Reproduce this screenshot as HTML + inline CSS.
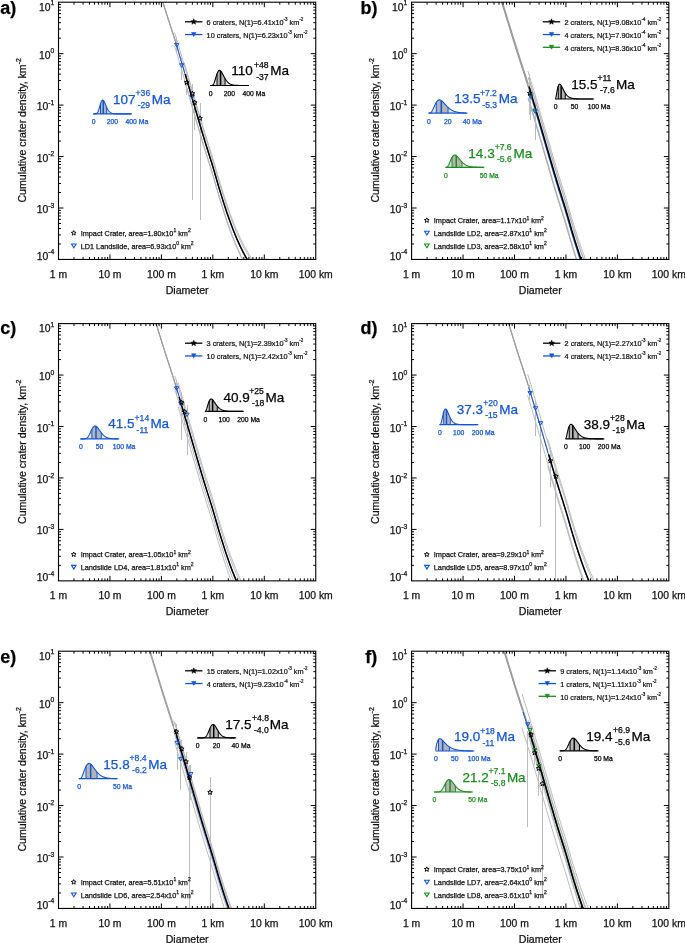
<!DOCTYPE html>
<html><head><meta charset="utf-8"><style>
html,body{margin:0;padding:0;background:#fff;overflow:hidden}
svg{display:block;will-change:transform}
text{font-family:"Liberation Sans", sans-serif;stroke-width:0.25px}
</style></head><body>
<svg width="685" height="943" viewBox="0 0 685 943">
<clipPath id="cpa"><rect x="58.50" y="2.20" width="257.25" height="257.25"/></clipPath>
<g clip-path="url(#cpa)">
<path d="M162.73 2.20 L163.76 5.47 L164.79 8.70 L165.82 11.91 L166.85 15.09 L167.87 18.27 L168.90 21.43 L169.93 24.60 L170.96 27.78 L171.99 30.97 L173.02 34.19 L174.05 37.45 L175.08 40.74" fill="none" stroke="#9c9c9c" stroke-width="1.1"/>
<path d="M174.57 32.63 L175.60 35.95 L176.63 39.32 L177.66 42.72 L178.69 46.16 L179.72 49.63 L180.75 53.12 L181.77 56.62 L182.80 60.13 L183.83 63.63 L184.86 67.13 L185.89 70.62 L186.92 74.12 L187.95 77.63 L188.98 81.16 L190.01 84.70 L191.03 88.24 L192.06 91.79 L193.09 95.34 L194.12 98.89 L195.15 102.43 L196.18 105.97 L197.21 109.49 L198.24 113.01 L199.27 116.51 L200.30 119.99 L201.33 123.45 L202.35 126.89 L203.38 130.30 L204.41 133.68 L205.44 137.00 L206.47 140.28 L207.50 143.54 L208.53 146.78 L209.56 150.03 L210.59 153.29 L211.61 156.60 L212.64 159.96 L213.67 163.40 L214.70 166.93 L215.73 170.51 L216.76 174.11 L217.79 177.67 L218.82 181.18 L219.85 184.58 L220.88 187.92 L221.91 191.23 L222.93 194.50 L223.96 197.73 L224.99 200.91 L226.02 204.03 L227.05 207.08 L228.08 210.05 L229.11 212.95 L230.14 215.80 L231.17 218.59 L232.20 221.32 L233.22 223.98 L234.25 226.58 L235.28 229.09 L236.31 231.53 L237.34 233.92 L238.37 236.25 L239.40 238.52 L240.43 240.73 L241.46 242.87 L242.49 244.93 L243.51 246.91 L244.54 248.82 L245.57 250.67 L246.60 252.47 L247.63 254.23 L248.66 255.94 L249.69 257.61 L250.72 259.23 L250.86 259.45" fill="none" stroke="#aaaaaa" stroke-width="0.8"/>
<path d="M174.57 46.18 L175.60 49.50 L176.63 52.86 L177.66 56.27 L178.69 59.71 L179.72 63.17 L180.75 66.66 L181.77 70.16 L182.80 73.67 L183.83 77.18 L184.86 80.68 L185.89 84.17 L186.92 87.66 L187.95 91.18 L188.98 94.70 L190.01 98.24 L191.03 101.78 L192.06 105.33 L193.09 108.88 L194.12 112.43 L195.15 115.97 L196.18 119.51 L197.21 123.04 L198.24 126.55 L199.27 130.05 L200.30 133.54 L201.33 137.00 L202.35 140.44 L203.38 143.85 L204.41 147.23 L205.44 150.55 L206.47 153.83 L207.50 157.08 L208.53 160.32 L209.56 163.57 L210.59 166.84 L211.61 170.15 L212.64 173.51 L213.67 176.95 L214.70 180.48 L215.73 184.06 L216.76 187.65 L217.79 191.22 L218.82 194.72 L219.85 198.12 L220.88 201.46 L221.91 204.77 L222.93 208.05 L223.96 211.28 L224.99 214.46 L226.02 217.58 L227.05 220.63 L228.08 223.60 L229.11 226.49 L230.14 229.34 L231.17 232.13 L232.20 234.86 L233.22 237.53 L234.25 240.12 L235.28 242.64 L236.31 245.08 L237.34 247.46 L238.37 249.79 L239.40 252.06 L240.43 254.27 L241.46 256.41 L242.49 258.48 L242.99 259.45" fill="none" stroke="#aaaaaa" stroke-width="0.8"/>
<path d="M162.93 2.20 L163.96 5.46 L164.99 8.69 L166.02 11.89 L167.05 15.07 L168.07 18.24 L169.10 21.41 L170.13 24.58 L171.16 27.76 L172.19 30.96 L173.22 34.19 L174.25 37.45 L175.28 40.75 L176.31 44.10 L177.34 47.50 L178.36 50.93 L179.39 54.38 L180.42 57.87 L181.45 61.36 L182.48 64.87 L183.51 68.38 L184.54 71.88" fill="none" stroke="#9c9c9c" stroke-width="1.1"/>
<path d="M184.17 62.54 L185.20 66.04 L186.23 69.53 L187.26 73.03 L188.29 76.55 L189.32 80.08 L190.34 83.62 L191.37 87.16 L192.40 90.71 L193.43 94.26 L194.46 97.81 L195.49 101.35 L196.52 104.88 L197.55 108.41 L198.58 111.92 L199.61 115.41 L200.63 118.89 L201.66 122.34 L202.69 125.77 L203.72 129.17 L204.75 132.54 L205.78 135.84 L206.81 139.11 L207.84 142.36 L208.87 145.60 L209.90 148.85 L210.92 152.13 L211.95 155.45 L212.98 158.84 L214.01 162.31 L215.04 165.86 L216.07 169.45 L217.10 173.04 L218.13 176.59 L219.16 180.06 L220.19 183.43 L221.22 186.76 L222.24 190.06 L223.27 193.33 L224.30 196.54 L225.33 199.70 L226.36 202.80 L227.39 205.82 L228.42 208.77 L229.45 211.65 L230.48 214.47 L231.50 217.25 L232.53 219.96 L233.56 222.60 L234.59 225.17 L235.62 227.66 L236.65 230.07 L237.68 232.44 L238.71 234.76 L239.74 237.01 L240.77 239.20 L241.80 241.31 L242.82 243.35 L243.85 245.30 L244.88 247.18 L245.91 249.02 L246.94 250.81 L247.97 252.55 L249.00 254.25 L250.03 255.90 L251.06 257.50 L252.09 259.06 L252.35 259.45" fill="none" stroke="#aaaaaa" stroke-width="0.8"/>
<path d="M184.17 79.79 L185.20 83.29 L186.23 86.78 L187.26 90.28 L188.29 93.80 L189.32 97.33 L190.34 100.87 L191.37 104.41 L192.40 107.96 L193.43 111.51 L194.46 115.06 L195.49 118.60 L196.52 122.14 L197.55 125.66 L198.58 129.17 L199.61 132.67 L200.63 136.14 L201.66 139.60 L202.69 143.03 L203.72 146.43 L204.75 149.79 L205.78 153.09 L206.81 156.36 L207.84 159.61 L208.87 162.85 L209.90 166.10 L210.92 169.38 L211.95 172.71 L212.98 176.09 L214.01 179.56 L215.04 183.11 L216.07 186.70 L217.10 190.29 L218.13 193.84 L219.16 197.32 L220.19 200.69 L221.22 204.02 L222.24 207.32 L223.27 210.58 L224.30 213.79 L225.33 216.96 L226.36 220.05 L227.39 223.08 L228.42 226.02 L229.45 228.90 L230.48 231.73 L231.50 234.50 L232.53 237.21 L233.56 239.85 L234.59 242.42 L235.62 244.91 L236.65 247.33 L237.68 249.69 L238.71 252.01 L239.74 254.26 L240.77 256.45 L241.80 258.56 L242.24 259.45" fill="none" stroke="#aaaaaa" stroke-width="0.8"/>
<path d="M176.50 37.00V52.00" stroke="#bcbcbc" stroke-width="1"/>
<path d="M181.50 58.00V80.00" stroke="#bcbcbc" stroke-width="1"/>
<path d="M186.50 74.00V95.00" stroke="#bcbcbc" stroke-width="1"/>
<path d="M192.50 85.00V200.00" stroke="#bcbcbc" stroke-width="1"/>
<path d="M192.50 84.00V130.00" stroke="#bcbcbc" stroke-width="1"/>
<path d="M194.50 92.00V130.00" stroke="#bcbcbc" stroke-width="1"/>
<path d="M200.50 103.00V220.00" stroke="#bcbcbc" stroke-width="1"/>
<path d="M175.60 42.43 L176.63 45.80 L177.66 49.20 L178.69 52.64 L179.72 56.11 L180.75 59.60 L181.77 63.10 L182.80 66.61 L183.83 70.11 L184.86 73.61 L185.89 77.10 L186.92 80.60 L187.95 84.11 L188.98 87.64 L190.01 91.18 L191.03 94.72 L192.06 98.27 L193.09 101.82 L194.12 105.37 L195.15 108.91 L196.18 112.45 L197.21 115.97 L198.24 119.49 L199.27 122.99 L200.30 126.47 L201.33 129.93 L202.35 133.37 L203.38 136.78 L204.41 140.16 L205.44 143.49 L206.47 146.76 L207.50 150.02 L208.53 153.26 L209.56 156.51 L210.59 159.77 L211.61 163.08 L212.64 166.44 L213.67 169.88 L214.70 173.41 L215.73 176.99 L216.76 180.59 L217.79 184.15 L218.82 187.66 L219.85 191.06 L220.88 194.40 L221.91 197.71 L222.93 200.98 L223.96 204.22 L224.99 207.40 L226.02 210.51 L227.05 213.56 L228.08 216.53 L229.11 219.43 L230.14 222.28 L231.17 225.07 L232.20 227.80 L233.22 230.46 L234.25 233.06 L235.28 235.57 L236.31 238.01 L237.34 240.40 L238.37 242.73 L239.40 245.00 L240.43 247.21 L241.46 249.35 L242.49 251.41 L243.51 253.39 L244.54 255.30 L245.57 257.15 L246.60 258.95 L246.89 259.45" fill="none" stroke="#1155d4" stroke-width="1.0"/>
<path d="M185.20 74.13 L186.23 77.62 L187.26 81.12 L188.29 84.64 L189.32 88.17 L190.34 91.71 L191.37 95.25 L192.40 98.80 L193.43 102.35 L194.46 105.90 L195.49 109.44 L196.52 112.97 L197.55 116.50 L198.58 120.01 L199.61 123.50 L200.63 126.98 L201.66 130.43 L202.69 133.86 L203.72 137.27 L204.75 140.63 L205.78 143.93 L206.81 147.20 L207.84 150.45 L208.87 153.69 L209.90 156.94 L210.92 160.22 L211.95 163.55 L212.98 166.93 L214.01 170.40 L215.04 173.95 L216.07 177.54 L217.10 181.13 L218.13 184.68 L219.16 188.15 L220.19 191.53 L221.22 194.85 L222.24 198.15 L223.27 201.42 L224.30 204.63 L225.33 207.79 L226.36 210.89 L227.39 213.91 L228.42 216.86 L229.45 219.74 L230.48 222.57 L231.50 225.34 L232.53 228.05 L233.56 230.69 L234.59 233.26 L235.62 235.75 L236.65 238.17 L237.68 240.53 L238.71 242.85 L239.74 245.10 L240.77 247.29 L241.80 249.40 L242.82 251.44 L243.85 253.39 L244.88 255.28 L245.91 257.11 L246.94 258.90 L247.26 259.45" fill="none" stroke="#000" stroke-width="1.5"/>
<path d="M174.55 43.55 L178.85 43.55 L176.70 47.05Z" fill="none" stroke="#1155d4" stroke-width="1.0" stroke-linejoin="miter"/>
<path d="M179.55 63.75 L183.85 63.75 L181.70 67.25Z" fill="none" stroke="#1155d4" stroke-width="1.0" stroke-linejoin="miter"/>
<path d="M189.85 95.45 L194.15 95.45 L192.00 98.95Z" fill="none" stroke="#1155d4" stroke-width="1.0" stroke-linejoin="miter"/>
<path d="M186.70 80.00 L187.36 81.59 L189.08 81.73 L187.77 82.85 L188.17 84.52 L186.70 83.62 L185.23 84.52 L185.63 82.85 L184.32 81.73 L186.04 81.59Z" fill="none" stroke="#000" stroke-width="0.95" stroke-linejoin="miter"/>
<path d="M192.30 91.10 L192.96 92.69 L194.68 92.83 L193.37 93.95 L193.77 95.62 L192.30 94.72 L190.83 95.62 L191.23 93.95 L189.92 92.83 L191.64 92.69Z" fill="none" stroke="#000" stroke-width="0.95" stroke-linejoin="miter"/>
<path d="M194.70 100.10 L195.36 101.69 L197.08 101.83 L195.77 102.95 L196.17 104.62 L194.70 103.72 L193.23 104.62 L193.63 102.95 L192.32 101.83 L194.04 101.69Z" fill="none" stroke="#000" stroke-width="0.95" stroke-linejoin="miter"/>
<path d="M200.00 115.80 L200.66 117.39 L202.38 117.53 L201.07 118.65 L201.47 120.32 L200.00 119.42 L198.53 120.32 L198.93 118.65 L197.62 117.53 L199.34 117.39Z" fill="none" stroke="#000" stroke-width="0.95" stroke-linejoin="miter"/>
</g>
<path d="M185.00 21.80h17.4" stroke="#000" stroke-width="1.3"/>
<path d="M193.70 18.80 L194.44 20.78 L196.55 20.87 L194.90 22.19 L195.46 24.23 L193.70 23.06 L191.94 24.23 L192.50 22.19 L190.85 20.87 L192.96 20.78Z" fill="#000" stroke="#000" stroke-width="0.6" stroke-linejoin="miter"/>
<text transform="scale(0.915 1)" x="225.79" y="25.10" font-size="8" fill="#111" stroke="#111">6 craters, N(1)=6.41x10<tspan font-size="4.9" dy="-4.0">-3</tspan><tspan dy="4.0"> km</tspan><tspan font-size="4.9" dy="-4.0">-2</tspan></text>
<path d="M185.00 34.55h17.4" stroke="#1155d4" stroke-width="1.3"/>
<path d="M191.50 32.45 L195.90 32.45 L193.70 36.45Z" fill="#1155d4" stroke="#1155d4" stroke-width="0.6" stroke-linejoin="miter"/>
<text transform="scale(0.915 1)" x="225.79" y="37.85" font-size="8" fill="#111" stroke="#111">10 craters, N(1)=6.23x10<tspan font-size="4.9" dy="-4.0">-3</tspan><tspan dy="4.0"> km</tspan><tspan font-size="4.9" dy="-4.0">-2</tspan></text>
<path d="M73.70 230.60 L74.36 232.19 L76.08 232.33 L74.77 233.45 L75.17 235.12 L73.70 234.22 L72.23 235.12 L72.63 233.45 L71.32 232.33 L73.04 232.19Z" fill="none" stroke="#000" stroke-width="0.95" stroke-linejoin="miter"/>
<text x="80.70" y="235.90" font-size="7.3" fill="#111" stroke="#111">Impact Crater, area=1.80x10<tspan font-size="5" dy="-3.6">1</tspan><tspan dy="3.6"> km</tspan><tspan font-size="5" dy="-3.6">2</tspan></text>
<path d="M71.50 244.00 L76.10 244.00 L73.80 247.70Z" fill="none" stroke="#1155d4" stroke-width="1.1" stroke-linejoin="miter"/>
<text x="80.70" y="248.65" font-size="7.3" fill="#111" stroke="#111">LD1 Landslide, area=6.93x10<tspan font-size="5" dy="-3.6">0</tspan><tspan dy="3.6"> km</tspan><tspan font-size="5" dy="-3.6">2</tspan></text>
<path d="M93.28 113.90 L93.55 113.90 L93.82 113.90 L94.09 113.90 L94.36 113.90 L94.63 113.90 L94.89 113.90 L95.16 113.90 L95.43 113.89 L95.70 113.87 L95.97 113.83 L96.24 113.77 L96.51 113.66 L96.78 113.51 L97.05 113.28 L97.32 112.98 L97.59 112.58 L97.86 112.09 L98.13 111.50 L98.40 110.82 L98.67 110.04 L98.94 109.19 L99.21 108.28 L99.48 107.33 L99.75 106.36 L100.02 105.39 L100.29 104.46 L100.56 103.58 L100.83 102.77 L101.10 102.04 L101.37 101.43 L101.64 100.92 L101.91 100.53 L102.18 100.27 L102.45 100.13 L102.72 100.11 L102.99 100.20 L103.26 100.39 L103.53 100.68 L103.80 101.06 L104.07 101.50 L104.34 102.01 L104.61 102.56 L104.88 103.15 L105.15 103.76 L105.42 104.39 L105.69 105.02 L105.96 105.65 L106.23 106.28 L106.50 106.88 L106.77 107.46 L107.04 108.02 L107.31 108.56 L107.58 109.06 L107.85 109.53 L108.12 109.97 L108.39 110.37 L108.66 110.75 L108.93 111.09 L109.20 111.40 L109.47 111.69 L109.74 111.95 L110.01 112.18 L110.28 112.39 L110.55 112.57 L110.82 112.74 L111.09 112.89 L111.36 113.02 L111.63 113.14 L111.90 113.24 L112.17 113.33 L112.44 113.41 L112.71 113.48 L112.98 113.54 L113.25 113.59 L113.52 113.63 L113.79 113.67 L114.06 113.70 L114.33 113.73 L114.60 113.76 L114.87 113.78 L115.14 113.80 L115.41 113.81 L115.68 113.83 L115.95 113.84 L116.22 113.85 L116.49 113.86 L116.76 113.86 L117.03 113.87 L117.30 113.87 L117.57 113.88 L117.84 113.88 L118.11 113.89 L118.38 113.89 L118.65 113.89 L118.92 113.89 L119.19 113.89 L119.46 113.89 L119.73 113.90 L120.00 113.90 L120.27 113.90 L120.54 113.90 L120.81 113.90 L121.08 113.90 L121.35 113.90 L121.62 113.90 L121.89 113.90 L122.16 113.90 L122.43 113.90 L122.70 113.90 L122.97 113.90 L123.24 113.90 L123.51 113.90 L123.78 113.90 L124.05 113.90 L124.32 113.90 L124.59 113.90 L124.86 113.90 L125.13 113.90 L125.40 113.90 L125.67 113.90 L125.94 113.90 L126.21 113.90 L126.48 113.90 L126.75 113.90 L127.02 113.90 L127.29 113.90 L127.56 113.90 L127.83 113.90 L128.10 113.90 L128.37 113.90 L128.64 113.90 L128.91 113.90 L129.18 113.90 L129.45 113.90 L129.72 113.90 L129.99 113.90 L130.26 113.90 L130.53 113.90 L130.80 113.90 L130.80 113.90 L93.28 113.90Z" fill="#e4e4e4" stroke="none"/>
<path d="M100.56 113.90 L100.56 103.58 L100.83 102.77 L101.10 102.04 L101.37 101.43 L101.64 100.92 L101.91 100.53 L102.18 100.27 L102.45 100.13 L102.72 100.11 L102.99 100.20 L103.26 100.39 L103.53 100.68 L103.80 101.06 L104.07 101.50 L104.34 102.01 L104.61 102.56 L104.88 103.15 L105.15 103.76 L105.42 104.39 L105.69 105.02 L105.96 105.65 L106.23 106.28 L106.50 106.88 L106.50 113.90Z" fill="#b4b4b4" stroke="none"/>
<path d="M100.53 113.90V103.68" stroke="#1155d4" stroke-width="1.0"/>
<path d="M106.64 113.90V107.18" stroke="#1155d4" stroke-width="1.0"/>
<path d="M103.26 113.90V100.39" stroke="#1155d4" stroke-width="1.5"/>
<path d="M93.28 113.90 L93.55 113.90 L93.82 113.90 L94.09 113.90 L94.36 113.90 L94.63 113.90 L94.89 113.90 L95.16 113.90 L95.43 113.89 L95.70 113.87 L95.97 113.83 L96.24 113.77 L96.51 113.66 L96.78 113.51 L97.05 113.28 L97.32 112.98 L97.59 112.58 L97.86 112.09 L98.13 111.50 L98.40 110.82 L98.67 110.04 L98.94 109.19 L99.21 108.28 L99.48 107.33 L99.75 106.36 L100.02 105.39 L100.29 104.46 L100.56 103.58 L100.83 102.77 L101.10 102.04 L101.37 101.43 L101.64 100.92 L101.91 100.53 L102.18 100.27 L102.45 100.13 L102.72 100.11 L102.99 100.20 L103.26 100.39 L103.53 100.68 L103.80 101.06 L104.07 101.50 L104.34 102.01 L104.61 102.56 L104.88 103.15 L105.15 103.76 L105.42 104.39 L105.69 105.02 L105.96 105.65 L106.23 106.28 L106.50 106.88 L106.77 107.46 L107.04 108.02 L107.31 108.56 L107.58 109.06 L107.85 109.53 L108.12 109.97 L108.39 110.37 L108.66 110.75 L108.93 111.09 L109.20 111.40 L109.47 111.69 L109.74 111.95 L110.01 112.18 L110.28 112.39 L110.55 112.57 L110.82 112.74 L111.09 112.89 L111.36 113.02 L111.63 113.14 L111.90 113.24 L112.17 113.33 L112.44 113.41 L112.71 113.48 L112.98 113.54 L113.25 113.59 L113.52 113.63 L113.79 113.67 L114.06 113.70 L114.33 113.73 L114.60 113.76 L114.87 113.78 L115.14 113.80 L115.41 113.81 L115.68 113.83 L115.95 113.84 L116.22 113.85 L116.49 113.86 L116.76 113.86 L117.03 113.87 L117.30 113.87 L117.57 113.88 L117.84 113.88 L118.11 113.89 L118.38 113.89 L118.65 113.89 L118.92 113.89 L119.19 113.89 L119.46 113.89 L119.73 113.90 L120.00 113.90 L120.27 113.90 L120.54 113.90 L120.81 113.90 L121.08 113.90 L121.35 113.90 L121.62 113.90 L121.89 113.90 L122.16 113.90 L122.43 113.90 L122.70 113.90 L122.97 113.90 L123.24 113.90 L123.51 113.90 L123.78 113.90 L124.05 113.90 L124.32 113.90 L124.59 113.90 L124.86 113.90 L125.13 113.90 L125.40 113.90 L125.67 113.90 L125.94 113.90 L126.21 113.90 L126.48 113.90 L126.75 113.90 L127.02 113.90 L127.29 113.90 L127.56 113.90 L127.83 113.90 L128.10 113.90 L128.37 113.90 L128.64 113.90 L128.91 113.90 L129.18 113.90 L129.45 113.90 L129.72 113.90 L129.99 113.90 L130.26 113.90 L130.53 113.90 L130.80 113.90" fill="none" stroke="#1155d4" stroke-width="1.1"/>
<path d="M93.20 113.90H132.00" stroke="#1155d4" stroke-width="1.2"/>
<text x="93.60" y="124.30" font-size="6.8" text-anchor="middle" fill="#1155d4" stroke="#1155d4">0</text>
<text x="112.40" y="124.30" font-size="6.8" text-anchor="middle" fill="#1155d4" stroke="#1155d4">200</text>
<text x="125.53" y="124.30" font-size="6.8" fill="#1155d4" stroke="#1155d4">400 Ma</text>
<text x="112.97" y="104.00" font-size="13.5" fill="#1155d4" stroke="#1155d4">107</text>
<text x="135.58" y="96.25" font-size="8.6" fill="#1155d4" stroke="#1155d4">+36</text>
<text x="137.72" y="108.20" font-size="8.6" fill="#1155d4" stroke="#1155d4">-29</text>
<text x="151.79" y="104.00" font-size="13.5" fill="#1155d4" stroke="#1155d4">Ma</text>
<path d="M210.28 85.50 L210.55 85.50 L210.82 85.50 L211.09 85.50 L211.36 85.49 L211.63 85.47 L211.89 85.43 L212.16 85.35 L212.43 85.23 L212.70 85.05 L212.97 84.79 L213.24 84.46 L213.51 84.04 L213.78 83.54 L214.05 82.95 L214.32 82.28 L214.59 81.53 L214.86 80.73 L215.13 79.87 L215.40 78.99 L215.67 78.08 L215.94 77.17 L216.21 76.28 L216.48 75.41 L216.75 74.59 L217.02 73.81 L217.29 73.10 L217.56 72.46 L217.83 71.90 L218.10 71.42 L218.37 71.02 L218.64 70.71 L218.91 70.49 L219.18 70.36 L219.45 70.30 L219.72 70.32 L219.99 70.42 L220.26 70.58 L220.53 70.81 L220.80 71.09 L221.07 71.43 L221.34 71.80 L221.61 72.21 L221.88 72.66 L222.15 73.13 L222.42 73.61 L222.69 74.12 L222.96 74.63 L223.23 75.15 L223.50 75.66 L223.77 76.18 L224.04 76.69 L224.31 77.19 L224.58 77.68 L224.85 78.15 L225.12 78.62 L225.39 79.06 L225.66 79.49 L225.93 79.90 L226.20 80.29 L226.47 80.66 L226.74 81.01 L227.01 81.35 L227.28 81.66 L227.55 81.96 L227.82 82.24 L228.09 82.50 L228.36 82.74 L228.63 82.97 L228.90 83.18 L229.17 83.38 L229.44 83.56 L229.71 83.73 L229.98 83.88 L230.25 84.03 L230.52 84.16 L230.79 84.28 L231.06 84.39 L231.33 84.50 L231.60 84.59 L231.87 84.68 L232.14 84.76 L232.41 84.83 L232.68 84.89 L232.95 84.95 L233.22 85.01 L233.49 85.06 L233.76 85.10 L234.03 85.14 L234.30 85.18 L234.57 85.21 L234.84 85.24 L235.11 85.27 L235.38 85.29 L235.65 85.31 L235.92 85.33 L236.19 85.35 L236.46 85.37 L236.73 85.38 L237.00 85.39 L237.27 85.40 L237.54 85.42 L237.81 85.42 L238.08 85.43 L238.35 85.44 L238.62 85.45 L238.89 85.45 L239.16 85.46 L239.43 85.46 L239.70 85.47 L239.97 85.47 L240.24 85.47 L240.51 85.48 L240.78 85.48 L241.05 85.48 L241.32 85.48 L241.59 85.49 L241.86 85.49 L242.13 85.49 L242.40 85.49 L242.67 85.49 L242.94 85.49 L243.21 85.49 L243.48 85.49 L243.75 85.49 L244.02 85.50 L244.29 85.50 L244.56 85.50 L244.83 85.50 L245.10 85.50 L245.37 85.50 L245.64 85.50 L245.91 85.50 L246.18 85.50 L246.45 85.50 L246.72 85.50 L246.99 85.50 L247.26 85.50 L247.53 85.50 L247.80 85.50 L247.80 85.50 L210.28 85.50Z" fill="#e4e4e4" stroke="none"/>
<path d="M217.29 85.50 L217.29 73.10 L217.56 72.46 L217.83 71.90 L218.10 71.42 L218.37 71.02 L218.64 70.71 L218.91 70.49 L219.18 70.36 L219.45 70.30 L219.72 70.32 L219.99 70.42 L220.26 70.58 L220.53 70.81 L220.80 71.09 L221.07 71.43 L221.34 71.80 L221.61 72.21 L221.88 72.66 L222.15 73.13 L222.42 73.61 L222.69 74.12 L222.96 74.63 L223.23 75.15 L223.50 75.66 L223.77 76.18 L224.04 76.69 L224.31 77.19 L224.58 77.68 L224.85 78.15 L224.85 85.50Z" fill="#b4b4b4" stroke="none"/>
<path d="M217.06 85.50V73.71" stroke="#000" stroke-width="1.0"/>
<path d="M225.05 85.50V78.50" stroke="#000" stroke-width="1.0"/>
<path d="M220.54 85.50V70.82" stroke="#000" stroke-width="1.5"/>
<path d="M210.28 85.50 L210.55 85.50 L210.82 85.50 L211.09 85.50 L211.36 85.49 L211.63 85.47 L211.89 85.43 L212.16 85.35 L212.43 85.23 L212.70 85.05 L212.97 84.79 L213.24 84.46 L213.51 84.04 L213.78 83.54 L214.05 82.95 L214.32 82.28 L214.59 81.53 L214.86 80.73 L215.13 79.87 L215.40 78.99 L215.67 78.08 L215.94 77.17 L216.21 76.28 L216.48 75.41 L216.75 74.59 L217.02 73.81 L217.29 73.10 L217.56 72.46 L217.83 71.90 L218.10 71.42 L218.37 71.02 L218.64 70.71 L218.91 70.49 L219.18 70.36 L219.45 70.30 L219.72 70.32 L219.99 70.42 L220.26 70.58 L220.53 70.81 L220.80 71.09 L221.07 71.43 L221.34 71.80 L221.61 72.21 L221.88 72.66 L222.15 73.13 L222.42 73.61 L222.69 74.12 L222.96 74.63 L223.23 75.15 L223.50 75.66 L223.77 76.18 L224.04 76.69 L224.31 77.19 L224.58 77.68 L224.85 78.15 L225.12 78.62 L225.39 79.06 L225.66 79.49 L225.93 79.90 L226.20 80.29 L226.47 80.66 L226.74 81.01 L227.01 81.35 L227.28 81.66 L227.55 81.96 L227.82 82.24 L228.09 82.50 L228.36 82.74 L228.63 82.97 L228.90 83.18 L229.17 83.38 L229.44 83.56 L229.71 83.73 L229.98 83.88 L230.25 84.03 L230.52 84.16 L230.79 84.28 L231.06 84.39 L231.33 84.50 L231.60 84.59 L231.87 84.68 L232.14 84.76 L232.41 84.83 L232.68 84.89 L232.95 84.95 L233.22 85.01 L233.49 85.06 L233.76 85.10 L234.03 85.14 L234.30 85.18 L234.57 85.21 L234.84 85.24 L235.11 85.27 L235.38 85.29 L235.65 85.31 L235.92 85.33 L236.19 85.35 L236.46 85.37 L236.73 85.38 L237.00 85.39 L237.27 85.40 L237.54 85.42 L237.81 85.42 L238.08 85.43 L238.35 85.44 L238.62 85.45 L238.89 85.45 L239.16 85.46 L239.43 85.46 L239.70 85.47 L239.97 85.47 L240.24 85.47 L240.51 85.48 L240.78 85.48 L241.05 85.48 L241.32 85.48 L241.59 85.49 L241.86 85.49 L242.13 85.49 L242.40 85.49 L242.67 85.49 L242.94 85.49 L243.21 85.49 L243.48 85.49 L243.75 85.49 L244.02 85.50 L244.29 85.50 L244.56 85.50 L244.83 85.50 L245.10 85.50 L245.37 85.50 L245.64 85.50 L245.91 85.50 L246.18 85.50 L246.45 85.50 L246.72 85.50 L246.99 85.50 L247.26 85.50 L247.53 85.50 L247.80 85.50" fill="none" stroke="#000" stroke-width="1.1"/>
<path d="M210.20 85.50H249.00" stroke="#000" stroke-width="1.2"/>
<text x="210.60" y="95.90" font-size="6.8" text-anchor="middle" fill="#000" stroke="#000">0</text>
<text x="229.40" y="95.90" font-size="6.8" text-anchor="middle" fill="#000" stroke="#000">200</text>
<text x="242.53" y="95.90" font-size="6.8" fill="#000" stroke="#000">400 Ma</text>
<text x="231.27" y="75.30" font-size="13.5" fill="#000" stroke="#000">110</text>
<text x="253.98" y="67.55" font-size="8.6" fill="#000" stroke="#000">+48</text>
<text x="256.22" y="79.50" font-size="8.6" fill="#000" stroke="#000">-37</text>
<text x="270.19" y="75.30" font-size="13.5" fill="#000" stroke="#000">Ma</text>
<rect x="58.50" y="2.20" width="257.25" height="257.25" fill="none" stroke="#000" stroke-width="1.1"/>
<path d="M73.99 259.45v-2.5M73.99 2.20v2.5M58.50 243.96h2.5M315.75 243.96h-2.5M83.05 259.45v-2.5M83.05 2.20v2.5M58.50 234.90h2.5M315.75 234.90h-2.5M89.48 259.45v-2.5M89.48 2.20v2.5M58.50 228.47h2.5M315.75 228.47h-2.5M94.46 259.45v-2.5M94.46 2.20v2.5M58.50 223.49h2.5M315.75 223.49h-2.5M98.54 259.45v-2.5M98.54 2.20v2.5M58.50 219.41h2.5M315.75 219.41h-2.5M101.98 259.45v-2.5M101.98 2.20v2.5M58.50 215.97h2.5M315.75 215.97h-2.5M104.96 259.45v-2.5M104.96 2.20v2.5M58.50 212.99h2.5M315.75 212.99h-2.5M107.60 259.45v-2.5M107.60 2.20v2.5M58.50 210.35h2.5M315.75 210.35h-2.5M109.95 259.45v-5M109.95 2.20v5M58.50 208.00h5M315.75 208.00h-5M125.44 259.45v-2.5M125.44 2.20v2.5M58.50 192.51h2.5M315.75 192.51h-2.5M134.50 259.45v-2.5M134.50 2.20v2.5M58.50 183.45h2.5M315.75 183.45h-2.5M140.93 259.45v-2.5M140.93 2.20v2.5M58.50 177.02h2.5M315.75 177.02h-2.5M145.91 259.45v-2.5M145.91 2.20v2.5M58.50 172.04h2.5M315.75 172.04h-2.5M149.99 259.45v-2.5M149.99 2.20v2.5M58.50 167.96h2.5M315.75 167.96h-2.5M153.43 259.45v-2.5M153.43 2.20v2.5M58.50 164.52h2.5M315.75 164.52h-2.5M156.41 259.45v-2.5M156.41 2.20v2.5M58.50 161.54h2.5M315.75 161.54h-2.5M159.05 259.45v-2.5M159.05 2.20v2.5M58.50 158.90h2.5M315.75 158.90h-2.5M161.40 259.45v-5M161.40 2.20v5M58.50 156.55h5M315.75 156.55h-5M176.89 259.45v-2.5M176.89 2.20v2.5M58.50 141.06h2.5M315.75 141.06h-2.5M185.95 259.45v-2.5M185.95 2.20v2.5M58.50 132.00h2.5M315.75 132.00h-2.5M192.38 259.45v-2.5M192.38 2.20v2.5M58.50 125.57h2.5M315.75 125.57h-2.5M197.36 259.45v-2.5M197.36 2.20v2.5M58.50 120.59h2.5M315.75 120.59h-2.5M201.44 259.45v-2.5M201.44 2.20v2.5M58.50 116.51h2.5M315.75 116.51h-2.5M204.88 259.45v-2.5M204.88 2.20v2.5M58.50 113.07h2.5M315.75 113.07h-2.5M207.86 259.45v-2.5M207.86 2.20v2.5M58.50 110.09h2.5M315.75 110.09h-2.5M210.50 259.45v-2.5M210.50 2.20v2.5M58.50 107.45h2.5M315.75 107.45h-2.5M212.85 259.45v-5M212.85 2.20v5M58.50 105.10h5M315.75 105.10h-5M228.34 259.45v-2.5M228.34 2.20v2.5M58.50 89.61h2.5M315.75 89.61h-2.5M237.40 259.45v-2.5M237.40 2.20v2.5M58.50 80.55h2.5M315.75 80.55h-2.5M243.83 259.45v-2.5M243.83 2.20v2.5M58.50 74.12h2.5M315.75 74.12h-2.5M248.81 259.45v-2.5M248.81 2.20v2.5M58.50 69.14h2.5M315.75 69.14h-2.5M252.89 259.45v-2.5M252.89 2.20v2.5M58.50 65.06h2.5M315.75 65.06h-2.5M256.33 259.45v-2.5M256.33 2.20v2.5M58.50 61.62h2.5M315.75 61.62h-2.5M259.31 259.45v-2.5M259.31 2.20v2.5M58.50 58.64h2.5M315.75 58.64h-2.5M261.95 259.45v-2.5M261.95 2.20v2.5M58.50 56.00h2.5M315.75 56.00h-2.5M264.30 259.45v-5M264.30 2.20v5M58.50 53.65h5M315.75 53.65h-5M279.79 259.45v-2.5M279.79 2.20v2.5M58.50 38.16h2.5M315.75 38.16h-2.5M288.85 259.45v-2.5M288.85 2.20v2.5M58.50 29.10h2.5M315.75 29.10h-2.5M295.28 259.45v-2.5M295.28 2.20v2.5M58.50 22.67h2.5M315.75 22.67h-2.5M300.26 259.45v-2.5M300.26 2.20v2.5M58.50 17.69h2.5M315.75 17.69h-2.5M304.34 259.45v-2.5M304.34 2.20v2.5M58.50 13.61h2.5M315.75 13.61h-2.5M307.78 259.45v-2.5M307.78 2.20v2.5M58.50 10.17h2.5M315.75 10.17h-2.5M310.76 259.45v-2.5M310.76 2.20v2.5M58.50 7.19h2.5M315.75 7.19h-2.5M313.40 259.45v-2.5M313.40 2.20v2.5M58.50 4.55h2.5M315.75 4.55h-2.5" stroke="#000" stroke-width="1" fill="none"/>
<text x="54.30" y="10.80" font-size="10.4" text-anchor="end" fill="#111" stroke="#111">10<tspan font-size="6.8" dy="-5.4">1</tspan></text>
<text x="54.30" y="58.65" font-size="10.4" text-anchor="end" fill="#111" stroke="#111">10<tspan font-size="6.8" dy="-5.4">0</tspan></text>
<text x="54.30" y="110.10" font-size="10.4" text-anchor="end" fill="#111" stroke="#111">10<tspan font-size="6.8" dy="-5.4">-1</tspan></text>
<text x="54.30" y="161.55" font-size="10.4" text-anchor="end" fill="#111" stroke="#111">10<tspan font-size="6.8" dy="-5.4">-2</tspan></text>
<text x="54.30" y="213.00" font-size="10.4" text-anchor="end" fill="#111" stroke="#111">10<tspan font-size="6.8" dy="-5.4">-3</tspan></text>
<text x="54.30" y="259.55" font-size="10.4" text-anchor="end" fill="#111" stroke="#111">10<tspan font-size="6.8" dy="-5.4">-4</tspan></text>
<text x="58.50" y="278.05" font-size="10.4" text-anchor="middle" fill="#111" stroke="#111">1 m</text>
<text x="109.95" y="278.05" font-size="10.4" text-anchor="middle" fill="#111" stroke="#111">10 m</text>
<text x="161.40" y="278.05" font-size="10.4" text-anchor="middle" fill="#111" stroke="#111">100 m</text>
<text x="212.85" y="278.05" font-size="10.4" text-anchor="middle" fill="#111" stroke="#111">1 km</text>
<text x="264.30" y="278.05" font-size="10.4" text-anchor="middle" fill="#111" stroke="#111">10 km</text>
<text x="315.75" y="278.05" font-size="10.4" text-anchor="middle" fill="#111" stroke="#111">100 km</text>
<text x="187.12" y="293.95" font-size="10.6" text-anchor="middle" fill="#111" stroke="#111">Diameter</text>
<text transform="translate(25.60,130.32) rotate(-90)" font-size="10.55" text-anchor="middle" fill="#111" stroke="#111">Cumulative crater density, km<tspan font-size="7" dy="-4.5">-2</tspan></text>
<text x="16.2" y="13.8" font-size="18" font-weight="bold" text-anchor="end" fill="#000" stroke="#000">a)</text>
<clipPath id="cpb"><rect x="411.60" y="2.20" width="257.25" height="257.25"/></clipPath>
<g clip-path="url(#cpb)">
<path d="M501.97 2.20 L502.99 5.52 L504.02 8.84 L505.05 12.18 L506.08 15.52 L507.11 18.87 L508.14 22.22 L509.17 25.57 L510.20 28.92 L511.23 32.26 L512.26 35.59 L513.28 38.92 L514.31 42.23 L515.34 45.52 L516.37 48.80 L517.40 52.05 L518.43 55.27 L519.46 58.47 L520.49 61.64 L521.52 64.81 L522.55 67.98 L523.57 71.15 L524.60 74.34 L525.63 77.54 L526.66 80.78 L527.69 84.06 L528.72 87.37" fill="none" stroke="#9c9c9c" stroke-width="1.1"/>
<path d="M528.47 77.05 L529.50 80.40 L530.53 83.80 L531.56 87.23 L532.59 90.69 L533.62 94.18 L534.64 97.67 L535.67 101.18 L536.70 104.69 L537.73 108.19 L538.76 111.68 L539.79 115.18 L540.82 118.69 L541.85 122.21 L542.88 125.74 L543.91 129.29 L544.94 132.83 L545.96 136.38 L546.99 139.93 L548.02 143.48 L549.05 147.02 L550.08 150.55 L551.11 154.06 L552.14 157.57 L553.17 161.05 L554.20 164.52 L555.23 167.96 L556.25 171.38 L557.28 174.77 L558.31 178.11 L559.34 181.39 L560.37 184.65 L561.40 187.89 L562.43 191.14 L563.46 194.40 L564.49 197.70 L565.51 201.04 L566.54 204.46 L567.57 207.98 L568.60 211.55 L569.63 215.14 L570.66 218.72 L571.69 222.24 L572.72 225.67 L573.75 229.01 L574.78 232.33 L575.81 235.61 L576.83 238.86 L577.86 242.05 L578.89 245.18 L579.92 248.25 L580.95 251.23 L581.98 254.14 L583.01 257.00 L583.91 259.45" fill="none" stroke="#aaaaaa" stroke-width="0.8"/>
<path d="M528.47 97.67 L529.50 101.03 L530.53 104.43 L531.56 107.86 L532.59 111.32 L533.62 114.80 L534.64 118.30 L535.67 121.81 L536.70 125.32 L537.73 128.82 L538.76 132.31 L539.79 135.80 L540.82 139.31 L541.85 142.84 L542.88 146.37 L543.91 149.91 L544.94 153.46 L545.96 157.01 L546.99 160.56 L548.02 164.10 L549.05 167.64 L550.08 171.17 L551.11 174.69 L552.14 178.20 L553.17 181.68 L554.20 185.15 L555.23 188.59 L556.25 192.01 L557.28 195.40 L558.31 198.73 L559.34 202.02 L560.37 205.28 L561.40 208.52 L562.43 211.76 L563.46 215.03 L564.49 218.32 L565.51 221.67 L566.54 225.09 L567.57 228.60 L568.60 232.18 L569.63 235.77 L570.66 239.35 L571.69 242.87 L572.72 246.30 L573.75 249.64 L574.78 252.96 L575.81 256.24 L576.82 259.45" fill="none" stroke="#aaaaaa" stroke-width="0.8"/>
<path d="M501.57 2.20 L502.60 5.51 L503.63 8.84 L504.66 12.17 L505.69 15.51 L506.72 18.86 L507.75 22.21 L508.78 25.56 L509.80 28.90 L510.83 32.25 L511.86 35.59 L512.89 38.91 L513.92 42.23 L514.95 45.53 L515.98 48.82 L517.01 52.08 L518.04 55.31 L519.07 58.51 L520.09 61.70 L521.12 64.87 L522.15 68.03 L523.18 71.20 L524.21 74.38 L525.24 77.58 L526.27 80.81 L527.30 84.07 L528.33 87.37 L529.36 90.72" fill="none" stroke="#9c9c9c" stroke-width="1.1"/>
<path d="M528.47 78.28 L529.50 81.64 L530.53 85.04 L531.56 88.47 L532.59 91.93 L533.62 95.41 L534.64 98.91 L535.67 102.42 L536.70 105.93 L537.73 109.43 L538.76 112.92 L539.79 116.41 L540.82 119.92 L541.85 123.45 L542.88 126.98 L543.91 130.52 L544.94 134.07 L545.96 137.62 L546.99 141.17 L548.02 144.71 L549.05 148.25 L550.08 151.78 L551.11 155.30 L552.14 158.81 L553.17 162.29 L554.20 165.76 L555.23 169.20 L556.25 172.62 L557.28 176.01 L558.31 179.34 L559.34 182.63 L560.37 185.89 L561.40 189.13 L562.43 192.37 L563.46 195.64 L564.49 198.93 L565.51 202.28 L566.54 205.70 L567.57 209.21 L568.60 212.79 L569.63 216.38 L570.66 219.96 L571.69 223.48 L572.72 226.91 L573.75 230.25 L574.78 233.57 L575.81 236.85 L576.83 240.09 L577.86 243.28 L578.89 246.42 L579.92 249.48 L580.95 252.47 L581.98 255.38 L583.01 258.24 L583.45 259.45" fill="none" stroke="#aaaaaa" stroke-width="0.8"/>
<path d="M528.47 98.97 L529.50 102.33 L530.53 105.73 L531.56 109.16 L532.59 112.62 L533.62 116.10 L534.64 119.60 L535.67 123.11 L536.70 126.62 L537.73 130.12 L538.76 133.61 L539.79 137.10 L540.82 140.61 L541.85 144.14 L542.88 147.67 L543.91 151.21 L544.94 154.76 L545.96 158.31 L546.99 161.86 L548.02 165.40 L549.05 168.94 L550.08 172.47 L551.11 175.99 L552.14 179.50 L553.17 182.98 L554.20 186.45 L555.23 189.89 L556.25 193.31 L557.28 196.70 L558.31 200.03 L559.34 203.32 L560.37 206.58 L561.40 209.82 L562.43 213.07 L563.46 216.33 L564.49 219.62 L565.51 222.97 L566.54 226.39 L567.57 229.91 L568.60 233.48 L569.63 237.07 L570.66 240.65 L571.69 244.17 L572.72 247.60 L573.75 250.94 L574.78 254.26 L575.81 257.54 L576.41 259.45" fill="none" stroke="#aaaaaa" stroke-width="0.8"/>
<path d="M502.54 2.20 L503.57 5.52 L504.60 8.85 L505.63 12.20 L506.65 15.54 L507.68 18.89 L508.71 22.24 L509.74 25.59 L510.77 28.93 L511.80 32.27 L512.83 35.60 L513.86 38.92 L514.89 42.22 L515.92 45.51 L516.94 48.77 L517.97 52.00 L519.00 55.21 L520.03 58.39 L521.06 61.56 L522.09 64.73 L523.12 67.90 L524.15 71.08 L525.18 74.27 L526.21 77.50 L527.23 80.75 L528.26 84.05" fill="none" stroke="#9c9c9c" stroke-width="1.1"/>
<path d="M527.97 71.13 L529.00 74.46 L530.03 77.84 L531.06 81.25 L532.09 84.70 L533.12 88.18 L534.14 91.67 L535.17 95.17 L536.20 98.68 L537.23 102.18 L538.26 105.68 L539.29 109.17 L540.32 112.67 L541.35 116.19 L542.38 119.72 L543.41 123.26 L544.43 126.80 L545.46 130.35 L546.49 133.90 L547.52 137.45 L548.55 140.99 L549.58 144.53 L550.61 148.05 L551.64 151.56 L552.67 155.06 L553.70 158.53 L554.73 161.99 L555.75 165.42 L556.78 168.82 L557.81 172.19 L558.84 175.49 L559.87 178.76 L560.90 182.01 L561.93 185.25 L562.96 188.51 L563.99 191.78 L565.01 195.10 L566.04 198.48 L567.07 201.96 L568.10 205.50 L569.13 209.09 L570.16 212.68 L571.19 216.23 L572.22 219.71 L573.25 223.08 L574.28 226.41 L575.31 229.72 L576.33 232.98 L577.36 236.20 L578.39 239.36 L579.42 242.46 L580.45 245.49 L581.48 248.43 L582.51 251.31 L583.54 254.14 L584.57 256.92 L585.53 259.45" fill="none" stroke="#aaaaaa" stroke-width="0.8"/>
<path d="M527.97 98.17 L529.00 101.50 L530.03 104.88 L531.06 108.30 L532.09 111.75 L533.12 115.22 L534.14 118.71 L535.17 122.21 L536.20 125.72 L537.23 129.23 L538.26 132.72 L539.29 136.21 L540.32 139.72 L541.35 143.23 L542.38 146.76 L543.41 150.30 L544.43 153.85 L545.46 157.40 L546.49 160.94 L547.52 164.49 L548.55 168.03 L549.58 171.57 L550.61 175.09 L551.64 178.60 L552.67 182.10 L553.70 185.58 L554.73 189.03 L555.75 192.46 L556.78 195.87 L557.81 199.23 L558.84 202.54 L559.87 205.81 L560.90 209.05 L561.93 212.30 L562.96 215.55 L563.99 218.83 L565.01 222.15 L566.04 225.53 L567.07 229.00 L568.10 232.55 L569.13 236.13 L570.16 239.72 L571.19 243.27 L572.22 246.75 L573.25 250.13 L574.28 253.46 L575.31 256.76 L576.15 259.45" fill="none" stroke="#aaaaaa" stroke-width="0.8"/>
<path d="M529.50 74.00V115.00" stroke="#bcbcbc" stroke-width="1"/>
<path d="M530.50 88.00V120.00" stroke="#bcbcbc" stroke-width="1"/>
<path d="M535.50 100.00V140.00" stroke="#bcbcbc" stroke-width="1"/>
<path d="M529.50 89.93 L530.53 93.32 L531.56 96.76 L532.59 100.22 L533.62 103.70 L534.64 107.20 L535.67 110.70 L536.70 114.21 L537.73 117.71 L538.76 121.21 L539.79 124.70 L540.82 128.21 L541.85 131.73 L542.88 135.27 L543.91 138.81 L544.94 142.36 L545.96 145.91 L546.99 149.46 L548.02 153.00 L549.05 156.54 L550.08 160.07 L551.11 163.59 L552.14 167.09 L553.17 170.58 L554.20 174.05 L555.23 177.49 L556.25 180.91 L557.28 184.29 L558.31 187.63 L559.34 190.92 L560.37 194.17 L561.40 197.42 L562.43 200.66 L563.46 203.92 L564.49 207.22 L565.51 210.57 L566.54 213.99 L567.57 217.50 L568.60 221.07 L569.63 224.67 L570.66 228.24 L571.69 231.76 L572.72 235.19 L573.75 238.53 L574.78 241.85 L575.81 245.14 L576.83 248.38 L577.86 251.57 L578.89 254.70 L579.92 257.77 L580.50 259.45" fill="none" stroke="#1c8c1c" stroke-width="1.0"/>
<path d="M529.50 91.19 L530.53 94.59 L531.56 98.02 L532.59 101.48 L533.62 104.96 L534.64 108.46 L535.67 111.97 L536.70 115.48 L537.73 118.98 L538.76 122.47 L539.79 125.96 L540.82 129.47 L541.85 133.00 L542.88 136.53 L543.91 140.07 L544.94 143.62 L545.96 147.17 L546.99 150.72 L548.02 154.27 L549.05 157.80 L550.08 161.33 L551.11 164.85 L552.14 168.36 L553.17 171.84 L554.20 175.31 L555.23 178.75 L556.25 182.17 L557.28 185.56 L558.31 188.89 L559.34 192.18 L560.37 195.44 L561.40 198.68 L562.43 201.93 L563.46 205.19 L564.49 208.48 L565.51 211.83 L566.54 215.25 L567.57 218.77 L568.60 222.34 L569.63 225.93 L570.66 229.51 L571.69 233.03 L572.72 236.46 L573.75 239.80 L574.78 243.12 L575.81 246.40 L576.83 249.64 L577.86 252.84 L578.89 255.97 L579.92 259.03 L580.06 259.45" fill="none" stroke="#1155d4" stroke-width="1.0"/>
<path d="M529.00 86.44 L530.03 89.82 L531.06 93.24 L532.09 96.69 L533.12 100.16 L534.14 103.65 L535.17 107.15 L536.20 110.66 L537.23 114.17 L538.26 117.66 L539.29 121.15 L540.32 124.66 L541.35 128.17 L542.38 131.70 L543.41 135.24 L544.43 138.79 L545.46 142.34 L546.49 145.89 L547.52 149.43 L548.55 152.97 L549.58 156.51 L550.61 160.03 L551.64 163.55 L552.67 167.04 L553.70 170.52 L554.73 173.97 L555.75 177.40 L556.78 180.81 L557.81 184.17 L558.84 187.48 L559.87 190.75 L560.90 194.00 L561.93 197.24 L562.96 200.49 L563.99 203.77 L565.01 207.09 L566.04 210.47 L567.07 213.94 L568.10 217.49 L569.13 221.07 L570.16 224.66 L571.19 228.22 L572.22 231.69 L573.25 235.07 L574.28 238.40 L575.31 241.70 L576.33 244.96 L577.36 248.18 L578.39 251.34 L579.42 254.44 L580.45 257.47 L581.14 259.45" fill="none" stroke="#000" stroke-width="1.5"/>
<path d="M528.15 93.85 L532.45 93.85 L530.30 97.35Z" fill="none" stroke="#1c8c1c" stroke-width="1.0" stroke-linejoin="miter"/>
<path d="M528.45 94.95 L532.75 94.95 L530.60 98.45Z" fill="none" stroke="#1155d4" stroke-width="1.0" stroke-linejoin="miter"/>
<path d="M532.75 109.15 L537.05 109.15 L534.90 112.65Z" fill="none" stroke="#1c8c1c" stroke-width="1.0" stroke-linejoin="miter"/>
<path d="M533.05 109.95 L537.35 109.95 L535.20 113.45Z" fill="none" stroke="#1155d4" stroke-width="1.0" stroke-linejoin="miter"/>
<path d="M529.80 90.70 L530.46 92.29 L532.18 92.43 L530.87 93.55 L531.27 95.22 L529.80 94.33 L528.33 95.22 L528.73 93.55 L527.42 92.43 L529.14 92.29Z" fill="none" stroke="#000" stroke-width="0.95" stroke-linejoin="miter"/>
</g>
<path d="M542.80 21.80h17.4" stroke="#000" stroke-width="1.3"/>
<path d="M551.50 18.80 L552.24 20.78 L554.35 20.87 L552.70 22.19 L553.26 24.23 L551.50 23.06 L549.74 24.23 L550.30 22.19 L548.65 20.87 L550.76 20.78Z" fill="#000" stroke="#000" stroke-width="0.6" stroke-linejoin="miter"/>
<text transform="scale(0.915 1)" x="616.83" y="25.10" font-size="8" fill="#111" stroke="#111">2 craters, N(1)=9.08x10<tspan font-size="4.9" dy="-4.0">-4</tspan><tspan dy="4.0"> km</tspan><tspan font-size="4.9" dy="-4.0">-2</tspan></text>
<path d="M542.80 34.55h17.4" stroke="#1155d4" stroke-width="1.3"/>
<path d="M549.30 32.45 L553.70 32.45 L551.50 36.45Z" fill="#1155d4" stroke="#1155d4" stroke-width="0.6" stroke-linejoin="miter"/>
<text transform="scale(0.915 1)" x="616.83" y="37.85" font-size="8" fill="#111" stroke="#111">4 craters, N(1)=7.90x10<tspan font-size="4.9" dy="-4.0">-4</tspan><tspan dy="4.0"> km</tspan><tspan font-size="4.9" dy="-4.0">-2</tspan></text>
<path d="M542.80 47.30h17.4" stroke="#1c8c1c" stroke-width="1.3"/>
<path d="M549.30 45.20 L553.70 45.20 L551.50 49.20Z" fill="#1c8c1c" stroke="#1c8c1c" stroke-width="0.6" stroke-linejoin="miter"/>
<text transform="scale(0.915 1)" x="616.83" y="50.60" font-size="8" fill="#111" stroke="#111">4 craters, N(1)=8.36x10<tspan font-size="4.9" dy="-4.0">-4</tspan><tspan dy="4.0"> km</tspan><tspan font-size="4.9" dy="-4.0">-2</tspan></text>
<path d="M426.80 217.85 L427.46 219.44 L429.18 219.58 L427.87 220.70 L428.27 222.37 L426.80 221.47 L425.33 222.37 L425.73 220.70 L424.42 219.58 L426.14 219.44Z" fill="none" stroke="#000" stroke-width="0.95" stroke-linejoin="miter"/>
<text x="433.80" y="223.15" font-size="7.3" fill="#111" stroke="#111">Impact Crater, area=1.17x10<tspan font-size="5" dy="-3.6">1</tspan><tspan dy="3.6"> km</tspan><tspan font-size="5" dy="-3.6">2</tspan></text>
<path d="M424.60 231.25 L429.20 231.25 L426.90 234.95Z" fill="none" stroke="#1155d4" stroke-width="1.1" stroke-linejoin="miter"/>
<text x="433.80" y="235.90" font-size="7.3" fill="#111" stroke="#111">Landslide LD2, area=2.87x10<tspan font-size="5" dy="-3.6">1</tspan><tspan dy="3.6"> km</tspan><tspan font-size="5" dy="-3.6">2</tspan></text>
<path d="M424.60 244.00 L429.20 244.00 L426.90 247.70Z" fill="none" stroke="#1c8c1c" stroke-width="1.1" stroke-linejoin="miter"/>
<text x="433.80" y="248.65" font-size="7.3" fill="#111" stroke="#111">Landslide LD3, area=2.58x10<tspan font-size="5" dy="-3.6">1</tspan><tspan dy="3.6"> km</tspan><tspan font-size="5" dy="-3.6">2</tspan></text>
<path d="M428.68 113.10 L428.95 113.10 L429.22 113.09 L429.49 113.08 L429.76 113.04 L430.03 112.97 L430.29 112.87 L430.56 112.72 L430.83 112.53 L431.10 112.28 L431.37 111.99 L431.64 111.64 L431.91 111.25 L432.18 110.80 L432.45 110.32 L432.72 109.81 L432.99 109.26 L433.26 108.69 L433.53 108.10 L433.80 107.50 L434.07 106.89 L434.34 106.29 L434.61 105.69 L434.88 105.11 L435.15 104.54 L435.42 103.99 L435.69 103.47 L435.96 102.98 L436.23 102.52 L436.50 102.09 L436.77 101.70 L437.04 101.35 L437.31 101.04 L437.58 100.76 L437.85 100.53 L438.12 100.33 L438.39 100.17 L438.66 100.05 L438.93 99.96 L439.20 99.92 L439.47 99.90 L439.74 99.92 L440.01 99.97 L440.28 100.04 L440.55 100.15 L440.82 100.28 L441.09 100.43 L441.36 100.60 L441.63 100.80 L441.90 101.01 L442.17 101.24 L442.44 101.48 L442.71 101.73 L442.98 102.00 L443.25 102.27 L443.52 102.55 L443.79 102.84 L444.06 103.13 L444.33 103.43 L444.60 103.72 L444.87 104.02 L445.14 104.32 L445.41 104.62 L445.68 104.92 L445.95 105.21 L446.22 105.50 L446.49 105.79 L446.76 106.07 L447.03 106.35 L447.30 106.62 L447.57 106.89 L447.84 107.15 L448.11 107.40 L448.38 107.65 L448.65 107.89 L448.92 108.12 L449.19 108.35 L449.46 108.57 L449.73 108.78 L450.00 108.98 L450.27 109.18 L450.54 109.37 L450.81 109.55 L451.08 109.73 L451.35 109.90 L451.62 110.06 L451.89 110.22 L452.16 110.37 L452.43 110.51 L452.70 110.65 L452.97 110.78 L453.24 110.90 L453.51 111.02 L453.78 111.13 L454.05 111.24 L454.32 111.34 L454.59 111.44 L454.86 111.54 L455.13 111.62 L455.40 111.71 L455.67 111.79 L455.94 111.86 L456.21 111.94 L456.48 112.00 L456.75 112.07 L457.02 112.13 L457.29 112.19 L457.56 112.24 L457.83 112.29 L458.10 112.34 L458.37 112.39 L458.64 112.43 L458.91 112.47 L459.18 112.51 L459.45 112.55 L459.72 112.58 L459.99 112.62 L460.26 112.65 L460.53 112.67 L460.80 112.70 L461.07 112.73 L461.34 112.75 L461.61 112.77 L461.88 112.79 L462.15 112.81 L462.42 112.83 L462.69 112.85 L462.96 112.87 L463.23 112.88 L463.50 112.90 L463.77 112.91 L464.04 112.92 L464.31 112.93 L464.58 112.95 L464.85 112.96 L465.12 112.97 L465.39 112.97 L465.66 112.98 L465.93 112.99 L466.20 113.00 L466.20 113.10 L428.68 113.10Z" fill="#e4e4e4" stroke="none"/>
<path d="M436.50 113.10 L436.50 102.09 L436.77 101.70 L437.04 101.35 L437.31 101.04 L437.58 100.76 L437.85 100.53 L438.12 100.33 L438.39 100.17 L438.66 100.05 L438.93 99.96 L439.20 99.92 L439.47 99.90 L439.74 99.92 L440.01 99.97 L440.28 100.04 L440.55 100.15 L440.82 100.28 L441.09 100.43 L441.36 100.60 L441.63 100.80 L441.90 101.01 L442.17 101.24 L442.44 101.48 L442.71 101.73 L442.98 102.00 L443.25 102.27 L443.52 102.55 L443.79 102.84 L444.06 103.13 L444.33 103.43 L444.60 103.72 L444.87 104.02 L445.14 104.32 L445.41 104.62 L445.68 104.92 L445.95 105.21 L446.22 105.50 L446.49 105.79 L446.76 106.07 L447.03 106.35 L447.30 106.62 L447.57 106.89 L447.84 107.15 L447.84 113.10Z" fill="#b4b4b4" stroke="none"/>
<path d="M436.31 113.10V102.40" stroke="#1155d4" stroke-width="1.0"/>
<path d="M448.06 113.10V107.35" stroke="#1155d4" stroke-width="1.0"/>
<path d="M441.29 113.10V100.55" stroke="#1155d4" stroke-width="1.5"/>
<path d="M428.68 113.10 L428.95 113.10 L429.22 113.09 L429.49 113.08 L429.76 113.04 L430.03 112.97 L430.29 112.87 L430.56 112.72 L430.83 112.53 L431.10 112.28 L431.37 111.99 L431.64 111.64 L431.91 111.25 L432.18 110.80 L432.45 110.32 L432.72 109.81 L432.99 109.26 L433.26 108.69 L433.53 108.10 L433.80 107.50 L434.07 106.89 L434.34 106.29 L434.61 105.69 L434.88 105.11 L435.15 104.54 L435.42 103.99 L435.69 103.47 L435.96 102.98 L436.23 102.52 L436.50 102.09 L436.77 101.70 L437.04 101.35 L437.31 101.04 L437.58 100.76 L437.85 100.53 L438.12 100.33 L438.39 100.17 L438.66 100.05 L438.93 99.96 L439.20 99.92 L439.47 99.90 L439.74 99.92 L440.01 99.97 L440.28 100.04 L440.55 100.15 L440.82 100.28 L441.09 100.43 L441.36 100.60 L441.63 100.80 L441.90 101.01 L442.17 101.24 L442.44 101.48 L442.71 101.73 L442.98 102.00 L443.25 102.27 L443.52 102.55 L443.79 102.84 L444.06 103.13 L444.33 103.43 L444.60 103.72 L444.87 104.02 L445.14 104.32 L445.41 104.62 L445.68 104.92 L445.95 105.21 L446.22 105.50 L446.49 105.79 L446.76 106.07 L447.03 106.35 L447.30 106.62 L447.57 106.89 L447.84 107.15 L448.11 107.40 L448.38 107.65 L448.65 107.89 L448.92 108.12 L449.19 108.35 L449.46 108.57 L449.73 108.78 L450.00 108.98 L450.27 109.18 L450.54 109.37 L450.81 109.55 L451.08 109.73 L451.35 109.90 L451.62 110.06 L451.89 110.22 L452.16 110.37 L452.43 110.51 L452.70 110.65 L452.97 110.78 L453.24 110.90 L453.51 111.02 L453.78 111.13 L454.05 111.24 L454.32 111.34 L454.59 111.44 L454.86 111.54 L455.13 111.62 L455.40 111.71 L455.67 111.79 L455.94 111.86 L456.21 111.94 L456.48 112.00 L456.75 112.07 L457.02 112.13 L457.29 112.19 L457.56 112.24 L457.83 112.29 L458.10 112.34 L458.37 112.39 L458.64 112.43 L458.91 112.47 L459.18 112.51 L459.45 112.55 L459.72 112.58 L459.99 112.62 L460.26 112.65 L460.53 112.67 L460.80 112.70 L461.07 112.73 L461.34 112.75 L461.61 112.77 L461.88 112.79 L462.15 112.81 L462.42 112.83 L462.69 112.85 L462.96 112.87 L463.23 112.88 L463.50 112.90 L463.77 112.91 L464.04 112.92 L464.31 112.93 L464.58 112.95 L464.85 112.96 L465.12 112.97 L465.39 112.97 L465.66 112.98 L465.93 112.99 L466.20 113.00" fill="none" stroke="#1155d4" stroke-width="1.1"/>
<path d="M428.60 113.10H467.40" stroke="#1155d4" stroke-width="1.2"/>
<text x="429.00" y="123.50" font-size="6.8" text-anchor="middle" fill="#1155d4" stroke="#1155d4">0</text>
<text x="447.80" y="123.50" font-size="6.8" text-anchor="middle" fill="#1155d4" stroke="#1155d4">20</text>
<text x="462.82" y="123.50" font-size="6.8" fill="#1155d4" stroke="#1155d4">40 Ma</text>
<text x="454.17" y="103.30" font-size="13.5" fill="#1155d4" stroke="#1155d4">13.5</text>
<text x="479.88" y="95.55" font-size="8.6" fill="#1155d4" stroke="#1155d4">+7.2</text>
<text x="482.32" y="107.50" font-size="8.6" fill="#1155d4" stroke="#1155d4">-5.3</text>
<text x="498.69" y="103.30" font-size="13.5" fill="#1155d4" stroke="#1155d4">Ma</text>
<path d="M445.58 167.30 L445.85 167.30 L446.12 167.29 L446.39 167.26 L446.66 167.20 L446.93 167.10 L447.19 166.94 L447.46 166.72 L447.73 166.43 L448.00 166.08 L448.27 165.66 L448.54 165.18 L448.81 164.65 L449.08 164.07 L449.35 163.46 L449.62 162.82 L449.89 162.16 L450.16 161.50 L450.43 160.83 L450.70 160.18 L450.97 159.54 L451.24 158.93 L451.51 158.36 L451.78 157.82 L452.05 157.32 L452.32 156.86 L452.59 156.46 L452.86 156.10 L453.13 155.80 L453.40 155.54 L453.67 155.34 L453.94 155.18 L454.21 155.08 L454.48 155.02 L454.75 155.00 L455.02 155.03 L455.29 155.09 L455.56 155.20 L455.83 155.33 L456.10 155.50 L456.37 155.70 L456.64 155.92 L456.91 156.16 L457.18 156.42 L457.45 156.70 L457.72 156.99 L457.99 157.30 L458.26 157.61 L458.53 157.93 L458.80 158.25 L459.07 158.58 L459.34 158.91 L459.61 159.24 L459.88 159.57 L460.15 159.90 L460.42 160.22 L460.69 160.53 L460.96 160.84 L461.23 161.15 L461.50 161.44 L461.77 161.73 L462.04 162.01 L462.31 162.28 L462.58 162.54 L462.85 162.80 L463.12 163.04 L463.39 163.28 L463.66 163.50 L463.93 163.72 L464.20 163.92 L464.47 164.12 L464.74 164.31 L465.01 164.49 L465.28 164.66 L465.55 164.82 L465.82 164.97 L466.09 165.12 L466.36 165.26 L466.63 165.39 L466.90 165.51 L467.17 165.63 L467.44 165.74 L467.71 165.84 L467.98 165.94 L468.25 166.03 L468.52 166.12 L468.79 166.20 L469.06 166.27 L469.33 166.34 L469.60 166.41 L469.87 166.47 L470.14 166.53 L470.41 166.59 L470.68 166.64 L470.95 166.69 L471.22 166.73 L471.49 166.77 L471.76 166.81 L472.03 166.85 L472.30 166.88 L472.57 166.91 L472.84 166.94 L473.11 166.97 L473.38 166.99 L473.65 167.02 L473.92 167.04 L474.19 167.06 L474.46 167.08 L474.73 167.09 L475.00 167.11 L475.27 167.12 L475.54 167.14 L475.81 167.15 L476.08 167.16 L476.35 167.17 L476.62 167.18 L476.89 167.19 L477.16 167.20 L477.43 167.21 L477.70 167.22 L477.97 167.22 L478.24 167.23 L478.51 167.24 L478.78 167.24 L479.05 167.25 L479.32 167.25 L479.59 167.25 L479.86 167.26 L480.13 167.26 L480.40 167.26 L480.67 167.27 L480.94 167.27 L481.21 167.27 L481.48 167.27 L481.75 167.28 L482.02 167.28 L482.29 167.28 L482.56 167.28 L482.83 167.28 L483.10 167.29 L483.10 167.30 L445.58 167.30Z" fill="#e4e4e4" stroke="none"/>
<path d="M452.05 167.30 L452.05 157.32 L452.32 156.86 L452.59 156.46 L452.86 156.10 L453.13 155.80 L453.40 155.54 L453.67 155.34 L453.94 155.18 L454.21 155.08 L454.48 155.02 L454.75 155.00 L455.02 155.03 L455.29 155.09 L455.56 155.20 L455.83 155.33 L456.10 155.50 L456.37 155.70 L456.64 155.92 L456.91 156.16 L457.18 156.42 L457.45 156.70 L457.72 156.99 L457.99 157.30 L458.26 157.61 L458.53 157.93 L458.80 158.25 L459.07 158.58 L459.34 158.91 L459.61 159.24 L459.88 159.57 L460.15 159.90 L460.42 160.22 L460.69 160.53 L460.96 160.84 L461.23 161.15 L461.50 161.44 L461.77 161.73 L461.77 167.30Z" fill="#b4b4b4" stroke="none"/>
<path d="M452.04 167.30V157.34" stroke="#1c8c1c" stroke-width="1.0"/>
<path d="M461.97 167.30V161.94" stroke="#1c8c1c" stroke-width="1.0"/>
<path d="M456.25 167.30V155.61" stroke="#1c8c1c" stroke-width="1.5"/>
<path d="M445.58 167.30 L445.85 167.30 L446.12 167.29 L446.39 167.26 L446.66 167.20 L446.93 167.10 L447.19 166.94 L447.46 166.72 L447.73 166.43 L448.00 166.08 L448.27 165.66 L448.54 165.18 L448.81 164.65 L449.08 164.07 L449.35 163.46 L449.62 162.82 L449.89 162.16 L450.16 161.50 L450.43 160.83 L450.70 160.18 L450.97 159.54 L451.24 158.93 L451.51 158.36 L451.78 157.82 L452.05 157.32 L452.32 156.86 L452.59 156.46 L452.86 156.10 L453.13 155.80 L453.40 155.54 L453.67 155.34 L453.94 155.18 L454.21 155.08 L454.48 155.02 L454.75 155.00 L455.02 155.03 L455.29 155.09 L455.56 155.20 L455.83 155.33 L456.10 155.50 L456.37 155.70 L456.64 155.92 L456.91 156.16 L457.18 156.42 L457.45 156.70 L457.72 156.99 L457.99 157.30 L458.26 157.61 L458.53 157.93 L458.80 158.25 L459.07 158.58 L459.34 158.91 L459.61 159.24 L459.88 159.57 L460.15 159.90 L460.42 160.22 L460.69 160.53 L460.96 160.84 L461.23 161.15 L461.50 161.44 L461.77 161.73 L462.04 162.01 L462.31 162.28 L462.58 162.54 L462.85 162.80 L463.12 163.04 L463.39 163.28 L463.66 163.50 L463.93 163.72 L464.20 163.92 L464.47 164.12 L464.74 164.31 L465.01 164.49 L465.28 164.66 L465.55 164.82 L465.82 164.97 L466.09 165.12 L466.36 165.26 L466.63 165.39 L466.90 165.51 L467.17 165.63 L467.44 165.74 L467.71 165.84 L467.98 165.94 L468.25 166.03 L468.52 166.12 L468.79 166.20 L469.06 166.27 L469.33 166.34 L469.60 166.41 L469.87 166.47 L470.14 166.53 L470.41 166.59 L470.68 166.64 L470.95 166.69 L471.22 166.73 L471.49 166.77 L471.76 166.81 L472.03 166.85 L472.30 166.88 L472.57 166.91 L472.84 166.94 L473.11 166.97 L473.38 166.99 L473.65 167.02 L473.92 167.04 L474.19 167.06 L474.46 167.08 L474.73 167.09 L475.00 167.11 L475.27 167.12 L475.54 167.14 L475.81 167.15 L476.08 167.16 L476.35 167.17 L476.62 167.18 L476.89 167.19 L477.16 167.20 L477.43 167.21 L477.70 167.22 L477.97 167.22 L478.24 167.23 L478.51 167.24 L478.78 167.24 L479.05 167.25 L479.32 167.25 L479.59 167.25 L479.86 167.26 L480.13 167.26 L480.40 167.26 L480.67 167.27 L480.94 167.27 L481.21 167.27 L481.48 167.27 L481.75 167.28 L482.02 167.28 L482.29 167.28 L482.56 167.28 L482.83 167.28 L483.10 167.29" fill="none" stroke="#1c8c1c" stroke-width="1.1"/>
<path d="M445.50 167.30H484.30" stroke="#1c8c1c" stroke-width="1.2"/>
<text x="445.90" y="177.70" font-size="6.8" text-anchor="middle" fill="#1c8c1c" stroke="#1c8c1c">0</text>
<text x="479.72" y="177.70" font-size="6.8" fill="#1c8c1c" stroke="#1c8c1c">50 Ma</text>
<text x="468.37" y="157.60" font-size="13.5" fill="#1c8c1c" stroke="#1c8c1c">14.3</text>
<text x="494.68" y="149.85" font-size="8.6" fill="#1c8c1c" stroke="#1c8c1c">+7.6</text>
<text x="496.92" y="161.80" font-size="8.6" fill="#1c8c1c" stroke="#1c8c1c">-5.6</text>
<text x="513.59" y="157.60" font-size="13.5" fill="#1c8c1c" stroke="#1c8c1c">Ma</text>
<path d="M555.38 98.97 L555.65 98.46 L555.92 97.45 L556.19 96.12 L556.46 94.62 L556.73 93.06 L556.99 91.53 L557.26 90.09 L557.53 88.77 L557.80 87.61 L558.07 86.62 L558.34 85.80 L558.61 85.15 L558.88 84.67 L559.15 84.34 L559.42 84.16 L559.69 84.10 L559.96 84.16 L560.23 84.32 L560.50 84.57 L560.77 84.89 L561.04 85.27 L561.31 85.70 L561.58 86.18 L561.85 86.68 L562.12 87.20 L562.39 87.74 L562.66 88.28 L562.93 88.83 L563.20 89.37 L563.47 89.91 L563.74 90.44 L564.01 90.95 L564.28 91.44 L564.55 91.92 L564.82 92.38 L565.09 92.82 L565.36 93.24 L565.63 93.64 L565.90 94.02 L566.17 94.38 L566.44 94.72 L566.71 95.03 L566.98 95.33 L567.25 95.61 L567.52 95.87 L567.79 96.12 L568.06 96.35 L568.33 96.56 L568.60 96.76 L568.87 96.94 L569.14 97.11 L569.41 97.26 L569.68 97.41 L569.95 97.54 L570.22 97.67 L570.49 97.78 L570.76 97.89 L571.03 97.98 L571.30 98.07 L571.57 98.15 L571.84 98.23 L572.11 98.30 L572.38 98.36 L572.65 98.42 L572.92 98.47 L573.19 98.52 L573.46 98.56 L573.73 98.60 L574.00 98.64 L574.27 98.67 L574.54 98.70 L574.81 98.73 L575.08 98.75 L575.35 98.78 L575.62 98.80 L575.89 98.82 L576.16 98.83 L576.43 98.85 L576.70 98.86 L576.97 98.88 L577.24 98.89 L577.51 98.90 L577.78 98.91 L578.05 98.92 L578.32 98.93 L578.59 98.93 L578.86 98.94 L579.13 98.95 L579.40 98.95 L579.67 98.96 L579.94 98.96 L580.21 98.96 L580.48 98.97 L580.75 98.97 L581.02 98.97 L581.29 98.98 L581.56 98.98 L581.83 98.98 L582.10 98.98 L582.37 98.98 L582.64 98.99 L582.91 98.99 L583.18 98.99 L583.45 98.99 L583.72 98.99 L583.99 98.99 L584.26 98.99 L584.53 98.99 L584.80 98.99 L585.07 98.99 L585.34 99.00 L585.61 99.00 L585.88 99.00 L586.15 99.00 L586.42 99.00 L586.69 99.00 L586.96 99.00 L587.23 99.00 L587.50 99.00 L587.77 99.00 L588.04 99.00 L588.31 99.00 L588.58 99.00 L588.85 99.00 L589.12 99.00 L589.39 99.00 L589.66 99.00 L589.93 99.00 L590.20 99.00 L590.47 99.00 L590.74 99.00 L591.01 99.00 L591.28 99.00 L591.55 99.00 L591.82 99.00 L592.09 99.00 L592.36 99.00 L592.63 99.00 L592.90 99.00 L592.90 99.00 L555.38 99.00Z" fill="#e4e4e4" stroke="none"/>
<path d="M558.34 99.00 L558.34 85.80 L558.61 85.15 L558.88 84.67 L559.15 84.34 L559.42 84.16 L559.69 84.10 L559.96 84.16 L560.23 84.32 L560.50 84.57 L560.77 84.89 L561.04 85.27 L561.31 85.70 L561.58 86.18 L561.85 86.68 L562.12 87.20 L562.39 87.74 L562.66 88.28 L562.93 88.83 L563.20 89.37 L563.47 89.91 L563.74 90.44 L564.01 90.95 L564.28 91.44 L564.55 91.92 L564.82 92.38 L565.09 92.82 L565.09 99.00Z" fill="#b4b4b4" stroke="none"/>
<path d="M558.27 99.00V86.01" stroke="#000" stroke-width="1.0"/>
<path d="M565.26 99.00V93.09" stroke="#000" stroke-width="1.0"/>
<path d="M561.13 99.00V85.40" stroke="#000" stroke-width="1.5"/>
<path d="M555.38 98.97 L555.65 98.46 L555.92 97.45 L556.19 96.12 L556.46 94.62 L556.73 93.06 L556.99 91.53 L557.26 90.09 L557.53 88.77 L557.80 87.61 L558.07 86.62 L558.34 85.80 L558.61 85.15 L558.88 84.67 L559.15 84.34 L559.42 84.16 L559.69 84.10 L559.96 84.16 L560.23 84.32 L560.50 84.57 L560.77 84.89 L561.04 85.27 L561.31 85.70 L561.58 86.18 L561.85 86.68 L562.12 87.20 L562.39 87.74 L562.66 88.28 L562.93 88.83 L563.20 89.37 L563.47 89.91 L563.74 90.44 L564.01 90.95 L564.28 91.44 L564.55 91.92 L564.82 92.38 L565.09 92.82 L565.36 93.24 L565.63 93.64 L565.90 94.02 L566.17 94.38 L566.44 94.72 L566.71 95.03 L566.98 95.33 L567.25 95.61 L567.52 95.87 L567.79 96.12 L568.06 96.35 L568.33 96.56 L568.60 96.76 L568.87 96.94 L569.14 97.11 L569.41 97.26 L569.68 97.41 L569.95 97.54 L570.22 97.67 L570.49 97.78 L570.76 97.89 L571.03 97.98 L571.30 98.07 L571.57 98.15 L571.84 98.23 L572.11 98.30 L572.38 98.36 L572.65 98.42 L572.92 98.47 L573.19 98.52 L573.46 98.56 L573.73 98.60 L574.00 98.64 L574.27 98.67 L574.54 98.70 L574.81 98.73 L575.08 98.75 L575.35 98.78 L575.62 98.80 L575.89 98.82 L576.16 98.83 L576.43 98.85 L576.70 98.86 L576.97 98.88 L577.24 98.89 L577.51 98.90 L577.78 98.91 L578.05 98.92 L578.32 98.93 L578.59 98.93 L578.86 98.94 L579.13 98.95 L579.40 98.95 L579.67 98.96 L579.94 98.96 L580.21 98.96 L580.48 98.97 L580.75 98.97 L581.02 98.97 L581.29 98.98 L581.56 98.98 L581.83 98.98 L582.10 98.98 L582.37 98.98 L582.64 98.99 L582.91 98.99 L583.18 98.99 L583.45 98.99 L583.72 98.99 L583.99 98.99 L584.26 98.99 L584.53 98.99 L584.80 98.99 L585.07 98.99 L585.34 99.00 L585.61 99.00 L585.88 99.00 L586.15 99.00 L586.42 99.00 L586.69 99.00 L586.96 99.00 L587.23 99.00 L587.50 99.00 L587.77 99.00 L588.04 99.00 L588.31 99.00 L588.58 99.00 L588.85 99.00 L589.12 99.00 L589.39 99.00 L589.66 99.00 L589.93 99.00 L590.20 99.00 L590.47 99.00 L590.74 99.00 L591.01 99.00 L591.28 99.00 L591.55 99.00 L591.82 99.00 L592.09 99.00 L592.36 99.00 L592.63 99.00 L592.90 99.00" fill="none" stroke="#000" stroke-width="1.1"/>
<path d="M555.30 99.00H594.10" stroke="#000" stroke-width="1.2"/>
<text x="555.70" y="109.40" font-size="6.8" text-anchor="middle" fill="#000" stroke="#000">0</text>
<text x="574.50" y="109.40" font-size="6.8" text-anchor="middle" fill="#000" stroke="#000">50</text>
<text x="587.63" y="109.40" font-size="6.8" fill="#000" stroke="#000">100 Ma</text>
<text x="571.27" y="88.90" font-size="13.5" fill="#000" stroke="#000">15.5</text>
<text x="597.38" y="81.15" font-size="8.6" fill="#000" stroke="#000">+11</text>
<text x="599.92" y="93.10" font-size="8.6" fill="#000" stroke="#000">-7.6</text>
<text x="615.99" y="88.90" font-size="13.5" fill="#000" stroke="#000">Ma</text>
<rect x="411.60" y="2.20" width="257.25" height="257.25" fill="none" stroke="#000" stroke-width="1.1"/>
<path d="M427.09 259.45v-2.5M427.09 2.20v2.5M411.60 243.96h2.5M668.85 243.96h-2.5M436.15 259.45v-2.5M436.15 2.20v2.5M411.60 234.90h2.5M668.85 234.90h-2.5M442.58 259.45v-2.5M442.58 2.20v2.5M411.60 228.47h2.5M668.85 228.47h-2.5M447.56 259.45v-2.5M447.56 2.20v2.5M411.60 223.49h2.5M668.85 223.49h-2.5M451.64 259.45v-2.5M451.64 2.20v2.5M411.60 219.41h2.5M668.85 219.41h-2.5M455.08 259.45v-2.5M455.08 2.20v2.5M411.60 215.97h2.5M668.85 215.97h-2.5M458.06 259.45v-2.5M458.06 2.20v2.5M411.60 212.99h2.5M668.85 212.99h-2.5M460.70 259.45v-2.5M460.70 2.20v2.5M411.60 210.35h2.5M668.85 210.35h-2.5M463.05 259.45v-5M463.05 2.20v5M411.60 208.00h5M668.85 208.00h-5M478.54 259.45v-2.5M478.54 2.20v2.5M411.60 192.51h2.5M668.85 192.51h-2.5M487.60 259.45v-2.5M487.60 2.20v2.5M411.60 183.45h2.5M668.85 183.45h-2.5M494.03 259.45v-2.5M494.03 2.20v2.5M411.60 177.02h2.5M668.85 177.02h-2.5M499.01 259.45v-2.5M499.01 2.20v2.5M411.60 172.04h2.5M668.85 172.04h-2.5M503.09 259.45v-2.5M503.09 2.20v2.5M411.60 167.96h2.5M668.85 167.96h-2.5M506.53 259.45v-2.5M506.53 2.20v2.5M411.60 164.52h2.5M668.85 164.52h-2.5M509.51 259.45v-2.5M509.51 2.20v2.5M411.60 161.54h2.5M668.85 161.54h-2.5M512.15 259.45v-2.5M512.15 2.20v2.5M411.60 158.90h2.5M668.85 158.90h-2.5M514.50 259.45v-5M514.50 2.20v5M411.60 156.55h5M668.85 156.55h-5M529.99 259.45v-2.5M529.99 2.20v2.5M411.60 141.06h2.5M668.85 141.06h-2.5M539.05 259.45v-2.5M539.05 2.20v2.5M411.60 132.00h2.5M668.85 132.00h-2.5M545.48 259.45v-2.5M545.48 2.20v2.5M411.60 125.57h2.5M668.85 125.57h-2.5M550.46 259.45v-2.5M550.46 2.20v2.5M411.60 120.59h2.5M668.85 120.59h-2.5M554.54 259.45v-2.5M554.54 2.20v2.5M411.60 116.51h2.5M668.85 116.51h-2.5M557.98 259.45v-2.5M557.98 2.20v2.5M411.60 113.07h2.5M668.85 113.07h-2.5M560.96 259.45v-2.5M560.96 2.20v2.5M411.60 110.09h2.5M668.85 110.09h-2.5M563.60 259.45v-2.5M563.60 2.20v2.5M411.60 107.45h2.5M668.85 107.45h-2.5M565.95 259.45v-5M565.95 2.20v5M411.60 105.10h5M668.85 105.10h-5M581.44 259.45v-2.5M581.44 2.20v2.5M411.60 89.61h2.5M668.85 89.61h-2.5M590.50 259.45v-2.5M590.50 2.20v2.5M411.60 80.55h2.5M668.85 80.55h-2.5M596.93 259.45v-2.5M596.93 2.20v2.5M411.60 74.12h2.5M668.85 74.12h-2.5M601.91 259.45v-2.5M601.91 2.20v2.5M411.60 69.14h2.5M668.85 69.14h-2.5M605.99 259.45v-2.5M605.99 2.20v2.5M411.60 65.06h2.5M668.85 65.06h-2.5M609.43 259.45v-2.5M609.43 2.20v2.5M411.60 61.62h2.5M668.85 61.62h-2.5M612.41 259.45v-2.5M612.41 2.20v2.5M411.60 58.64h2.5M668.85 58.64h-2.5M615.05 259.45v-2.5M615.05 2.20v2.5M411.60 56.00h2.5M668.85 56.00h-2.5M617.40 259.45v-5M617.40 2.20v5M411.60 53.65h5M668.85 53.65h-5M632.89 259.45v-2.5M632.89 2.20v2.5M411.60 38.16h2.5M668.85 38.16h-2.5M641.95 259.45v-2.5M641.95 2.20v2.5M411.60 29.10h2.5M668.85 29.10h-2.5M648.38 259.45v-2.5M648.38 2.20v2.5M411.60 22.67h2.5M668.85 22.67h-2.5M653.36 259.45v-2.5M653.36 2.20v2.5M411.60 17.69h2.5M668.85 17.69h-2.5M657.44 259.45v-2.5M657.44 2.20v2.5M411.60 13.61h2.5M668.85 13.61h-2.5M660.88 259.45v-2.5M660.88 2.20v2.5M411.60 10.17h2.5M668.85 10.17h-2.5M663.86 259.45v-2.5M663.86 2.20v2.5M411.60 7.19h2.5M668.85 7.19h-2.5M666.50 259.45v-2.5M666.50 2.20v2.5M411.60 4.55h2.5M668.85 4.55h-2.5" stroke="#000" stroke-width="1" fill="none"/>
<text x="407.40" y="10.80" font-size="10.4" text-anchor="end" fill="#111" stroke="#111">10<tspan font-size="6.8" dy="-5.4">1</tspan></text>
<text x="407.40" y="58.65" font-size="10.4" text-anchor="end" fill="#111" stroke="#111">10<tspan font-size="6.8" dy="-5.4">0</tspan></text>
<text x="407.40" y="110.10" font-size="10.4" text-anchor="end" fill="#111" stroke="#111">10<tspan font-size="6.8" dy="-5.4">-1</tspan></text>
<text x="407.40" y="161.55" font-size="10.4" text-anchor="end" fill="#111" stroke="#111">10<tspan font-size="6.8" dy="-5.4">-2</tspan></text>
<text x="407.40" y="213.00" font-size="10.4" text-anchor="end" fill="#111" stroke="#111">10<tspan font-size="6.8" dy="-5.4">-3</tspan></text>
<text x="407.40" y="259.55" font-size="10.4" text-anchor="end" fill="#111" stroke="#111">10<tspan font-size="6.8" dy="-5.4">-4</tspan></text>
<text x="411.60" y="278.05" font-size="10.4" text-anchor="middle" fill="#111" stroke="#111">1 m</text>
<text x="463.05" y="278.05" font-size="10.4" text-anchor="middle" fill="#111" stroke="#111">10 m</text>
<text x="514.50" y="278.05" font-size="10.4" text-anchor="middle" fill="#111" stroke="#111">100 m</text>
<text x="565.95" y="278.05" font-size="10.4" text-anchor="middle" fill="#111" stroke="#111">1 km</text>
<text x="617.40" y="278.05" font-size="10.4" text-anchor="middle" fill="#111" stroke="#111">10 km</text>
<text x="668.85" y="278.05" font-size="10.4" text-anchor="middle" fill="#111" stroke="#111">100 km</text>
<text x="540.23" y="293.95" font-size="10.6" text-anchor="middle" fill="#111" stroke="#111">Diameter</text>
<text transform="translate(378.70,130.32) rotate(-90)" font-size="10.55" text-anchor="middle" fill="#111" stroke="#111">Cumulative crater density, km<tspan font-size="7" dy="-4.5">-2</tspan></text>
<text x="377.6" y="13.8" font-size="18" font-weight="bold" text-anchor="end" fill="#000" stroke="#000">b)</text>
<clipPath id="cpc"><rect x="58.50" y="323.60" width="257.25" height="257.25"/></clipPath>
<g clip-path="url(#cpc)">
<path d="M156.18 323.60 L157.21 326.95 L158.24 330.29 L159.27 333.62 L160.30 336.94 L161.33 340.25 L162.36 343.55 L163.39 346.82 L164.42 350.07 L165.45 353.29 L166.47 356.48 L167.50 359.65 L168.53 362.82 L169.56 365.99 L170.59 369.16 L171.62 372.35 L172.65 375.56 L173.68 378.80 L174.71 382.08 L175.74 385.40" fill="none" stroke="#9c9c9c" stroke-width="1.1"/>
<path d="M174.77 375.79 L175.80 379.12 L176.83 382.49 L177.86 385.90 L178.89 389.35 L179.92 392.82 L180.95 396.31 L181.97 399.81 L183.00 403.32 L184.03 406.83 L185.06 410.33 L186.09 413.81 L187.12 417.32 L188.15 420.83 L189.18 424.36 L190.21 427.90 L191.24 431.44 L192.26 434.99 L193.29 438.54 L194.32 442.09 L195.35 445.63 L196.38 449.17 L197.41 452.69 L198.44 456.21 L199.47 459.70 L200.50 463.18 L201.53 466.64 L202.55 470.07 L203.58 473.48 L204.61 476.85 L205.64 480.16 L206.67 483.43 L207.70 486.68 L208.73 489.92 L209.76 493.17 L210.79 496.45 L211.82 499.76 L212.84 503.14 L213.87 506.60 L214.90 510.14 L215.93 513.73 L216.96 517.32 L217.99 520.87 L219.02 524.36 L220.05 527.74 L221.08 531.08 L222.11 534.38 L223.13 537.65 L224.16 540.87 L225.19 544.04 L226.22 547.15 L227.25 550.18 L228.28 553.13 L229.31 556.02 L230.34 558.86 L231.37 561.64 L232.40 564.35 L233.42 567.01 L234.45 569.59 L235.48 572.09 L236.51 574.51 L237.54 576.89 L238.57 579.21 L239.32 580.85" fill="none" stroke="#aaaaaa" stroke-width="0.8"/>
<path d="M174.77 389.17 L175.80 392.49 L176.83 395.87 L177.86 399.28 L178.89 402.73 L179.92 406.20 L180.95 409.69 L181.97 413.19 L183.00 416.70 L184.03 420.20 L185.06 423.70 L186.09 427.19 L187.12 430.69 L188.15 434.21 L189.18 437.74 L190.21 441.28 L191.24 444.82 L192.26 448.37 L193.29 451.92 L194.32 455.47 L195.35 459.01 L196.38 462.54 L197.41 466.07 L198.44 469.58 L199.47 473.08 L200.50 476.56 L201.53 480.02 L202.55 483.45 L203.58 486.86 L204.61 490.22 L205.64 493.54 L206.67 496.81 L207.70 500.06 L208.73 503.30 L209.76 506.55 L210.79 509.82 L211.82 513.14 L212.84 516.51 L213.87 519.97 L214.90 523.52 L215.93 527.10 L216.96 530.69 L217.99 534.25 L219.02 537.74 L220.05 541.12 L221.08 544.45 L222.11 547.76 L223.13 551.03 L224.16 554.25 L225.19 557.42 L226.22 560.52 L227.25 563.56 L228.28 566.51 L229.31 569.40 L230.34 572.23 L231.37 575.01 L232.40 577.73 L233.42 580.38 L233.61 580.85" fill="none" stroke="#aaaaaa" stroke-width="0.8"/>
<path d="M156.10 323.60 L157.13 326.95 L158.16 330.29 L159.19 333.62 L160.22 336.95 L161.24 340.26 L162.27 343.55 L163.30 346.83 L164.33 350.08 L165.36 353.30 L166.39 356.49 L167.42 359.67 L168.45 362.83 L169.48 366.00 L170.51 369.17 L171.53 372.36 L172.56 375.57 L173.59 378.81 L174.62 382.08 L175.65 385.40 L176.68 388.77 L177.71 392.18 L178.74 395.62" fill="none" stroke="#9c9c9c" stroke-width="1.1"/>
<path d="M178.07 382.73 L179.10 386.18 L180.13 389.66 L181.16 393.15 L182.19 396.65 L183.22 400.16 L184.25 403.67 L185.27 407.16 L186.30 410.65 L187.33 414.16 L188.36 417.68 L189.39 421.21 L190.42 424.75 L191.45 428.29 L192.48 431.84 L193.51 435.39 L194.53 438.94 L195.56 442.48 L196.59 446.01 L197.62 449.54 L198.65 453.05 L199.68 456.54 L200.71 460.01 L201.74 463.47 L202.77 466.89 L203.80 470.30 L204.83 473.65 L205.85 476.95 L206.88 480.22 L207.91 483.47 L208.94 486.71 L209.97 489.96 L211.00 493.25 L212.03 496.57 L213.06 499.96 L214.09 503.44 L215.12 507.00 L216.14 510.58 L217.17 514.17 L218.20 517.72 L219.23 521.19 L220.26 524.55 L221.29 527.88 L222.32 531.18 L223.35 534.44 L224.38 537.65 L225.41 540.80 L226.43 543.90 L227.46 546.91 L228.49 549.85 L229.52 552.73 L230.55 555.55 L231.58 558.32 L232.61 561.02 L233.64 563.66 L234.67 566.23 L235.70 568.71 L236.72 571.12 L237.75 573.49 L238.78 575.80 L239.81 578.05 L240.84 580.23 L241.14 580.85" fill="none" stroke="#aaaaaa" stroke-width="0.8"/>
<path d="M178.07 406.35 L179.10 409.80 L180.13 413.28 L181.16 416.77 L182.19 420.27 L183.22 423.78 L184.25 427.29 L185.27 430.78 L186.30 434.27 L187.33 437.78 L188.36 441.30 L189.39 444.83 L190.42 448.37 L191.45 451.91 L192.48 455.46 L193.51 459.01 L194.53 462.56 L195.56 466.10 L196.59 469.63 L197.62 473.15 L198.65 476.66 L199.68 480.16 L200.71 483.63 L201.74 487.09 L202.77 490.51 L203.80 493.91 L204.83 497.27 L205.85 500.57 L206.88 503.84 L207.91 507.09 L208.94 510.33 L209.97 513.58 L211.00 516.86 L212.03 520.19 L213.06 523.58 L214.09 527.06 L215.12 530.61 L216.14 534.20 L217.17 537.79 L218.20 541.34 L219.23 544.80 L220.26 548.17 L221.29 551.50 L222.32 554.79 L223.35 558.05 L224.38 561.27 L225.41 564.42 L226.43 567.51 L227.46 570.53 L228.49 573.47 L229.52 576.35 L230.55 579.17 L231.17 580.85" fill="none" stroke="#aaaaaa" stroke-width="0.8"/>
<path d="M176.50 380.00V396.00" stroke="#bcbcbc" stroke-width="1"/>
<path d="M181.50 392.00V440.00" stroke="#bcbcbc" stroke-width="1"/>
<path d="M181.50 395.00V412.00" stroke="#bcbcbc" stroke-width="1"/>
<path d="M184.50 402.00V425.00" stroke="#bcbcbc" stroke-width="1"/>
<path d="M187.50 405.00V455.00" stroke="#bcbcbc" stroke-width="1"/>
<path d="M175.80 385.61 L176.83 388.99 L177.86 392.40 L178.89 395.85 L179.92 399.32 L180.95 402.81 L181.97 406.31 L183.00 409.82 L184.03 413.32 L185.06 416.82 L186.09 420.31 L187.12 423.81 L188.15 427.33 L189.18 430.86 L190.21 434.39 L191.24 437.94 L192.26 441.49 L193.29 445.04 L194.32 448.58 L195.35 452.13 L196.38 455.66 L197.41 459.19 L198.44 462.70 L199.47 466.20 L200.50 469.68 L201.53 473.13 L202.55 476.57 L203.58 479.97 L204.61 483.34 L205.64 486.65 L206.67 489.93 L207.70 493.18 L208.73 496.42 L209.76 499.67 L210.79 502.94 L211.82 506.26 L212.84 509.63 L213.87 513.09 L214.90 516.64 L215.93 520.22 L216.96 523.81 L217.99 527.37 L219.02 530.86 L220.05 534.24 L221.08 537.57 L222.11 540.88 L223.13 544.14 L224.16 547.37 L225.19 550.54 L226.22 553.64 L227.25 556.68 L228.28 559.63 L229.31 562.52 L230.34 565.35 L231.37 568.13 L232.40 570.85 L233.42 573.50 L234.45 576.08 L235.48 578.58 L236.44 580.85" fill="none" stroke="#1155d4" stroke-width="1.0"/>
<path d="M179.10 396.84 L180.13 400.32 L181.16 403.81 L182.19 407.31 L183.22 410.82 L184.25 414.33 L185.27 417.82 L186.30 421.31 L187.33 424.82 L188.36 428.34 L189.39 431.87 L190.42 435.41 L191.45 438.95 L192.48 442.50 L193.51 446.05 L194.53 449.60 L195.56 453.14 L196.59 456.67 L197.62 460.20 L198.65 463.70 L199.68 467.20 L200.71 470.67 L201.74 474.13 L202.77 477.55 L203.80 480.95 L204.83 484.31 L205.85 487.61 L206.88 490.88 L207.91 494.13 L208.94 497.37 L209.97 500.62 L211.00 503.90 L212.03 507.23 L213.06 510.62 L214.09 514.10 L215.12 517.65 L216.14 521.24 L217.17 524.83 L218.20 528.38 L219.23 531.84 L220.26 535.21 L221.29 538.54 L222.32 541.83 L223.35 545.09 L224.38 548.31 L225.41 551.46 L226.43 554.55 L227.46 557.57 L228.49 560.51 L229.52 563.39 L230.55 566.21 L231.58 568.98 L232.61 571.68 L233.64 574.32 L234.67 576.88 L235.70 579.37 L236.33 580.85" fill="none" stroke="#000" stroke-width="1.5"/>
<path d="M174.45 386.75 L178.75 386.75 L176.60 390.25Z" fill="none" stroke="#1155d4" stroke-width="1.0" stroke-linejoin="miter"/>
<path d="M178.85 402.25 L183.15 402.25 L181.00 405.75Z" fill="none" stroke="#1155d4" stroke-width="1.0" stroke-linejoin="miter"/>
<path d="M184.85 413.05 L189.15 413.05 L187.00 416.55Z" fill="none" stroke="#1155d4" stroke-width="1.0" stroke-linejoin="miter"/>
<path d="M181.60 400.10 L182.26 401.69 L183.98 401.83 L182.67 402.95 L183.07 404.62 L181.60 403.73 L180.13 404.62 L180.53 402.95 L179.22 401.83 L180.94 401.69Z" fill="none" stroke="#000" stroke-width="0.95" stroke-linejoin="miter"/>
<path d="M184.60 409.40 L185.26 410.99 L186.98 411.13 L185.67 412.25 L186.07 413.92 L184.60 413.03 L183.13 413.92 L183.53 412.25 L182.22 411.13 L183.94 410.99Z" fill="none" stroke="#000" stroke-width="0.95" stroke-linejoin="miter"/>
</g>
<path d="M185.00 343.20h17.4" stroke="#000" stroke-width="1.3"/>
<path d="M193.70 340.20 L194.44 342.18 L196.55 342.27 L194.90 343.59 L195.46 345.63 L193.70 344.46 L191.94 345.63 L192.50 343.59 L190.85 342.27 L192.96 342.18Z" fill="#000" stroke="#000" stroke-width="0.6" stroke-linejoin="miter"/>
<text transform="scale(0.915 1)" x="225.79" y="346.50" font-size="8" fill="#111" stroke="#111">3 craters, N(1)=2.39x10<tspan font-size="4.9" dy="-4.0">-3</tspan><tspan dy="4.0"> km</tspan><tspan font-size="4.9" dy="-4.0">-2</tspan></text>
<path d="M185.00 355.95h17.4" stroke="#1155d4" stroke-width="1.3"/>
<path d="M191.50 353.85 L195.90 353.85 L193.70 357.85Z" fill="#1155d4" stroke="#1155d4" stroke-width="0.6" stroke-linejoin="miter"/>
<text transform="scale(0.915 1)" x="225.79" y="359.25" font-size="8" fill="#111" stroke="#111">10 craters, N(1)=2.42x10<tspan font-size="4.9" dy="-4.0">-3</tspan><tspan dy="4.0"> km</tspan><tspan font-size="4.9" dy="-4.0">-2</tspan></text>
<path d="M73.70 552.00 L74.36 553.59 L76.08 553.73 L74.77 554.85 L75.17 556.52 L73.70 555.63 L72.23 556.52 L72.63 554.85 L71.32 553.73 L73.04 553.59Z" fill="none" stroke="#000" stroke-width="0.95" stroke-linejoin="miter"/>
<text x="80.70" y="557.30" font-size="7.3" fill="#111" stroke="#111">Impact Crater, area=1.05x10<tspan font-size="5" dy="-3.6">1</tspan><tspan dy="3.6"> km</tspan><tspan font-size="5" dy="-3.6">2</tspan></text>
<path d="M71.50 565.40 L76.10 565.40 L73.80 569.10Z" fill="none" stroke="#1155d4" stroke-width="1.1" stroke-linejoin="miter"/>
<text x="80.70" y="570.05" font-size="7.3" fill="#111" stroke="#111">Landslide LD4, area=1.81x10<tspan font-size="5" dy="-3.6">1</tspan><tspan dy="3.6"> km</tspan><tspan font-size="5" dy="-3.6">2</tspan></text>
<path d="M80.48 438.90 L80.75 438.90 L81.02 438.90 L81.29 438.90 L81.56 438.90 L81.83 438.90 L82.09 438.90 L82.36 438.90 L82.63 438.90 L82.90 438.90 L83.17 438.90 L83.44 438.90 L83.71 438.89 L83.98 438.89 L84.25 438.88 L84.52 438.86 L84.79 438.84 L85.06 438.80 L85.33 438.75 L85.60 438.69 L85.87 438.60 L86.14 438.49 L86.41 438.35 L86.68 438.19 L86.95 437.99 L87.22 437.75 L87.49 437.47 L87.76 437.16 L88.03 436.81 L88.30 436.42 L88.57 435.99 L88.84 435.53 L89.11 435.03 L89.38 434.51 L89.65 433.96 L89.92 433.39 L90.19 432.81 L90.46 432.23 L90.73 431.64 L91.00 431.05 L91.27 430.48 L91.54 429.92 L91.81 429.38 L92.08 428.87 L92.35 428.40 L92.62 427.95 L92.89 427.55 L93.16 427.19 L93.43 426.88 L93.70 426.61 L93.97 426.39 L94.24 426.22 L94.51 426.10 L94.78 426.03 L95.05 426.00 L95.32 426.02 L95.59 426.08 L95.86 426.19 L96.13 426.34 L96.40 426.52 L96.67 426.73 L96.94 426.98 L97.21 427.25 L97.48 427.55 L97.75 427.87 L98.02 428.21 L98.29 428.56 L98.56 428.93 L98.83 429.30 L99.10 429.68 L99.37 430.07 L99.64 430.45 L99.91 430.84 L100.18 431.23 L100.45 431.61 L100.72 431.98 L100.99 432.35 L101.26 432.71 L101.53 433.06 L101.80 433.40 L102.07 433.73 L102.34 434.04 L102.61 434.35 L102.88 434.64 L103.15 434.92 L103.42 435.19 L103.69 435.44 L103.96 435.68 L104.23 435.91 L104.50 436.12 L104.77 436.33 L105.04 436.52 L105.31 436.70 L105.58 436.87 L105.85 437.03 L106.12 437.18 L106.39 437.31 L106.66 437.44 L106.93 437.56 L107.20 437.67 L107.47 437.78 L107.74 437.87 L108.01 437.96 L108.28 438.04 L108.55 438.12 L108.82 438.19 L109.09 438.25 L109.36 438.31 L109.63 438.36 L109.90 438.41 L110.17 438.46 L110.44 438.50 L110.71 438.54 L110.98 438.57 L111.25 438.60 L111.52 438.63 L111.79 438.66 L112.06 438.68 L112.33 438.70 L112.60 438.72 L112.87 438.74 L113.14 438.76 L113.41 438.77 L113.68 438.78 L113.95 438.80 L114.22 438.81 L114.49 438.82 L114.76 438.83 L115.03 438.83 L115.30 438.84 L115.57 438.85 L115.84 438.85 L116.11 438.86 L116.38 438.86 L116.65 438.87 L116.92 438.87 L117.19 438.87 L117.46 438.88 L117.73 438.88 L118.00 438.88 L118.00 438.90 L80.48 438.90Z" fill="#e4e4e4" stroke="none"/>
<path d="M92.08 438.90 L92.08 428.87 L92.35 428.40 L92.62 427.95 L92.89 427.55 L93.16 427.19 L93.43 426.88 L93.70 426.61 L93.97 426.39 L94.24 426.22 L94.51 426.10 L94.78 426.03 L95.05 426.00 L95.32 426.02 L95.59 426.08 L95.86 426.19 L96.13 426.34 L96.40 426.52 L96.67 426.73 L96.94 426.98 L97.21 427.25 L97.48 427.55 L97.75 427.87 L98.02 428.21 L98.29 428.56 L98.56 428.93 L98.83 429.30 L99.10 429.68 L99.37 430.07 L99.64 430.45 L99.91 430.84 L100.18 431.23 L100.45 431.61 L100.72 431.98 L100.99 432.35 L101.26 432.71 L101.26 438.90Z" fill="#b4b4b4" stroke="none"/>
<path d="M91.87 438.90V429.28" stroke="#1155d4" stroke-width="1.0"/>
<path d="M101.27 438.90V432.72" stroke="#1155d4" stroke-width="1.0"/>
<path d="M96.00 438.90V426.26" stroke="#1155d4" stroke-width="1.5"/>
<path d="M80.48 438.90 L80.75 438.90 L81.02 438.90 L81.29 438.90 L81.56 438.90 L81.83 438.90 L82.09 438.90 L82.36 438.90 L82.63 438.90 L82.90 438.90 L83.17 438.90 L83.44 438.90 L83.71 438.89 L83.98 438.89 L84.25 438.88 L84.52 438.86 L84.79 438.84 L85.06 438.80 L85.33 438.75 L85.60 438.69 L85.87 438.60 L86.14 438.49 L86.41 438.35 L86.68 438.19 L86.95 437.99 L87.22 437.75 L87.49 437.47 L87.76 437.16 L88.03 436.81 L88.30 436.42 L88.57 435.99 L88.84 435.53 L89.11 435.03 L89.38 434.51 L89.65 433.96 L89.92 433.39 L90.19 432.81 L90.46 432.23 L90.73 431.64 L91.00 431.05 L91.27 430.48 L91.54 429.92 L91.81 429.38 L92.08 428.87 L92.35 428.40 L92.62 427.95 L92.89 427.55 L93.16 427.19 L93.43 426.88 L93.70 426.61 L93.97 426.39 L94.24 426.22 L94.51 426.10 L94.78 426.03 L95.05 426.00 L95.32 426.02 L95.59 426.08 L95.86 426.19 L96.13 426.34 L96.40 426.52 L96.67 426.73 L96.94 426.98 L97.21 427.25 L97.48 427.55 L97.75 427.87 L98.02 428.21 L98.29 428.56 L98.56 428.93 L98.83 429.30 L99.10 429.68 L99.37 430.07 L99.64 430.45 L99.91 430.84 L100.18 431.23 L100.45 431.61 L100.72 431.98 L100.99 432.35 L101.26 432.71 L101.53 433.06 L101.80 433.40 L102.07 433.73 L102.34 434.04 L102.61 434.35 L102.88 434.64 L103.15 434.92 L103.42 435.19 L103.69 435.44 L103.96 435.68 L104.23 435.91 L104.50 436.12 L104.77 436.33 L105.04 436.52 L105.31 436.70 L105.58 436.87 L105.85 437.03 L106.12 437.18 L106.39 437.31 L106.66 437.44 L106.93 437.56 L107.20 437.67 L107.47 437.78 L107.74 437.87 L108.01 437.96 L108.28 438.04 L108.55 438.12 L108.82 438.19 L109.09 438.25 L109.36 438.31 L109.63 438.36 L109.90 438.41 L110.17 438.46 L110.44 438.50 L110.71 438.54 L110.98 438.57 L111.25 438.60 L111.52 438.63 L111.79 438.66 L112.06 438.68 L112.33 438.70 L112.60 438.72 L112.87 438.74 L113.14 438.76 L113.41 438.77 L113.68 438.78 L113.95 438.80 L114.22 438.81 L114.49 438.82 L114.76 438.83 L115.03 438.83 L115.30 438.84 L115.57 438.85 L115.84 438.85 L116.11 438.86 L116.38 438.86 L116.65 438.87 L116.92 438.87 L117.19 438.87 L117.46 438.88 L117.73 438.88 L118.00 438.88" fill="none" stroke="#1155d4" stroke-width="1.1"/>
<path d="M80.40 438.90H119.20" stroke="#1155d4" stroke-width="1.2"/>
<text x="80.80" y="449.30" font-size="6.8" text-anchor="middle" fill="#1155d4" stroke="#1155d4">0</text>
<text x="99.60" y="449.30" font-size="6.8" text-anchor="middle" fill="#1155d4" stroke="#1155d4">50</text>
<text x="112.73" y="449.30" font-size="6.8" fill="#1155d4" stroke="#1155d4">100 Ma</text>
<text x="108.19" y="428.40" font-size="13.5" fill="#1155d4" stroke="#1155d4">41.5</text>
<text x="134.58" y="420.65" font-size="8.6" fill="#1155d4" stroke="#1155d4">+14</text>
<text x="136.62" y="432.60" font-size="8.6" fill="#1155d4" stroke="#1155d4">-11</text>
<text x="150.39" y="428.40" font-size="13.5" fill="#1155d4" stroke="#1155d4">Ma</text>
<path d="M204.98 411.40 L205.25 411.36 L205.52 411.20 L205.79 410.88 L206.06 410.41 L206.33 409.80 L206.59 409.06 L206.86 408.24 L207.13 407.34 L207.40 406.42 L207.67 405.49 L207.94 404.57 L208.21 403.70 L208.48 402.87 L208.75 402.11 L209.02 401.43 L209.29 400.83 L209.56 400.31 L209.83 399.89 L210.10 399.55 L210.37 399.29 L210.64 399.12 L210.91 399.02 L211.18 399.00 L211.45 399.04 L211.72 399.15 L211.99 399.30 L212.26 399.51 L212.53 399.76 L212.80 400.04 L213.07 400.35 L213.34 400.69 L213.61 401.05 L213.88 401.43 L214.15 401.81 L214.42 402.21 L214.69 402.61 L214.96 403.01 L215.23 403.41 L215.50 403.80 L215.77 404.19 L216.04 404.57 L216.31 404.94 L216.58 405.30 L216.85 405.65 L217.12 405.99 L217.39 406.32 L217.66 406.63 L217.93 406.93 L218.20 407.22 L218.47 407.49 L218.74 407.75 L219.01 407.99 L219.28 408.22 L219.55 408.44 L219.82 408.65 L220.09 408.84 L220.36 409.03 L220.63 409.20 L220.90 409.36 L221.17 409.51 L221.44 409.65 L221.71 409.78 L221.98 409.91 L222.25 410.02 L222.52 410.13 L222.79 410.23 L223.06 410.32 L223.33 410.41 L223.60 410.49 L223.87 410.56 L224.14 410.63 L224.41 410.69 L224.68 410.75 L224.95 410.80 L225.22 410.85 L225.49 410.90 L225.76 410.94 L226.03 410.98 L226.30 411.01 L226.57 411.05 L226.84 411.08 L227.11 411.11 L227.38 411.13 L227.65 411.15 L227.92 411.18 L228.19 411.20 L228.46 411.21 L228.73 411.23 L229.00 411.24 L229.27 411.26 L229.54 411.27 L229.81 411.28 L230.08 411.29 L230.35 411.30 L230.62 411.31 L230.89 411.32 L231.16 411.33 L231.43 411.33 L231.70 411.34 L231.97 411.35 L232.24 411.35 L232.51 411.35 L232.78 411.36 L233.05 411.36 L233.32 411.37 L233.59 411.37 L233.86 411.37 L234.13 411.37 L234.40 411.38 L234.67 411.38 L234.94 411.38 L235.21 411.38 L235.48 411.38 L235.75 411.39 L236.02 411.39 L236.29 411.39 L236.56 411.39 L236.83 411.39 L237.10 411.39 L237.37 411.39 L237.64 411.39 L237.91 411.39 L238.18 411.39 L238.45 411.39 L238.72 411.40 L238.99 411.40 L239.26 411.40 L239.53 411.40 L239.80 411.40 L240.07 411.40 L240.34 411.40 L240.61 411.40 L240.88 411.40 L241.15 411.40 L241.42 411.40 L241.69 411.40 L241.96 411.40 L242.23 411.40 L242.50 411.40 L242.50 411.40 L204.98 411.40Z" fill="#e4e4e4" stroke="none"/>
<path d="M209.29 411.40 L209.29 400.83 L209.56 400.31 L209.83 399.89 L210.10 399.55 L210.37 399.29 L210.64 399.12 L210.91 399.02 L211.18 399.00 L211.45 399.04 L211.72 399.15 L211.99 399.30 L212.26 399.51 L212.53 399.76 L212.80 400.04 L213.07 400.35 L213.34 400.69 L213.61 401.05 L213.88 401.43 L214.15 401.81 L214.42 402.21 L214.69 402.61 L214.96 403.01 L215.23 403.41 L215.50 403.80 L215.77 404.19 L216.04 404.57 L216.31 404.94 L216.58 405.30 L216.85 405.65 L217.12 405.99 L217.12 411.40Z" fill="#b4b4b4" stroke="none"/>
<path d="M209.21 411.40V401.02" stroke="#000" stroke-width="1.0"/>
<path d="M217.29 411.40V406.19" stroke="#000" stroke-width="1.0"/>
<path d="M212.59 411.40V399.81" stroke="#000" stroke-width="1.5"/>
<path d="M204.98 411.40 L205.25 411.36 L205.52 411.20 L205.79 410.88 L206.06 410.41 L206.33 409.80 L206.59 409.06 L206.86 408.24 L207.13 407.34 L207.40 406.42 L207.67 405.49 L207.94 404.57 L208.21 403.70 L208.48 402.87 L208.75 402.11 L209.02 401.43 L209.29 400.83 L209.56 400.31 L209.83 399.89 L210.10 399.55 L210.37 399.29 L210.64 399.12 L210.91 399.02 L211.18 399.00 L211.45 399.04 L211.72 399.15 L211.99 399.30 L212.26 399.51 L212.53 399.76 L212.80 400.04 L213.07 400.35 L213.34 400.69 L213.61 401.05 L213.88 401.43 L214.15 401.81 L214.42 402.21 L214.69 402.61 L214.96 403.01 L215.23 403.41 L215.50 403.80 L215.77 404.19 L216.04 404.57 L216.31 404.94 L216.58 405.30 L216.85 405.65 L217.12 405.99 L217.39 406.32 L217.66 406.63 L217.93 406.93 L218.20 407.22 L218.47 407.49 L218.74 407.75 L219.01 407.99 L219.28 408.22 L219.55 408.44 L219.82 408.65 L220.09 408.84 L220.36 409.03 L220.63 409.20 L220.90 409.36 L221.17 409.51 L221.44 409.65 L221.71 409.78 L221.98 409.91 L222.25 410.02 L222.52 410.13 L222.79 410.23 L223.06 410.32 L223.33 410.41 L223.60 410.49 L223.87 410.56 L224.14 410.63 L224.41 410.69 L224.68 410.75 L224.95 410.80 L225.22 410.85 L225.49 410.90 L225.76 410.94 L226.03 410.98 L226.30 411.01 L226.57 411.05 L226.84 411.08 L227.11 411.11 L227.38 411.13 L227.65 411.15 L227.92 411.18 L228.19 411.20 L228.46 411.21 L228.73 411.23 L229.00 411.24 L229.27 411.26 L229.54 411.27 L229.81 411.28 L230.08 411.29 L230.35 411.30 L230.62 411.31 L230.89 411.32 L231.16 411.33 L231.43 411.33 L231.70 411.34 L231.97 411.35 L232.24 411.35 L232.51 411.35 L232.78 411.36 L233.05 411.36 L233.32 411.37 L233.59 411.37 L233.86 411.37 L234.13 411.37 L234.40 411.38 L234.67 411.38 L234.94 411.38 L235.21 411.38 L235.48 411.38 L235.75 411.39 L236.02 411.39 L236.29 411.39 L236.56 411.39 L236.83 411.39 L237.10 411.39 L237.37 411.39 L237.64 411.39 L237.91 411.39 L238.18 411.39 L238.45 411.39 L238.72 411.40 L238.99 411.40 L239.26 411.40 L239.53 411.40 L239.80 411.40 L240.07 411.40 L240.34 411.40 L240.61 411.40 L240.88 411.40 L241.15 411.40 L241.42 411.40 L241.69 411.40 L241.96 411.40 L242.23 411.40 L242.50 411.40" fill="none" stroke="#000" stroke-width="1.1"/>
<path d="M204.90 411.40H243.70" stroke="#000" stroke-width="1.2"/>
<text x="205.30" y="421.80" font-size="6.8" text-anchor="middle" fill="#000" stroke="#000">0</text>
<text x="224.10" y="421.80" font-size="6.8" text-anchor="middle" fill="#000" stroke="#000">100</text>
<text x="237.23" y="421.80" font-size="6.8" fill="#000" stroke="#000">200 Ma</text>
<text x="223.39" y="401.60" font-size="13.5" fill="#000" stroke="#000">40.9</text>
<text x="249.28" y="393.85" font-size="8.6" fill="#000" stroke="#000">+25</text>
<text x="251.92" y="405.80" font-size="8.6" fill="#000" stroke="#000">-18</text>
<text x="265.59" y="401.60" font-size="13.5" fill="#000" stroke="#000">Ma</text>
<rect x="58.50" y="323.60" width="257.25" height="257.25" fill="none" stroke="#000" stroke-width="1.1"/>
<path d="M73.99 580.85v-2.5M73.99 323.60v2.5M58.50 565.36h2.5M315.75 565.36h-2.5M83.05 580.85v-2.5M83.05 323.60v2.5M58.50 556.30h2.5M315.75 556.30h-2.5M89.48 580.85v-2.5M89.48 323.60v2.5M58.50 549.87h2.5M315.75 549.87h-2.5M94.46 580.85v-2.5M94.46 323.60v2.5M58.50 544.89h2.5M315.75 544.89h-2.5M98.54 580.85v-2.5M98.54 323.60v2.5M58.50 540.81h2.5M315.75 540.81h-2.5M101.98 580.85v-2.5M101.98 323.60v2.5M58.50 537.37h2.5M315.75 537.37h-2.5M104.96 580.85v-2.5M104.96 323.60v2.5M58.50 534.39h2.5M315.75 534.39h-2.5M107.60 580.85v-2.5M107.60 323.60v2.5M58.50 531.75h2.5M315.75 531.75h-2.5M109.95 580.85v-5M109.95 323.60v5M58.50 529.40h5M315.75 529.40h-5M125.44 580.85v-2.5M125.44 323.60v2.5M58.50 513.91h2.5M315.75 513.91h-2.5M134.50 580.85v-2.5M134.50 323.60v2.5M58.50 504.85h2.5M315.75 504.85h-2.5M140.93 580.85v-2.5M140.93 323.60v2.5M58.50 498.42h2.5M315.75 498.42h-2.5M145.91 580.85v-2.5M145.91 323.60v2.5M58.50 493.44h2.5M315.75 493.44h-2.5M149.99 580.85v-2.5M149.99 323.60v2.5M58.50 489.36h2.5M315.75 489.36h-2.5M153.43 580.85v-2.5M153.43 323.60v2.5M58.50 485.92h2.5M315.75 485.92h-2.5M156.41 580.85v-2.5M156.41 323.60v2.5M58.50 482.94h2.5M315.75 482.94h-2.5M159.05 580.85v-2.5M159.05 323.60v2.5M58.50 480.30h2.5M315.75 480.30h-2.5M161.40 580.85v-5M161.40 323.60v5M58.50 477.95h5M315.75 477.95h-5M176.89 580.85v-2.5M176.89 323.60v2.5M58.50 462.46h2.5M315.75 462.46h-2.5M185.95 580.85v-2.5M185.95 323.60v2.5M58.50 453.40h2.5M315.75 453.40h-2.5M192.38 580.85v-2.5M192.38 323.60v2.5M58.50 446.97h2.5M315.75 446.97h-2.5M197.36 580.85v-2.5M197.36 323.60v2.5M58.50 441.99h2.5M315.75 441.99h-2.5M201.44 580.85v-2.5M201.44 323.60v2.5M58.50 437.91h2.5M315.75 437.91h-2.5M204.88 580.85v-2.5M204.88 323.60v2.5M58.50 434.47h2.5M315.75 434.47h-2.5M207.86 580.85v-2.5M207.86 323.60v2.5M58.50 431.49h2.5M315.75 431.49h-2.5M210.50 580.85v-2.5M210.50 323.60v2.5M58.50 428.85h2.5M315.75 428.85h-2.5M212.85 580.85v-5M212.85 323.60v5M58.50 426.50h5M315.75 426.50h-5M228.34 580.85v-2.5M228.34 323.60v2.5M58.50 411.01h2.5M315.75 411.01h-2.5M237.40 580.85v-2.5M237.40 323.60v2.5M58.50 401.95h2.5M315.75 401.95h-2.5M243.83 580.85v-2.5M243.83 323.60v2.5M58.50 395.52h2.5M315.75 395.52h-2.5M248.81 580.85v-2.5M248.81 323.60v2.5M58.50 390.54h2.5M315.75 390.54h-2.5M252.89 580.85v-2.5M252.89 323.60v2.5M58.50 386.46h2.5M315.75 386.46h-2.5M256.33 580.85v-2.5M256.33 323.60v2.5M58.50 383.02h2.5M315.75 383.02h-2.5M259.31 580.85v-2.5M259.31 323.60v2.5M58.50 380.04h2.5M315.75 380.04h-2.5M261.95 580.85v-2.5M261.95 323.60v2.5M58.50 377.40h2.5M315.75 377.40h-2.5M264.30 580.85v-5M264.30 323.60v5M58.50 375.05h5M315.75 375.05h-5M279.79 580.85v-2.5M279.79 323.60v2.5M58.50 359.56h2.5M315.75 359.56h-2.5M288.85 580.85v-2.5M288.85 323.60v2.5M58.50 350.50h2.5M315.75 350.50h-2.5M295.28 580.85v-2.5M295.28 323.60v2.5M58.50 344.07h2.5M315.75 344.07h-2.5M300.26 580.85v-2.5M300.26 323.60v2.5M58.50 339.09h2.5M315.75 339.09h-2.5M304.34 580.85v-2.5M304.34 323.60v2.5M58.50 335.01h2.5M315.75 335.01h-2.5M307.78 580.85v-2.5M307.78 323.60v2.5M58.50 331.57h2.5M315.75 331.57h-2.5M310.76 580.85v-2.5M310.76 323.60v2.5M58.50 328.59h2.5M315.75 328.59h-2.5M313.40 580.85v-2.5M313.40 323.60v2.5M58.50 325.95h2.5M315.75 325.95h-2.5" stroke="#000" stroke-width="1" fill="none"/>
<text x="54.30" y="332.20" font-size="10.4" text-anchor="end" fill="#111" stroke="#111">10<tspan font-size="6.8" dy="-5.4">1</tspan></text>
<text x="54.30" y="380.05" font-size="10.4" text-anchor="end" fill="#111" stroke="#111">10<tspan font-size="6.8" dy="-5.4">0</tspan></text>
<text x="54.30" y="431.50" font-size="10.4" text-anchor="end" fill="#111" stroke="#111">10<tspan font-size="6.8" dy="-5.4">-1</tspan></text>
<text x="54.30" y="482.95" font-size="10.4" text-anchor="end" fill="#111" stroke="#111">10<tspan font-size="6.8" dy="-5.4">-2</tspan></text>
<text x="54.30" y="534.40" font-size="10.4" text-anchor="end" fill="#111" stroke="#111">10<tspan font-size="6.8" dy="-5.4">-3</tspan></text>
<text x="54.30" y="580.95" font-size="10.4" text-anchor="end" fill="#111" stroke="#111">10<tspan font-size="6.8" dy="-5.4">-4</tspan></text>
<text x="58.50" y="599.45" font-size="10.4" text-anchor="middle" fill="#111" stroke="#111">1 m</text>
<text x="109.95" y="599.45" font-size="10.4" text-anchor="middle" fill="#111" stroke="#111">10 m</text>
<text x="161.40" y="599.45" font-size="10.4" text-anchor="middle" fill="#111" stroke="#111">100 m</text>
<text x="212.85" y="599.45" font-size="10.4" text-anchor="middle" fill="#111" stroke="#111">1 km</text>
<text x="264.30" y="599.45" font-size="10.4" text-anchor="middle" fill="#111" stroke="#111">10 km</text>
<text x="315.75" y="599.45" font-size="10.4" text-anchor="middle" fill="#111" stroke="#111">100 km</text>
<text x="187.12" y="615.35" font-size="10.6" text-anchor="middle" fill="#111" stroke="#111">Diameter</text>
<text transform="translate(25.60,451.73) rotate(-90)" font-size="10.55" text-anchor="middle" fill="#111" stroke="#111">Cumulative crater density, km<tspan font-size="7" dy="-4.5">-2</tspan></text>
<text x="16.2" y="333.9" font-size="18" font-weight="bold" text-anchor="end" fill="#000" stroke="#000">c)</text>
<clipPath id="cpd"><rect x="411.60" y="323.60" width="257.25" height="257.25"/></clipPath>
<g clip-path="url(#cpd)">
<path d="M508.57 323.60 L509.60 326.95 L510.63 330.29 L511.65 333.63 L512.68 336.96 L513.71 340.28 L514.74 343.59 L515.77 346.88 L516.80 350.15 L517.83 353.38 L518.86 356.59 L519.89 359.78 L520.92 362.95 L521.94 366.11 L522.97 369.28 L524.00 372.46 L525.03 375.65 L526.06 378.87 L527.09 382.12 L528.12 385.42" fill="none" stroke="#9c9c9c" stroke-width="1.1"/>
<path d="M527.67 374.39 L528.70 377.70 L529.73 381.07 L530.76 384.47 L531.79 387.91 L532.82 391.38 L533.85 394.87 L534.87 398.37 L535.90 401.88 L536.93 405.38 L537.96 408.88 L538.99 412.37 L540.02 415.87 L541.05 419.38 L542.08 422.91 L543.11 426.45 L544.14 429.99 L545.16 433.54 L546.19 437.09 L547.22 440.64 L548.25 444.18 L549.28 447.72 L550.31 451.25 L551.34 454.76 L552.37 458.26 L553.40 461.74 L554.43 465.20 L555.45 468.64 L556.48 472.06 L557.51 475.43 L558.54 478.76 L559.57 482.03 L560.60 485.29 L561.63 488.53 L562.66 491.78 L563.69 495.04 L564.72 498.35 L565.74 501.71 L566.77 505.15 L567.80 508.68 L568.83 512.26 L569.86 515.86 L570.89 519.42 L571.92 522.93 L572.95 526.33 L573.98 529.67 L575.01 532.98 L576.03 536.25 L577.06 539.49 L578.09 542.67 L579.12 545.78 L580.15 548.83 L581.18 551.80 L582.21 554.70 L583.24 557.55 L584.27 560.34 L585.30 563.07 L586.32 565.73 L587.35 568.33 L588.38 570.84 L589.41 573.28 L590.44 575.67 L591.47 578.00 L592.50 580.27 L592.77 580.85" fill="none" stroke="#aaaaaa" stroke-width="0.8"/>
<path d="M527.67 395.47 L528.70 398.79 L529.73 402.16 L530.76 405.56 L531.79 409.00 L532.82 412.47 L533.85 415.95 L534.87 419.46 L535.90 422.96 L536.93 426.47 L537.96 429.97 L538.99 433.46 L540.02 436.96 L541.05 440.47 L542.08 444.00 L543.11 447.53 L544.14 451.08 L545.16 454.63 L546.19 458.17 L547.22 461.72 L548.25 465.27 L549.28 468.80 L550.31 472.33 L551.34 475.85 L552.37 479.35 L553.40 482.83 L554.43 486.29 L555.45 489.73 L556.48 493.14 L557.51 496.52 L558.54 499.84 L559.57 503.12 L560.60 506.37 L561.63 509.62 L562.66 512.86 L563.69 516.13 L564.72 519.44 L565.74 522.80 L566.77 526.24 L567.80 529.77 L568.83 533.35 L569.86 536.94 L570.89 540.51 L571.92 544.01 L572.95 547.42 L573.98 550.75 L575.01 554.06 L576.03 557.34 L577.06 560.57 L578.09 563.75 L579.12 566.87 L580.15 569.92 L581.18 572.89 L582.21 575.79 L583.24 578.63 L584.05 580.85" fill="none" stroke="#aaaaaa" stroke-width="0.8"/>
<path d="M508.85 323.60 L509.87 326.95 L510.90 330.29 L511.93 333.63 L512.96 336.96 L513.99 340.27 L515.02 343.57 L516.05 346.86 L517.08 350.12 L518.11 353.35 L519.14 356.55 L520.16 359.73 L521.19 362.90 L522.22 366.06 L523.25 369.23 L524.28 372.41 L525.31 375.61 L526.34 378.84 L527.37 382.10 L528.40 385.41 L529.43 388.76 L530.45 392.15 L531.48 395.59 L532.51 399.04 L533.54 402.53 L534.57 406.02 L535.60 409.53 L536.63 413.04 L537.66 416.54 L538.69 420.03 L539.72 423.53 L540.74 427.04 L541.77 430.56 L542.80 434.09 L543.83 437.63 L544.86 441.18 L545.89 444.73 L546.92 448.28 L547.95 451.82" fill="none" stroke="#9c9c9c" stroke-width="1.1"/>
<path d="M547.67 438.76 L548.70 442.30 L549.73 445.83 L550.76 449.35 L551.79 452.86 L552.82 456.36 L553.85 459.83 L554.87 463.28 L555.90 466.71 L556.93 470.11 L557.96 473.46 L558.99 476.76 L560.02 480.03 L561.05 483.28 L562.08 486.52 L563.11 489.77 L564.13 493.06 L565.16 496.38 L566.19 499.78 L567.22 503.26 L568.25 506.81 L569.28 510.40 L570.31 513.99 L571.34 517.54 L572.37 521.00 L573.40 524.36 L574.43 527.69 L575.45 530.98 L576.48 534.24 L577.51 537.45 L578.54 540.61 L579.57 543.70 L580.60 546.71 L581.63 549.65 L582.66 552.52 L583.69 555.34 L584.72 558.11 L585.74 560.81 L586.77 563.45 L587.80 566.01 L588.83 568.49 L589.86 570.90 L590.89 573.26 L591.92 575.57 L592.95 577.82 L593.98 580.00 L594.39 580.85" fill="none" stroke="#aaaaaa" stroke-width="0.8"/>
<path d="M547.67 465.85 L548.70 469.39 L549.73 472.92 L550.76 476.45 L551.79 479.96 L552.82 483.45 L553.85 486.92 L554.87 490.37 L555.90 493.80 L556.93 497.20 L557.96 500.55 L558.99 503.86 L560.02 507.12 L561.05 510.37 L562.08 513.61 L563.11 516.86 L564.13 520.15 L565.16 523.48 L566.19 526.87 L567.22 530.35 L568.25 533.91 L569.28 537.50 L570.31 541.08 L571.34 544.63 L572.37 548.09 L573.40 551.45 L574.43 554.78 L575.45 558.08 L576.48 561.33 L577.51 564.55 L578.54 567.70 L579.57 570.79 L580.60 573.80 L581.63 576.74 L582.66 579.61 L583.11 580.85" fill="none" stroke="#aaaaaa" stroke-width="0.8"/>
<path d="M529.50 385.00V400.00" stroke="#bcbcbc" stroke-width="1"/>
<path d="M535.50 401.00V436.00" stroke="#bcbcbc" stroke-width="1"/>
<path d="M540.50 422.00V527.00" stroke="#bcbcbc" stroke-width="1"/>
<path d="M550.50 450.00V487.00" stroke="#bcbcbc" stroke-width="1"/>
<path d="M555.50 470.00V581.00" stroke="#bcbcbc" stroke-width="1"/>
<path d="M528.70 387.30 L529.73 390.66 L530.76 394.07 L531.79 397.51 L532.82 400.97 L533.85 404.46 L534.87 407.96 L535.90 411.47 L536.93 414.98 L537.96 418.48 L538.99 421.97 L540.02 425.46 L541.05 428.98 L542.08 432.50 L543.11 436.04 L544.14 439.58 L545.16 443.13 L546.19 446.68 L547.22 450.23 L548.25 453.77 L549.28 457.31 L550.31 460.84 L551.34 464.35 L552.37 467.85 L553.40 471.34 L554.43 474.80 L555.45 478.24 L556.48 481.65 L557.51 485.03 L558.54 488.35 L559.57 491.63 L560.60 494.88 L561.63 498.12 L562.66 501.37 L563.69 504.64 L564.72 507.94 L565.74 511.31 L566.77 514.75 L567.80 518.28 L568.83 521.86 L569.86 525.45 L570.89 529.02 L571.92 532.52 L572.95 535.92 L573.98 539.26 L575.01 542.57 L576.03 545.85 L577.06 549.08 L578.09 552.26 L579.12 555.38 L580.15 558.43 L581.18 561.40 L582.21 564.29 L583.24 567.14 L584.27 569.93 L585.30 572.66 L586.32 575.33 L587.35 577.92 L588.38 580.44 L588.56 580.85" fill="none" stroke="#1155d4" stroke-width="1.0"/>
<path d="M548.70 454.41 L549.73 457.95 L550.76 461.47 L551.79 464.98 L552.82 468.47 L553.85 471.95 L554.87 475.40 L555.90 478.82 L556.93 482.22 L557.96 485.58 L558.99 488.88 L560.02 492.14 L561.05 495.39 L562.08 498.63 L563.11 501.89 L564.13 505.17 L565.16 508.50 L566.19 511.89 L567.22 515.37 L568.25 518.93 L569.28 522.52 L570.31 526.11 L571.34 529.65 L572.37 533.12 L573.40 536.48 L574.43 539.80 L575.45 543.10 L576.48 546.36 L577.51 549.57 L578.54 552.72 L579.57 555.81 L580.60 558.83 L581.63 561.76 L582.66 564.64 L583.69 567.46 L584.72 570.22 L585.74 572.93 L586.77 575.56 L587.80 578.12 L588.83 580.61 L588.93 580.85" fill="none" stroke="#000" stroke-width="1.5"/>
<path d="M527.95 391.55 L532.25 391.55 L530.10 395.05Z" fill="none" stroke="#1155d4" stroke-width="1.0" stroke-linejoin="miter"/>
<path d="M533.35 406.75 L537.65 406.75 L535.50 410.25Z" fill="none" stroke="#1155d4" stroke-width="1.0" stroke-linejoin="miter"/>
<path d="M538.45 421.65 L542.75 421.65 L540.60 425.15Z" fill="none" stroke="#1155d4" stroke-width="1.0" stroke-linejoin="miter"/>
<path d="M550.40 458.30 L551.06 459.89 L552.78 460.03 L551.47 461.15 L551.87 462.82 L550.40 461.93 L548.93 462.82 L549.33 461.15 L548.02 460.03 L549.74 459.89Z" fill="none" stroke="#000" stroke-width="0.95" stroke-linejoin="miter"/>
<path d="M555.80 473.90 L556.46 475.49 L558.18 475.63 L556.87 476.75 L557.27 478.42 L555.80 477.53 L554.33 478.42 L554.73 476.75 L553.42 475.63 L555.14 475.49Z" fill="none" stroke="#000" stroke-width="0.95" stroke-linejoin="miter"/>
</g>
<path d="M543.00 343.20h17.4" stroke="#000" stroke-width="1.3"/>
<path d="M551.70 340.20 L552.44 342.18 L554.55 342.27 L552.90 343.59 L553.46 345.63 L551.70 344.46 L549.94 345.63 L550.50 343.59 L548.85 342.27 L550.96 342.18Z" fill="#000" stroke="#000" stroke-width="0.6" stroke-linejoin="miter"/>
<text transform="scale(0.915 1)" x="617.05" y="346.50" font-size="8" fill="#111" stroke="#111">2 craters, N(1)=2.27x10<tspan font-size="4.9" dy="-4.0">-3</tspan><tspan dy="4.0"> km</tspan><tspan font-size="4.9" dy="-4.0">-2</tspan></text>
<path d="M543.00 355.95h17.4" stroke="#1155d4" stroke-width="1.3"/>
<path d="M549.50 353.85 L553.90 353.85 L551.70 357.85Z" fill="#1155d4" stroke="#1155d4" stroke-width="0.6" stroke-linejoin="miter"/>
<text transform="scale(0.915 1)" x="617.05" y="359.25" font-size="8" fill="#111" stroke="#111">4 craters, N(1)=2.18x10<tspan font-size="4.9" dy="-4.0">-3</tspan><tspan dy="4.0"> km</tspan><tspan font-size="4.9" dy="-4.0">-2</tspan></text>
<path d="M426.80 552.00 L427.46 553.59 L429.18 553.73 L427.87 554.85 L428.27 556.52 L426.80 555.63 L425.33 556.52 L425.73 554.85 L424.42 553.73 L426.14 553.59Z" fill="none" stroke="#000" stroke-width="0.95" stroke-linejoin="miter"/>
<text x="433.80" y="557.30" font-size="7.3" fill="#111" stroke="#111">Impact Crater, area=9.29x10<tspan font-size="5" dy="-3.6">1</tspan><tspan dy="3.6"> km</tspan><tspan font-size="5" dy="-3.6">2</tspan></text>
<path d="M424.60 565.40 L429.20 565.40 L426.90 569.10Z" fill="none" stroke="#1155d4" stroke-width="1.1" stroke-linejoin="miter"/>
<text x="433.80" y="570.05" font-size="7.3" fill="#111" stroke="#111">Landslide LD5, area=8.97x10<tspan font-size="5" dy="-3.6">0</tspan><tspan dy="3.6"> km</tspan><tspan font-size="5" dy="-3.6">2</tspan></text>
<path d="M439.58 424.70 L439.85 424.69 L440.12 424.62 L440.39 424.42 L440.66 424.05 L440.93 423.48 L441.19 422.71 L441.46 421.77 L441.73 420.66 L442.00 419.45 L442.27 418.18 L442.54 416.88 L442.81 415.60 L443.08 414.38 L443.35 413.25 L443.62 412.23 L443.89 411.33 L444.16 410.58 L444.43 409.98 L444.70 409.52 L444.97 409.21 L445.24 409.04 L445.51 409.00 L445.78 409.08 L446.05 409.27 L446.32 409.56 L446.59 409.93 L446.86 410.37 L447.13 410.87 L447.40 411.41 L447.67 411.99 L447.94 412.59 L448.21 413.22 L448.48 413.84 L448.75 414.47 L449.02 415.10 L449.29 415.71 L449.56 416.31 L449.83 416.89 L450.10 417.45 L450.37 417.99 L450.64 418.50 L450.91 418.98 L451.18 419.44 L451.45 419.87 L451.72 420.28 L451.99 420.65 L452.26 421.01 L452.53 421.33 L452.80 421.64 L453.07 421.92 L453.34 422.18 L453.61 422.41 L453.88 422.63 L454.15 422.83 L454.42 423.02 L454.69 423.18 L454.96 423.33 L455.23 423.47 L455.50 423.60 L455.77 423.71 L456.04 423.81 L456.31 423.91 L456.58 423.99 L456.85 424.07 L457.12 424.14 L457.39 424.20 L457.66 424.25 L457.93 424.30 L458.20 424.34 L458.47 424.38 L458.74 424.42 L459.01 424.45 L459.28 424.48 L459.55 424.50 L459.82 424.53 L460.09 424.55 L460.36 424.56 L460.63 424.58 L460.90 424.59 L461.17 424.61 L461.44 424.62 L461.71 424.63 L461.98 424.64 L462.25 424.64 L462.52 424.65 L462.79 424.66 L463.06 424.66 L463.33 424.67 L463.60 424.67 L463.87 424.67 L464.14 424.68 L464.41 424.68 L464.68 424.68 L464.95 424.68 L465.22 424.69 L465.49 424.69 L465.76 424.69 L466.03 424.69 L466.30 424.69 L466.57 424.69 L466.84 424.69 L467.11 424.69 L467.38 424.70 L467.65 424.70 L467.92 424.70 L468.19 424.70 L468.46 424.70 L468.73 424.70 L469.00 424.70 L469.27 424.70 L469.54 424.70 L469.81 424.70 L470.08 424.70 L470.35 424.70 L470.62 424.70 L470.89 424.70 L471.16 424.70 L471.43 424.70 L471.70 424.70 L471.97 424.70 L472.24 424.70 L472.51 424.70 L472.78 424.70 L473.05 424.70 L473.32 424.70 L473.59 424.70 L473.86 424.70 L474.13 424.70 L474.40 424.70 L474.67 424.70 L474.94 424.70 L475.21 424.70 L475.48 424.70 L475.75 424.70 L476.02 424.70 L476.29 424.70 L476.56 424.70 L476.83 424.70 L477.10 424.70 L477.10 424.70 L439.58 424.70Z" fill="#e4e4e4" stroke="none"/>
<path d="M443.89 424.70 L443.89 411.33 L444.16 410.58 L444.43 409.98 L444.70 409.52 L444.97 409.21 L445.24 409.04 L445.51 409.00 L445.78 409.08 L446.05 409.27 L446.32 409.56 L446.59 409.93 L446.86 410.37 L447.13 410.87 L447.40 411.41 L447.67 411.99 L447.94 412.59 L448.21 413.22 L448.48 413.84 L448.75 414.47 L449.02 415.10 L449.29 415.71 L449.56 416.31 L449.83 416.89 L450.10 417.45 L450.10 424.70Z" fill="#b4b4b4" stroke="none"/>
<path d="M443.69 424.70V411.99" stroke="#1155d4" stroke-width="1.0"/>
<path d="M450.27 424.70V417.79" stroke="#1155d4" stroke-width="1.0"/>
<path d="M446.51 424.70V409.81" stroke="#1155d4" stroke-width="1.5"/>
<path d="M439.58 424.70 L439.85 424.69 L440.12 424.62 L440.39 424.42 L440.66 424.05 L440.93 423.48 L441.19 422.71 L441.46 421.77 L441.73 420.66 L442.00 419.45 L442.27 418.18 L442.54 416.88 L442.81 415.60 L443.08 414.38 L443.35 413.25 L443.62 412.23 L443.89 411.33 L444.16 410.58 L444.43 409.98 L444.70 409.52 L444.97 409.21 L445.24 409.04 L445.51 409.00 L445.78 409.08 L446.05 409.27 L446.32 409.56 L446.59 409.93 L446.86 410.37 L447.13 410.87 L447.40 411.41 L447.67 411.99 L447.94 412.59 L448.21 413.22 L448.48 413.84 L448.75 414.47 L449.02 415.10 L449.29 415.71 L449.56 416.31 L449.83 416.89 L450.10 417.45 L450.37 417.99 L450.64 418.50 L450.91 418.98 L451.18 419.44 L451.45 419.87 L451.72 420.28 L451.99 420.65 L452.26 421.01 L452.53 421.33 L452.80 421.64 L453.07 421.92 L453.34 422.18 L453.61 422.41 L453.88 422.63 L454.15 422.83 L454.42 423.02 L454.69 423.18 L454.96 423.33 L455.23 423.47 L455.50 423.60 L455.77 423.71 L456.04 423.81 L456.31 423.91 L456.58 423.99 L456.85 424.07 L457.12 424.14 L457.39 424.20 L457.66 424.25 L457.93 424.30 L458.20 424.34 L458.47 424.38 L458.74 424.42 L459.01 424.45 L459.28 424.48 L459.55 424.50 L459.82 424.53 L460.09 424.55 L460.36 424.56 L460.63 424.58 L460.90 424.59 L461.17 424.61 L461.44 424.62 L461.71 424.63 L461.98 424.64 L462.25 424.64 L462.52 424.65 L462.79 424.66 L463.06 424.66 L463.33 424.67 L463.60 424.67 L463.87 424.67 L464.14 424.68 L464.41 424.68 L464.68 424.68 L464.95 424.68 L465.22 424.69 L465.49 424.69 L465.76 424.69 L466.03 424.69 L466.30 424.69 L466.57 424.69 L466.84 424.69 L467.11 424.69 L467.38 424.70 L467.65 424.70 L467.92 424.70 L468.19 424.70 L468.46 424.70 L468.73 424.70 L469.00 424.70 L469.27 424.70 L469.54 424.70 L469.81 424.70 L470.08 424.70 L470.35 424.70 L470.62 424.70 L470.89 424.70 L471.16 424.70 L471.43 424.70 L471.70 424.70 L471.97 424.70 L472.24 424.70 L472.51 424.70 L472.78 424.70 L473.05 424.70 L473.32 424.70 L473.59 424.70 L473.86 424.70 L474.13 424.70 L474.40 424.70 L474.67 424.70 L474.94 424.70 L475.21 424.70 L475.48 424.70 L475.75 424.70 L476.02 424.70 L476.29 424.70 L476.56 424.70 L476.83 424.70 L477.10 424.70" fill="none" stroke="#1155d4" stroke-width="1.1"/>
<path d="M439.50 424.70H478.30" stroke="#1155d4" stroke-width="1.2"/>
<text x="439.90" y="435.10" font-size="6.8" text-anchor="middle" fill="#1155d4" stroke="#1155d4">0</text>
<text x="458.70" y="435.10" font-size="6.8" text-anchor="middle" fill="#1155d4" stroke="#1155d4">100</text>
<text x="471.83" y="435.10" font-size="6.8" fill="#1155d4" stroke="#1155d4">200 Ma</text>
<text x="456.69" y="413.90" font-size="13.5" fill="#1155d4" stroke="#1155d4">37.3</text>
<text x="483.28" y="406.15" font-size="8.6" fill="#1155d4" stroke="#1155d4">+20</text>
<text x="485.22" y="418.10" font-size="8.6" fill="#1155d4" stroke="#1155d4">-15</text>
<text x="499.19" y="413.90" font-size="13.5" fill="#1155d4" stroke="#1155d4">Ma</text>
<path d="M565.58 438.88 L565.85 438.55 L566.12 437.87 L566.39 436.95 L566.66 435.86 L566.93 434.68 L567.19 433.47 L567.46 432.26 L567.73 431.08 L568.00 429.98 L568.27 428.96 L568.54 428.03 L568.81 427.20 L569.08 426.49 L569.35 425.88 L569.62 425.38 L569.89 424.98 L570.16 424.67 L570.43 424.47 L570.70 424.34 L570.97 424.30 L571.24 424.33 L571.51 424.42 L571.78 424.58 L572.05 424.78 L572.32 425.03 L572.59 425.32 L572.86 425.64 L573.13 425.99 L573.40 426.36 L573.67 426.76 L573.94 427.16 L574.21 427.57 L574.48 428.00 L574.75 428.42 L575.02 428.85 L575.29 429.27 L575.56 429.69 L575.83 430.11 L576.10 430.52 L576.37 430.92 L576.64 431.31 L576.91 431.69 L577.18 432.06 L577.45 432.41 L577.72 432.76 L577.99 433.09 L578.26 433.41 L578.53 433.72 L578.80 434.01 L579.07 434.29 L579.34 434.56 L579.61 434.82 L579.88 435.06 L580.15 435.29 L580.42 435.51 L580.69 435.72 L580.96 435.92 L581.23 436.10 L581.50 436.28 L581.77 436.45 L582.04 436.61 L582.31 436.76 L582.58 436.90 L582.85 437.03 L583.12 437.15 L583.39 437.27 L583.66 437.38 L583.93 437.48 L584.20 437.58 L584.47 437.67 L584.74 437.75 L585.01 437.83 L585.28 437.91 L585.55 437.98 L585.82 438.04 L586.09 438.10 L586.36 438.16 L586.63 438.21 L586.90 438.26 L587.17 438.31 L587.44 438.35 L587.71 438.39 L587.98 438.43 L588.25 438.46 L588.52 438.49 L588.79 438.52 L589.06 438.55 L589.33 438.58 L589.60 438.60 L589.87 438.62 L590.14 438.64 L590.41 438.66 L590.68 438.68 L590.95 438.70 L591.22 438.71 L591.49 438.73 L591.76 438.74 L592.03 438.75 L592.30 438.76 L592.57 438.77 L592.84 438.78 L593.11 438.79 L593.38 438.80 L593.65 438.81 L593.92 438.82 L594.19 438.82 L594.46 438.83 L594.73 438.83 L595.00 438.84 L595.27 438.84 L595.54 438.85 L595.81 438.85 L596.08 438.86 L596.35 438.86 L596.62 438.86 L596.89 438.87 L597.16 438.87 L597.43 438.87 L597.70 438.87 L597.97 438.88 L598.24 438.88 L598.51 438.88 L598.78 438.88 L599.05 438.88 L599.32 438.88 L599.59 438.89 L599.86 438.89 L600.13 438.89 L600.40 438.89 L600.67 438.89 L600.94 438.89 L601.21 438.89 L601.48 438.89 L601.75 438.89 L602.02 438.89 L602.29 438.89 L602.56 438.89 L602.83 438.89 L603.10 438.90 L603.10 438.90 L565.58 438.90Z" fill="#e4e4e4" stroke="none"/>
<path d="M569.35 438.90 L569.35 425.88 L569.62 425.38 L569.89 424.98 L570.16 424.67 L570.43 424.47 L570.70 424.34 L570.97 424.30 L571.24 424.33 L571.51 424.42 L571.78 424.58 L572.05 424.78 L572.32 425.03 L572.59 425.32 L572.86 425.64 L573.13 425.99 L573.40 426.36 L573.67 426.76 L573.94 427.16 L574.21 427.57 L574.48 428.00 L574.75 428.42 L575.02 428.85 L575.29 429.27 L575.56 429.69 L575.83 430.11 L576.10 430.52 L576.37 430.92 L576.64 431.31 L576.91 431.69 L577.18 432.06 L577.45 432.41 L577.72 432.76 L577.99 433.09 L577.99 438.90Z" fill="#b4b4b4" stroke="none"/>
<path d="M569.24 438.90V426.12" stroke="#000" stroke-width="1.0"/>
<path d="M578.08 438.90V433.19" stroke="#000" stroke-width="1.0"/>
<path d="M572.81 438.90V425.58" stroke="#000" stroke-width="1.5"/>
<path d="M565.58 438.88 L565.85 438.55 L566.12 437.87 L566.39 436.95 L566.66 435.86 L566.93 434.68 L567.19 433.47 L567.46 432.26 L567.73 431.08 L568.00 429.98 L568.27 428.96 L568.54 428.03 L568.81 427.20 L569.08 426.49 L569.35 425.88 L569.62 425.38 L569.89 424.98 L570.16 424.67 L570.43 424.47 L570.70 424.34 L570.97 424.30 L571.24 424.33 L571.51 424.42 L571.78 424.58 L572.05 424.78 L572.32 425.03 L572.59 425.32 L572.86 425.64 L573.13 425.99 L573.40 426.36 L573.67 426.76 L573.94 427.16 L574.21 427.57 L574.48 428.00 L574.75 428.42 L575.02 428.85 L575.29 429.27 L575.56 429.69 L575.83 430.11 L576.10 430.52 L576.37 430.92 L576.64 431.31 L576.91 431.69 L577.18 432.06 L577.45 432.41 L577.72 432.76 L577.99 433.09 L578.26 433.41 L578.53 433.72 L578.80 434.01 L579.07 434.29 L579.34 434.56 L579.61 434.82 L579.88 435.06 L580.15 435.29 L580.42 435.51 L580.69 435.72 L580.96 435.92 L581.23 436.10 L581.50 436.28 L581.77 436.45 L582.04 436.61 L582.31 436.76 L582.58 436.90 L582.85 437.03 L583.12 437.15 L583.39 437.27 L583.66 437.38 L583.93 437.48 L584.20 437.58 L584.47 437.67 L584.74 437.75 L585.01 437.83 L585.28 437.91 L585.55 437.98 L585.82 438.04 L586.09 438.10 L586.36 438.16 L586.63 438.21 L586.90 438.26 L587.17 438.31 L587.44 438.35 L587.71 438.39 L587.98 438.43 L588.25 438.46 L588.52 438.49 L588.79 438.52 L589.06 438.55 L589.33 438.58 L589.60 438.60 L589.87 438.62 L590.14 438.64 L590.41 438.66 L590.68 438.68 L590.95 438.70 L591.22 438.71 L591.49 438.73 L591.76 438.74 L592.03 438.75 L592.30 438.76 L592.57 438.77 L592.84 438.78 L593.11 438.79 L593.38 438.80 L593.65 438.81 L593.92 438.82 L594.19 438.82 L594.46 438.83 L594.73 438.83 L595.00 438.84 L595.27 438.84 L595.54 438.85 L595.81 438.85 L596.08 438.86 L596.35 438.86 L596.62 438.86 L596.89 438.87 L597.16 438.87 L597.43 438.87 L597.70 438.87 L597.97 438.88 L598.24 438.88 L598.51 438.88 L598.78 438.88 L599.05 438.88 L599.32 438.88 L599.59 438.89 L599.86 438.89 L600.13 438.89 L600.40 438.89 L600.67 438.89 L600.94 438.89 L601.21 438.89 L601.48 438.89 L601.75 438.89 L602.02 438.89 L602.29 438.89 L602.56 438.89 L602.83 438.89 L603.10 438.90" fill="none" stroke="#000" stroke-width="1.1"/>
<path d="M565.50 438.90H604.30" stroke="#000" stroke-width="1.2"/>
<text x="565.90" y="449.30" font-size="6.8" text-anchor="middle" fill="#000" stroke="#000">0</text>
<text x="584.70" y="449.30" font-size="6.8" text-anchor="middle" fill="#000" stroke="#000">100</text>
<text x="597.83" y="449.30" font-size="6.8" fill="#000" stroke="#000">200 Ma</text>
<text x="583.79" y="428.70" font-size="13.5" fill="#000" stroke="#000">38.9</text>
<text x="610.08" y="420.95" font-size="8.6" fill="#000" stroke="#000">+28</text>
<text x="612.62" y="432.90" font-size="8.6" fill="#000" stroke="#000">-19</text>
<text x="626.29" y="428.70" font-size="13.5" fill="#000" stroke="#000">Ma</text>
<rect x="411.60" y="323.60" width="257.25" height="257.25" fill="none" stroke="#000" stroke-width="1.1"/>
<path d="M427.09 580.85v-2.5M427.09 323.60v2.5M411.60 565.36h2.5M668.85 565.36h-2.5M436.15 580.85v-2.5M436.15 323.60v2.5M411.60 556.30h2.5M668.85 556.30h-2.5M442.58 580.85v-2.5M442.58 323.60v2.5M411.60 549.87h2.5M668.85 549.87h-2.5M447.56 580.85v-2.5M447.56 323.60v2.5M411.60 544.89h2.5M668.85 544.89h-2.5M451.64 580.85v-2.5M451.64 323.60v2.5M411.60 540.81h2.5M668.85 540.81h-2.5M455.08 580.85v-2.5M455.08 323.60v2.5M411.60 537.37h2.5M668.85 537.37h-2.5M458.06 580.85v-2.5M458.06 323.60v2.5M411.60 534.39h2.5M668.85 534.39h-2.5M460.70 580.85v-2.5M460.70 323.60v2.5M411.60 531.75h2.5M668.85 531.75h-2.5M463.05 580.85v-5M463.05 323.60v5M411.60 529.40h5M668.85 529.40h-5M478.54 580.85v-2.5M478.54 323.60v2.5M411.60 513.91h2.5M668.85 513.91h-2.5M487.60 580.85v-2.5M487.60 323.60v2.5M411.60 504.85h2.5M668.85 504.85h-2.5M494.03 580.85v-2.5M494.03 323.60v2.5M411.60 498.42h2.5M668.85 498.42h-2.5M499.01 580.85v-2.5M499.01 323.60v2.5M411.60 493.44h2.5M668.85 493.44h-2.5M503.09 580.85v-2.5M503.09 323.60v2.5M411.60 489.36h2.5M668.85 489.36h-2.5M506.53 580.85v-2.5M506.53 323.60v2.5M411.60 485.92h2.5M668.85 485.92h-2.5M509.51 580.85v-2.5M509.51 323.60v2.5M411.60 482.94h2.5M668.85 482.94h-2.5M512.15 580.85v-2.5M512.15 323.60v2.5M411.60 480.30h2.5M668.85 480.30h-2.5M514.50 580.85v-5M514.50 323.60v5M411.60 477.95h5M668.85 477.95h-5M529.99 580.85v-2.5M529.99 323.60v2.5M411.60 462.46h2.5M668.85 462.46h-2.5M539.05 580.85v-2.5M539.05 323.60v2.5M411.60 453.40h2.5M668.85 453.40h-2.5M545.48 580.85v-2.5M545.48 323.60v2.5M411.60 446.97h2.5M668.85 446.97h-2.5M550.46 580.85v-2.5M550.46 323.60v2.5M411.60 441.99h2.5M668.85 441.99h-2.5M554.54 580.85v-2.5M554.54 323.60v2.5M411.60 437.91h2.5M668.85 437.91h-2.5M557.98 580.85v-2.5M557.98 323.60v2.5M411.60 434.47h2.5M668.85 434.47h-2.5M560.96 580.85v-2.5M560.96 323.60v2.5M411.60 431.49h2.5M668.85 431.49h-2.5M563.60 580.85v-2.5M563.60 323.60v2.5M411.60 428.85h2.5M668.85 428.85h-2.5M565.95 580.85v-5M565.95 323.60v5M411.60 426.50h5M668.85 426.50h-5M581.44 580.85v-2.5M581.44 323.60v2.5M411.60 411.01h2.5M668.85 411.01h-2.5M590.50 580.85v-2.5M590.50 323.60v2.5M411.60 401.95h2.5M668.85 401.95h-2.5M596.93 580.85v-2.5M596.93 323.60v2.5M411.60 395.52h2.5M668.85 395.52h-2.5M601.91 580.85v-2.5M601.91 323.60v2.5M411.60 390.54h2.5M668.85 390.54h-2.5M605.99 580.85v-2.5M605.99 323.60v2.5M411.60 386.46h2.5M668.85 386.46h-2.5M609.43 580.85v-2.5M609.43 323.60v2.5M411.60 383.02h2.5M668.85 383.02h-2.5M612.41 580.85v-2.5M612.41 323.60v2.5M411.60 380.04h2.5M668.85 380.04h-2.5M615.05 580.85v-2.5M615.05 323.60v2.5M411.60 377.40h2.5M668.85 377.40h-2.5M617.40 580.85v-5M617.40 323.60v5M411.60 375.05h5M668.85 375.05h-5M632.89 580.85v-2.5M632.89 323.60v2.5M411.60 359.56h2.5M668.85 359.56h-2.5M641.95 580.85v-2.5M641.95 323.60v2.5M411.60 350.50h2.5M668.85 350.50h-2.5M648.38 580.85v-2.5M648.38 323.60v2.5M411.60 344.07h2.5M668.85 344.07h-2.5M653.36 580.85v-2.5M653.36 323.60v2.5M411.60 339.09h2.5M668.85 339.09h-2.5M657.44 580.85v-2.5M657.44 323.60v2.5M411.60 335.01h2.5M668.85 335.01h-2.5M660.88 580.85v-2.5M660.88 323.60v2.5M411.60 331.57h2.5M668.85 331.57h-2.5M663.86 580.85v-2.5M663.86 323.60v2.5M411.60 328.59h2.5M668.85 328.59h-2.5M666.50 580.85v-2.5M666.50 323.60v2.5M411.60 325.95h2.5M668.85 325.95h-2.5" stroke="#000" stroke-width="1" fill="none"/>
<text x="407.40" y="332.20" font-size="10.4" text-anchor="end" fill="#111" stroke="#111">10<tspan font-size="6.8" dy="-5.4">1</tspan></text>
<text x="407.40" y="380.05" font-size="10.4" text-anchor="end" fill="#111" stroke="#111">10<tspan font-size="6.8" dy="-5.4">0</tspan></text>
<text x="407.40" y="431.50" font-size="10.4" text-anchor="end" fill="#111" stroke="#111">10<tspan font-size="6.8" dy="-5.4">-1</tspan></text>
<text x="407.40" y="482.95" font-size="10.4" text-anchor="end" fill="#111" stroke="#111">10<tspan font-size="6.8" dy="-5.4">-2</tspan></text>
<text x="407.40" y="534.40" font-size="10.4" text-anchor="end" fill="#111" stroke="#111">10<tspan font-size="6.8" dy="-5.4">-3</tspan></text>
<text x="407.40" y="580.95" font-size="10.4" text-anchor="end" fill="#111" stroke="#111">10<tspan font-size="6.8" dy="-5.4">-4</tspan></text>
<text x="411.60" y="599.45" font-size="10.4" text-anchor="middle" fill="#111" stroke="#111">1 m</text>
<text x="463.05" y="599.45" font-size="10.4" text-anchor="middle" fill="#111" stroke="#111">10 m</text>
<text x="514.50" y="599.45" font-size="10.4" text-anchor="middle" fill="#111" stroke="#111">100 m</text>
<text x="565.95" y="599.45" font-size="10.4" text-anchor="middle" fill="#111" stroke="#111">1 km</text>
<text x="617.40" y="599.45" font-size="10.4" text-anchor="middle" fill="#111" stroke="#111">10 km</text>
<text x="668.85" y="599.45" font-size="10.4" text-anchor="middle" fill="#111" stroke="#111">100 km</text>
<text x="540.23" y="615.35" font-size="10.6" text-anchor="middle" fill="#111" stroke="#111">Diameter</text>
<text transform="translate(378.70,451.73) rotate(-90)" font-size="10.55" text-anchor="middle" fill="#111" stroke="#111">Cumulative crater density, km<tspan font-size="7" dy="-4.5">-2</tspan></text>
<text x="377.4" y="333.9" font-size="18" font-weight="bold" text-anchor="end" fill="#000" stroke="#000">d)</text>
<clipPath id="cpe"><rect x="58.50" y="651.20" width="257.25" height="257.25"/></clipPath>
<g clip-path="url(#cpe)">
<path d="M149.55 651.20 L150.58 654.52 L151.61 657.86 L152.64 661.20 L153.67 664.55 L154.70 667.89 L155.73 671.24 L156.75 674.59 L157.78 677.94 L158.81 681.27 L159.84 684.60 L160.87 687.92 L161.90 691.22 L162.93 694.50 L163.96 697.76 L164.99 700.99 L166.02 704.19 L167.04 707.38 L168.07 710.55 L169.10 713.71 L170.13 716.88 L171.16 720.06 L172.19 723.26 L173.22 726.49 L174.25 729.75 L175.28 733.05" fill="none" stroke="#9c9c9c" stroke-width="1.1"/>
<path d="M174.97 722.54 L176.00 725.88 L177.03 729.26 L178.06 732.68 L179.09 736.13 L180.12 739.60 L181.14 743.10 L182.17 746.60 L183.20 750.11 L184.23 753.62 L185.26 757.11 L186.29 760.60 L187.32 764.11 L188.35 767.62 L189.38 771.15 L190.41 774.69 L191.44 778.24 L192.46 781.79 L193.49 785.34 L194.52 788.88 L195.55 792.43 L196.58 795.96 L197.61 799.48 L198.64 802.99 L199.67 806.49 L200.70 809.96 L201.73 813.41 L202.75 816.84 L203.78 820.24 L204.81 823.60 L205.84 826.90 L206.87 830.17 L207.90 833.42 L208.93 836.66 L209.96 839.91 L210.99 843.20 L212.02 846.52 L213.04 849.91 L214.07 853.39 L215.10 856.94 L216.13 860.53 L217.16 864.12 L218.19 867.66 L219.22 871.13 L220.25 874.50 L221.28 877.83 L222.31 881.13 L223.33 884.39 L224.36 887.60 L225.39 890.76 L226.42 893.85 L227.45 896.87 L228.48 899.81 L229.51 902.68 L230.54 905.51 L231.57 908.28 L231.63 908.45" fill="none" stroke="#aaaaaa" stroke-width="0.8"/>
<path d="M174.97 743.20 L176.00 746.54 L177.03 749.92 L178.06 753.34 L179.09 756.79 L180.12 760.26 L181.14 763.76 L182.17 767.26 L183.20 770.77 L184.23 774.27 L185.26 777.77 L186.29 781.26 L187.32 784.76 L188.35 788.28 L189.38 791.81 L190.41 795.35 L191.44 798.90 L192.46 802.45 L193.49 806.00 L194.52 809.54 L195.55 813.09 L196.58 816.62 L197.61 820.14 L198.64 823.65 L199.67 827.15 L200.70 830.62 L201.73 834.07 L202.75 837.50 L203.78 840.90 L204.81 844.26 L205.84 847.56 L206.87 850.83 L207.90 854.08 L208.93 857.32 L209.96 860.57 L210.99 863.85 L212.02 867.18 L213.04 870.57 L214.07 874.05 L215.10 877.60 L216.13 881.19 L217.16 884.78 L218.19 888.32 L219.22 891.79 L220.25 895.16 L221.28 898.49 L222.31 901.78 L223.33 905.04 L224.36 908.26 L224.43 908.45" fill="none" stroke="#aaaaaa" stroke-width="0.8"/>
<path d="M150.24 651.20 L151.27 654.53 L152.30 657.87 L153.33 661.21 L154.36 664.56 L155.39 667.91 L156.42 671.26 L157.45 674.61 L158.48 677.95 L159.50 681.28 L160.53 684.60 L161.56 687.90 L162.59 691.19 L163.62 694.47 L164.65 697.71 L165.68 700.91 L166.71 704.10 L167.74 707.27 L168.77 710.44 L169.79 713.61 L170.82 716.78 L171.85 719.98 L172.88 723.19 L173.91 726.44" fill="none" stroke="#9c9c9c" stroke-width="1.1"/>
<path d="M173.77 720.58 L174.80 723.87 L175.83 727.20 L176.86 730.57 L177.89 733.99 L178.92 737.43 L179.94 740.90 L180.97 744.39 L182.00 747.90 L183.03 751.40 L184.06 754.91 L185.09 758.41 L186.12 761.90 L187.15 765.40 L188.18 768.92 L189.21 772.44 L190.24 775.98 L191.26 779.53 L192.29 783.08 L193.32 786.63 L194.35 790.17 L195.38 793.72 L196.41 797.25 L197.44 800.78 L198.47 804.29 L199.50 807.79 L200.53 811.26 L201.55 814.72 L202.58 818.15 L203.61 821.56 L204.64 824.92 L205.67 828.24 L206.70 831.51 L207.73 834.76 L208.76 838.00 L209.79 841.25 L210.82 844.52 L211.84 847.84 L212.87 851.22 L213.90 854.68 L214.93 858.22 L215.96 861.81 L216.99 865.40 L218.02 868.96 L219.05 872.44 L220.08 875.82 L221.11 879.15 L222.13 882.46 L223.16 885.72 L224.19 888.95 L225.22 892.11 L226.25 895.22 L227.28 898.25 L228.31 901.20 L229.34 904.09 L230.37 906.92 L230.93 908.45" fill="none" stroke="#aaaaaa" stroke-width="0.8"/>
<path d="M173.77 731.80 L174.80 735.08 L175.83 738.41 L176.86 741.79 L177.89 745.20 L178.92 748.65 L179.94 752.12 L180.97 755.61 L182.00 759.11 L183.03 762.62 L184.06 766.13 L185.09 769.62 L186.12 773.11 L187.15 776.61 L188.18 780.13 L189.21 783.66 L190.24 787.20 L191.26 790.74 L192.29 794.29 L193.32 797.84 L194.35 801.39 L195.38 804.93 L196.41 808.47 L197.44 811.99 L198.47 815.50 L199.50 819.00 L200.53 822.48 L201.55 825.93 L202.58 829.37 L203.61 832.77 L204.64 836.14 L205.67 839.45 L206.70 842.72 L207.73 845.97 L208.76 849.21 L209.79 852.46 L210.82 855.74 L211.84 859.06 L212.87 862.43 L213.90 865.90 L214.93 869.44 L215.96 873.03 L216.99 876.62 L218.02 880.17 L219.05 883.66 L220.08 887.04 L221.11 890.37 L222.13 893.67 L223.16 896.94 L224.19 900.16 L225.22 903.33 L226.25 906.43 L226.94 908.45" fill="none" stroke="#aaaaaa" stroke-width="0.8"/>
<path d="M176.50 724.00V740.00" stroke="#bcbcbc" stroke-width="1"/>
<path d="M177.50 735.00V770.00" stroke="#bcbcbc" stroke-width="1"/>
<path d="M180.50 750.00V790.00" stroke="#bcbcbc" stroke-width="1"/>
<path d="M181.50 740.00V760.00" stroke="#bcbcbc" stroke-width="1"/>
<path d="M186.50 752.00V775.00" stroke="#bcbcbc" stroke-width="1"/>
<path d="M189.50 765.00V908.00" stroke="#bcbcbc" stroke-width="1"/>
<path d="M190.50 765.00V800.00" stroke="#bcbcbc" stroke-width="1"/>
<path d="M210.50 777.00V908.00" stroke="#bcbcbc" stroke-width="1"/>
<path d="M176.00 735.40 L177.03 738.79 L178.06 742.21 L179.09 745.66 L180.12 749.13 L181.14 752.62 L182.17 756.13 L183.20 759.64 L184.23 763.14 L185.26 766.64 L186.29 770.13 L187.32 773.63 L188.35 777.15 L189.38 780.68 L190.41 784.22 L191.44 787.77 L192.46 791.31 L193.49 794.86 L194.52 798.41 L195.55 801.95 L196.58 805.49 L197.61 809.01 L198.64 812.52 L199.67 816.01 L200.70 819.49 L201.73 822.94 L202.75 826.37 L203.78 829.77 L204.81 833.13 L205.84 836.43 L206.87 839.70 L207.90 842.94 L208.93 846.19 L209.96 849.44 L210.99 852.72 L212.02 856.05 L213.04 859.44 L214.07 862.91 L215.10 866.47 L216.13 870.06 L217.16 873.64 L218.19 877.19 L219.22 880.66 L220.25 884.03 L221.28 887.35 L222.31 890.65 L223.33 893.91 L224.36 897.12 L225.39 900.28 L226.42 903.37 L227.45 906.39 L228.17 908.45" fill="none" stroke="#1155d4" stroke-width="1.0"/>
<path d="M174.80 729.28 L175.83 732.61 L176.86 735.99 L177.89 739.40 L178.92 742.85 L179.94 746.32 L180.97 749.81 L182.00 753.31 L183.03 756.82 L184.06 760.33 L185.09 763.82 L186.12 767.31 L187.15 770.82 L188.18 774.33 L189.21 777.86 L190.24 781.40 L191.26 784.94 L192.29 788.49 L193.32 792.04 L194.35 795.59 L195.38 799.13 L196.41 802.67 L197.44 806.19 L198.47 809.70 L199.50 813.20 L200.53 816.68 L201.55 820.14 L202.58 823.57 L203.61 826.97 L204.64 830.34 L205.67 833.65 L206.70 836.92 L207.73 840.17 L208.76 843.41 L209.79 846.66 L210.82 849.94 L211.84 853.26 L212.87 856.63 L213.90 860.10 L214.93 863.64 L215.96 867.23 L216.99 870.82 L218.02 874.37 L219.05 877.86 L220.08 881.24 L221.11 884.57 L222.13 887.87 L223.16 891.14 L224.19 894.36 L225.22 897.53 L226.25 900.63 L227.28 903.66 L228.31 906.62 L228.96 908.45" fill="none" stroke="#000" stroke-width="1.5"/>
<path d="M174.85 741.25 L179.15 741.25 L177.00 744.75Z" fill="none" stroke="#1155d4" stroke-width="1.0" stroke-linejoin="miter"/>
<path d="M178.55 757.65 L182.85 757.65 L180.70 761.15Z" fill="none" stroke="#1155d4" stroke-width="1.0" stroke-linejoin="miter"/>
<path d="M188.65 772.55 L192.95 772.55 L190.80 776.05Z" fill="none" stroke="#1155d4" stroke-width="1.0" stroke-linejoin="miter"/>
<path d="M176.40 729.30 L177.06 730.89 L178.78 731.03 L177.47 732.15 L177.87 733.82 L176.40 732.92 L174.93 733.82 L175.33 732.15 L174.02 731.03 L175.74 730.89Z" fill="none" stroke="#000" stroke-width="0.95" stroke-linejoin="miter"/>
<path d="M181.70 746.40 L182.36 747.99 L184.08 748.13 L182.77 749.25 L183.17 750.92 L181.70 750.02 L180.23 750.92 L180.63 749.25 L179.32 748.13 L181.04 747.99Z" fill="none" stroke="#000" stroke-width="0.95" stroke-linejoin="miter"/>
<path d="M186.00 759.20 L186.66 760.79 L188.38 760.93 L187.07 762.05 L187.47 763.72 L186.00 762.82 L184.53 763.72 L184.93 762.05 L183.62 760.93 L185.34 760.79Z" fill="none" stroke="#000" stroke-width="0.95" stroke-linejoin="miter"/>
<path d="M189.50 775.10 L190.16 776.69 L191.88 776.83 L190.57 777.95 L190.97 779.62 L189.50 778.72 L188.03 779.62 L188.43 777.95 L187.12 776.83 L188.84 776.69Z" fill="none" stroke="#000" stroke-width="0.95" stroke-linejoin="miter"/>
<path d="M210.10 789.90 L210.76 791.49 L212.48 791.63 L211.17 792.75 L211.57 794.42 L210.10 793.52 L208.63 794.42 L209.03 792.75 L207.72 791.63 L209.44 791.49Z" fill="none" stroke="#000" stroke-width="0.95" stroke-linejoin="miter"/>
</g>
<path d="M185.10 670.80h17.4" stroke="#000" stroke-width="1.3"/>
<path d="M193.80 667.80 L194.54 669.78 L196.65 669.87 L195.00 671.19 L195.56 673.23 L193.80 672.06 L192.04 673.23 L192.60 671.19 L190.95 669.87 L193.06 669.78Z" fill="#000" stroke="#000" stroke-width="0.6" stroke-linejoin="miter"/>
<text transform="scale(0.915 1)" x="225.90" y="674.10" font-size="8" fill="#111" stroke="#111">15 craters, N(1)=1.02x10<tspan font-size="4.9" dy="-4.0">-3</tspan><tspan dy="4.0"> km</tspan><tspan font-size="4.9" dy="-4.0">-2</tspan></text>
<path d="M185.10 683.55h17.4" stroke="#1155d4" stroke-width="1.3"/>
<path d="M191.60 681.45 L196.00 681.45 L193.80 685.45Z" fill="#1155d4" stroke="#1155d4" stroke-width="0.6" stroke-linejoin="miter"/>
<text transform="scale(0.915 1)" x="225.90" y="686.85" font-size="8" fill="#111" stroke="#111">4 craters, N(1)=9.23x10<tspan font-size="4.9" dy="-4.0">-4</tspan><tspan dy="4.0"> km</tspan><tspan font-size="4.9" dy="-4.0">-2</tspan></text>
<path d="M73.70 879.60 L74.36 881.19 L76.08 881.33 L74.77 882.45 L75.17 884.12 L73.70 883.23 L72.23 884.12 L72.63 882.45 L71.32 881.33 L73.04 881.19Z" fill="none" stroke="#000" stroke-width="0.95" stroke-linejoin="miter"/>
<text x="80.70" y="884.90" font-size="7.3" fill="#111" stroke="#111">Impact Crater, area=5.51x10<tspan font-size="5" dy="-3.6">1</tspan><tspan dy="3.6"> km</tspan><tspan font-size="5" dy="-3.6">2</tspan></text>
<path d="M71.50 893.00 L76.10 893.00 L73.80 896.70Z" fill="none" stroke="#1155d4" stroke-width="1.1" stroke-linejoin="miter"/>
<text x="80.70" y="897.65" font-size="7.3" fill="#111" stroke="#111">Landslide LD6, area=2.54x10<tspan font-size="5" dy="-3.6">1</tspan><tspan dy="3.6"> km</tspan><tspan font-size="5" dy="-3.6">2</tspan></text>
<path d="M78.88 778.70 L79.15 778.70 L79.42 778.69 L79.69 778.67 L79.96 778.61 L80.23 778.52 L80.49 778.37 L80.76 778.16 L81.03 777.89 L81.30 777.56 L81.57 777.15 L81.84 776.68 L82.11 776.15 L82.38 775.56 L82.65 774.92 L82.92 774.25 L83.19 773.54 L83.46 772.81 L83.73 772.06 L84.00 771.31 L84.27 770.57 L84.54 769.83 L84.81 769.12 L85.08 768.43 L85.35 767.77 L85.62 767.15 L85.89 766.56 L86.16 766.03 L86.43 765.54 L86.70 765.10 L86.97 764.71 L87.24 764.37 L87.51 764.08 L87.78 763.85 L88.05 763.67 L88.32 763.53 L88.59 763.44 L88.86 763.40 L89.13 763.41 L89.40 763.45 L89.67 763.54 L89.94 763.66 L90.21 763.81 L90.48 764.00 L90.75 764.22 L91.02 764.46 L91.29 764.72 L91.56 765.01 L91.83 765.31 L92.10 765.63 L92.37 765.96 L92.64 766.31 L92.91 766.66 L93.18 767.02 L93.45 767.38 L93.72 767.75 L93.99 768.12 L94.26 768.49 L94.53 768.86 L94.80 769.23 L95.07 769.60 L95.34 769.96 L95.61 770.31 L95.88 770.66 L96.15 771.00 L96.42 771.33 L96.69 771.66 L96.96 771.98 L97.23 772.29 L97.50 772.59 L97.77 772.88 L98.04 773.16 L98.31 773.43 L98.58 773.70 L98.85 773.95 L99.12 774.19 L99.39 774.43 L99.66 774.65 L99.93 774.87 L100.20 775.07 L100.47 775.27 L100.74 775.46 L101.01 775.64 L101.28 775.81 L101.55 775.98 L101.82 776.13 L102.09 776.28 L102.36 776.42 L102.63 776.56 L102.90 776.68 L103.17 776.80 L103.44 776.92 L103.71 777.03 L103.98 777.13 L104.25 777.22 L104.52 777.32 L104.79 777.40 L105.06 777.48 L105.33 777.56 L105.60 777.63 L105.87 777.70 L106.14 777.77 L106.41 777.83 L106.68 777.88 L106.95 777.94 L107.22 777.99 L107.49 778.03 L107.76 778.08 L108.03 778.12 L108.30 778.16 L108.57 778.19 L108.84 778.23 L109.11 778.26 L109.38 778.29 L109.65 778.32 L109.92 778.35 L110.19 778.37 L110.46 778.39 L110.73 778.41 L111.00 778.43 L111.27 778.45 L111.54 778.47 L111.81 778.49 L112.08 778.50 L112.35 778.52 L112.62 778.53 L112.89 778.54 L113.16 778.55 L113.43 778.56 L113.70 778.57 L113.97 778.58 L114.24 778.59 L114.51 778.60 L114.78 778.61 L115.05 778.61 L115.32 778.62 L115.59 778.63 L115.86 778.63 L116.13 778.64 L116.40 778.64 L116.40 778.70 L78.88 778.70Z" fill="#e4e4e4" stroke="none"/>
<path d="M86.16 778.70 L86.16 766.03 L86.43 765.54 L86.70 765.10 L86.97 764.71 L87.24 764.37 L87.51 764.08 L87.78 763.85 L88.05 763.67 L88.32 763.53 L88.59 763.44 L88.86 763.40 L89.13 763.41 L89.40 763.45 L89.67 763.54 L89.94 763.66 L90.21 763.81 L90.48 764.00 L90.75 764.22 L91.02 764.46 L91.29 764.72 L91.56 765.01 L91.83 765.31 L92.10 765.63 L92.37 765.96 L92.64 766.31 L92.91 766.66 L93.18 767.02 L93.45 767.38 L93.72 767.75 L93.99 768.12 L94.26 768.49 L94.53 768.86 L94.80 769.23 L95.07 769.60 L95.34 769.96 L95.61 770.31 L95.88 770.66 L96.15 771.00 L96.42 771.33 L96.69 771.66 L96.96 771.98 L96.96 778.70Z" fill="#b4b4b4" stroke="none"/>
<path d="M86.02 778.70V766.31" stroke="#1155d4" stroke-width="1.0"/>
<path d="M97.00 778.70V772.02" stroke="#1155d4" stroke-width="1.0"/>
<path d="M90.68 778.70V764.16" stroke="#1155d4" stroke-width="1.5"/>
<path d="M78.88 778.70 L79.15 778.70 L79.42 778.69 L79.69 778.67 L79.96 778.61 L80.23 778.52 L80.49 778.37 L80.76 778.16 L81.03 777.89 L81.30 777.56 L81.57 777.15 L81.84 776.68 L82.11 776.15 L82.38 775.56 L82.65 774.92 L82.92 774.25 L83.19 773.54 L83.46 772.81 L83.73 772.06 L84.00 771.31 L84.27 770.57 L84.54 769.83 L84.81 769.12 L85.08 768.43 L85.35 767.77 L85.62 767.15 L85.89 766.56 L86.16 766.03 L86.43 765.54 L86.70 765.10 L86.97 764.71 L87.24 764.37 L87.51 764.08 L87.78 763.85 L88.05 763.67 L88.32 763.53 L88.59 763.44 L88.86 763.40 L89.13 763.41 L89.40 763.45 L89.67 763.54 L89.94 763.66 L90.21 763.81 L90.48 764.00 L90.75 764.22 L91.02 764.46 L91.29 764.72 L91.56 765.01 L91.83 765.31 L92.10 765.63 L92.37 765.96 L92.64 766.31 L92.91 766.66 L93.18 767.02 L93.45 767.38 L93.72 767.75 L93.99 768.12 L94.26 768.49 L94.53 768.86 L94.80 769.23 L95.07 769.60 L95.34 769.96 L95.61 770.31 L95.88 770.66 L96.15 771.00 L96.42 771.33 L96.69 771.66 L96.96 771.98 L97.23 772.29 L97.50 772.59 L97.77 772.88 L98.04 773.16 L98.31 773.43 L98.58 773.70 L98.85 773.95 L99.12 774.19 L99.39 774.43 L99.66 774.65 L99.93 774.87 L100.20 775.07 L100.47 775.27 L100.74 775.46 L101.01 775.64 L101.28 775.81 L101.55 775.98 L101.82 776.13 L102.09 776.28 L102.36 776.42 L102.63 776.56 L102.90 776.68 L103.17 776.80 L103.44 776.92 L103.71 777.03 L103.98 777.13 L104.25 777.22 L104.52 777.32 L104.79 777.40 L105.06 777.48 L105.33 777.56 L105.60 777.63 L105.87 777.70 L106.14 777.77 L106.41 777.83 L106.68 777.88 L106.95 777.94 L107.22 777.99 L107.49 778.03 L107.76 778.08 L108.03 778.12 L108.30 778.16 L108.57 778.19 L108.84 778.23 L109.11 778.26 L109.38 778.29 L109.65 778.32 L109.92 778.35 L110.19 778.37 L110.46 778.39 L110.73 778.41 L111.00 778.43 L111.27 778.45 L111.54 778.47 L111.81 778.49 L112.08 778.50 L112.35 778.52 L112.62 778.53 L112.89 778.54 L113.16 778.55 L113.43 778.56 L113.70 778.57 L113.97 778.58 L114.24 778.59 L114.51 778.60 L114.78 778.61 L115.05 778.61 L115.32 778.62 L115.59 778.63 L115.86 778.63 L116.13 778.64 L116.40 778.64" fill="none" stroke="#1155d4" stroke-width="1.1"/>
<path d="M78.80 778.70H117.60" stroke="#1155d4" stroke-width="1.2"/>
<text x="79.20" y="789.10" font-size="6.8" text-anchor="middle" fill="#1155d4" stroke="#1155d4">0</text>
<text x="113.02" y="789.10" font-size="6.8" fill="#1155d4" stroke="#1155d4">50 Ma</text>
<text x="103.37" y="768.60" font-size="13.5" fill="#1155d4" stroke="#1155d4">15.8</text>
<text x="129.58" y="760.85" font-size="8.6" fill="#1155d4" stroke="#1155d4">+8.4</text>
<text x="132.02" y="772.80" font-size="8.6" fill="#1155d4" stroke="#1155d4">-6.2</text>
<text x="148.19" y="768.60" font-size="13.5" fill="#1155d4" stroke="#1155d4">Ma</text>
<path d="M197.38 737.90 L197.65 737.90 L197.92 737.90 L198.19 737.90 L198.46 737.90 L198.73 737.90 L198.99 737.90 L199.26 737.90 L199.53 737.90 L199.80 737.90 L200.07 737.90 L200.34 737.90 L200.61 737.90 L200.88 737.90 L201.15 737.90 L201.42 737.90 L201.69 737.90 L201.96 737.89 L202.23 737.89 L202.50 737.88 L202.77 737.87 L203.04 737.85 L203.31 737.83 L203.58 737.79 L203.85 737.74 L204.12 737.68 L204.39 737.59 L204.66 737.48 L204.93 737.34 L205.20 737.17 L205.47 736.96 L205.74 736.72 L206.01 736.43 L206.28 736.10 L206.55 735.72 L206.82 735.30 L207.09 734.84 L207.36 734.33 L207.63 733.79 L207.90 733.21 L208.17 732.60 L208.44 731.97 L208.71 731.33 L208.98 730.67 L209.25 730.02 L209.52 729.37 L209.79 728.73 L210.06 728.12 L210.33 727.54 L210.60 727.00 L210.87 726.49 L211.14 726.04 L211.41 725.64 L211.68 725.30 L211.95 725.02 L212.22 724.79 L212.49 724.63 L212.76 724.54 L213.03 724.50 L213.30 724.52 L213.57 724.61 L213.84 724.74 L214.11 724.93 L214.38 725.17 L214.65 725.44 L214.92 725.76 L215.19 726.11 L215.46 726.49 L215.73 726.90 L216.00 727.32 L216.27 727.76 L216.54 728.22 L216.81 728.68 L217.08 729.14 L217.35 729.60 L217.62 730.06 L217.89 730.52 L218.16 730.97 L218.43 731.40 L218.70 731.83 L218.97 732.24 L219.24 732.63 L219.51 733.01 L219.78 733.37 L220.05 733.71 L220.32 734.04 L220.59 734.35 L220.86 734.64 L221.13 734.91 L221.40 735.17 L221.67 735.41 L221.94 735.63 L222.21 735.83 L222.48 736.02 L222.75 736.20 L223.02 736.36 L223.29 736.51 L223.56 736.65 L223.83 736.77 L224.10 736.89 L224.37 736.99 L224.64 737.08 L224.91 737.17 L225.18 737.25 L225.45 737.32 L225.72 737.38 L225.99 737.44 L226.26 737.49 L226.53 737.54 L226.80 737.58 L227.07 737.61 L227.34 737.65 L227.61 737.68 L227.88 737.70 L228.15 737.73 L228.42 737.75 L228.69 737.77 L228.96 737.78 L229.23 737.80 L229.50 737.81 L229.77 737.82 L230.04 737.83 L230.31 737.84 L230.58 737.85 L230.85 737.85 L231.12 737.86 L231.39 737.87 L231.66 737.87 L231.93 737.87 L232.20 737.88 L232.47 737.88 L232.74 737.88 L233.01 737.89 L233.28 737.89 L233.55 737.89 L233.82 737.89 L234.09 737.89 L234.36 737.89 L234.63 737.89 L234.90 737.89 L234.90 737.90 L197.38 737.90Z" fill="#e4e4e4" stroke="none"/>
<path d="M210.06 737.90 L210.06 728.12 L210.33 727.54 L210.60 727.00 L210.87 726.49 L211.14 726.04 L211.41 725.64 L211.68 725.30 L211.95 725.02 L212.22 724.79 L212.49 724.63 L212.76 724.54 L213.03 724.50 L213.30 724.52 L213.57 724.61 L213.84 724.74 L214.11 724.93 L214.38 725.17 L214.65 725.44 L214.92 725.76 L215.19 726.11 L215.46 726.49 L215.73 726.90 L216.00 727.32 L216.27 727.76 L216.54 728.22 L216.81 728.68 L217.08 729.14 L217.35 729.60 L217.62 730.06 L217.89 730.52 L218.16 730.97 L218.16 737.90Z" fill="#b4b4b4" stroke="none"/>
<path d="M209.99 737.90V728.29" stroke="#000" stroke-width="1.0"/>
<path d="M218.26 737.90V731.13" stroke="#000" stroke-width="1.0"/>
<path d="M213.75 737.90V724.69" stroke="#000" stroke-width="1.5"/>
<path d="M197.38 737.90 L197.65 737.90 L197.92 737.90 L198.19 737.90 L198.46 737.90 L198.73 737.90 L198.99 737.90 L199.26 737.90 L199.53 737.90 L199.80 737.90 L200.07 737.90 L200.34 737.90 L200.61 737.90 L200.88 737.90 L201.15 737.90 L201.42 737.90 L201.69 737.90 L201.96 737.89 L202.23 737.89 L202.50 737.88 L202.77 737.87 L203.04 737.85 L203.31 737.83 L203.58 737.79 L203.85 737.74 L204.12 737.68 L204.39 737.59 L204.66 737.48 L204.93 737.34 L205.20 737.17 L205.47 736.96 L205.74 736.72 L206.01 736.43 L206.28 736.10 L206.55 735.72 L206.82 735.30 L207.09 734.84 L207.36 734.33 L207.63 733.79 L207.90 733.21 L208.17 732.60 L208.44 731.97 L208.71 731.33 L208.98 730.67 L209.25 730.02 L209.52 729.37 L209.79 728.73 L210.06 728.12 L210.33 727.54 L210.60 727.00 L210.87 726.49 L211.14 726.04 L211.41 725.64 L211.68 725.30 L211.95 725.02 L212.22 724.79 L212.49 724.63 L212.76 724.54 L213.03 724.50 L213.30 724.52 L213.57 724.61 L213.84 724.74 L214.11 724.93 L214.38 725.17 L214.65 725.44 L214.92 725.76 L215.19 726.11 L215.46 726.49 L215.73 726.90 L216.00 727.32 L216.27 727.76 L216.54 728.22 L216.81 728.68 L217.08 729.14 L217.35 729.60 L217.62 730.06 L217.89 730.52 L218.16 730.97 L218.43 731.40 L218.70 731.83 L218.97 732.24 L219.24 732.63 L219.51 733.01 L219.78 733.37 L220.05 733.71 L220.32 734.04 L220.59 734.35 L220.86 734.64 L221.13 734.91 L221.40 735.17 L221.67 735.41 L221.94 735.63 L222.21 735.83 L222.48 736.02 L222.75 736.20 L223.02 736.36 L223.29 736.51 L223.56 736.65 L223.83 736.77 L224.10 736.89 L224.37 736.99 L224.64 737.08 L224.91 737.17 L225.18 737.25 L225.45 737.32 L225.72 737.38 L225.99 737.44 L226.26 737.49 L226.53 737.54 L226.80 737.58 L227.07 737.61 L227.34 737.65 L227.61 737.68 L227.88 737.70 L228.15 737.73 L228.42 737.75 L228.69 737.77 L228.96 737.78 L229.23 737.80 L229.50 737.81 L229.77 737.82 L230.04 737.83 L230.31 737.84 L230.58 737.85 L230.85 737.85 L231.12 737.86 L231.39 737.87 L231.66 737.87 L231.93 737.87 L232.20 737.88 L232.47 737.88 L232.74 737.88 L233.01 737.89 L233.28 737.89 L233.55 737.89 L233.82 737.89 L234.09 737.89 L234.36 737.89 L234.63 737.89 L234.90 737.89" fill="none" stroke="#000" stroke-width="1.1"/>
<path d="M197.30 737.90H236.10" stroke="#000" stroke-width="1.2"/>
<text x="197.70" y="748.30" font-size="6.8" text-anchor="middle" fill="#000" stroke="#000">0</text>
<text x="216.50" y="748.30" font-size="6.8" text-anchor="middle" fill="#000" stroke="#000">20</text>
<text x="231.52" y="748.30" font-size="6.8" fill="#000" stroke="#000">40 Ma</text>
<text x="225.27" y="728.60" font-size="13.5" fill="#000" stroke="#000">17.5</text>
<text x="251.98" y="720.85" font-size="8.6" fill="#000" stroke="#000">+4.8</text>
<text x="253.92" y="732.80" font-size="8.6" fill="#000" stroke="#000">-4.0</text>
<text x="269.69" y="728.60" font-size="13.5" fill="#000" stroke="#000">Ma</text>
<rect x="58.50" y="651.20" width="257.25" height="257.25" fill="none" stroke="#000" stroke-width="1.1"/>
<path d="M73.99 908.45v-2.5M73.99 651.20v2.5M58.50 892.96h2.5M315.75 892.96h-2.5M83.05 908.45v-2.5M83.05 651.20v2.5M58.50 883.90h2.5M315.75 883.90h-2.5M89.48 908.45v-2.5M89.48 651.20v2.5M58.50 877.47h2.5M315.75 877.47h-2.5M94.46 908.45v-2.5M94.46 651.20v2.5M58.50 872.49h2.5M315.75 872.49h-2.5M98.54 908.45v-2.5M98.54 651.20v2.5M58.50 868.41h2.5M315.75 868.41h-2.5M101.98 908.45v-2.5M101.98 651.20v2.5M58.50 864.97h2.5M315.75 864.97h-2.5M104.96 908.45v-2.5M104.96 651.20v2.5M58.50 861.99h2.5M315.75 861.99h-2.5M107.60 908.45v-2.5M107.60 651.20v2.5M58.50 859.35h2.5M315.75 859.35h-2.5M109.95 908.45v-5M109.95 651.20v5M58.50 857.00h5M315.75 857.00h-5M125.44 908.45v-2.5M125.44 651.20v2.5M58.50 841.51h2.5M315.75 841.51h-2.5M134.50 908.45v-2.5M134.50 651.20v2.5M58.50 832.45h2.5M315.75 832.45h-2.5M140.93 908.45v-2.5M140.93 651.20v2.5M58.50 826.02h2.5M315.75 826.02h-2.5M145.91 908.45v-2.5M145.91 651.20v2.5M58.50 821.04h2.5M315.75 821.04h-2.5M149.99 908.45v-2.5M149.99 651.20v2.5M58.50 816.96h2.5M315.75 816.96h-2.5M153.43 908.45v-2.5M153.43 651.20v2.5M58.50 813.52h2.5M315.75 813.52h-2.5M156.41 908.45v-2.5M156.41 651.20v2.5M58.50 810.54h2.5M315.75 810.54h-2.5M159.05 908.45v-2.5M159.05 651.20v2.5M58.50 807.90h2.5M315.75 807.90h-2.5M161.40 908.45v-5M161.40 651.20v5M58.50 805.55h5M315.75 805.55h-5M176.89 908.45v-2.5M176.89 651.20v2.5M58.50 790.06h2.5M315.75 790.06h-2.5M185.95 908.45v-2.5M185.95 651.20v2.5M58.50 781.00h2.5M315.75 781.00h-2.5M192.38 908.45v-2.5M192.38 651.20v2.5M58.50 774.57h2.5M315.75 774.57h-2.5M197.36 908.45v-2.5M197.36 651.20v2.5M58.50 769.59h2.5M315.75 769.59h-2.5M201.44 908.45v-2.5M201.44 651.20v2.5M58.50 765.51h2.5M315.75 765.51h-2.5M204.88 908.45v-2.5M204.88 651.20v2.5M58.50 762.07h2.5M315.75 762.07h-2.5M207.86 908.45v-2.5M207.86 651.20v2.5M58.50 759.09h2.5M315.75 759.09h-2.5M210.50 908.45v-2.5M210.50 651.20v2.5M58.50 756.45h2.5M315.75 756.45h-2.5M212.85 908.45v-5M212.85 651.20v5M58.50 754.10h5M315.75 754.10h-5M228.34 908.45v-2.5M228.34 651.20v2.5M58.50 738.61h2.5M315.75 738.61h-2.5M237.40 908.45v-2.5M237.40 651.20v2.5M58.50 729.55h2.5M315.75 729.55h-2.5M243.83 908.45v-2.5M243.83 651.20v2.5M58.50 723.12h2.5M315.75 723.12h-2.5M248.81 908.45v-2.5M248.81 651.20v2.5M58.50 718.14h2.5M315.75 718.14h-2.5M252.89 908.45v-2.5M252.89 651.20v2.5M58.50 714.06h2.5M315.75 714.06h-2.5M256.33 908.45v-2.5M256.33 651.20v2.5M58.50 710.62h2.5M315.75 710.62h-2.5M259.31 908.45v-2.5M259.31 651.20v2.5M58.50 707.64h2.5M315.75 707.64h-2.5M261.95 908.45v-2.5M261.95 651.20v2.5M58.50 705.00h2.5M315.75 705.00h-2.5M264.30 908.45v-5M264.30 651.20v5M58.50 702.65h5M315.75 702.65h-5M279.79 908.45v-2.5M279.79 651.20v2.5M58.50 687.16h2.5M315.75 687.16h-2.5M288.85 908.45v-2.5M288.85 651.20v2.5M58.50 678.10h2.5M315.75 678.10h-2.5M295.28 908.45v-2.5M295.28 651.20v2.5M58.50 671.67h2.5M315.75 671.67h-2.5M300.26 908.45v-2.5M300.26 651.20v2.5M58.50 666.69h2.5M315.75 666.69h-2.5M304.34 908.45v-2.5M304.34 651.20v2.5M58.50 662.61h2.5M315.75 662.61h-2.5M307.78 908.45v-2.5M307.78 651.20v2.5M58.50 659.17h2.5M315.75 659.17h-2.5M310.76 908.45v-2.5M310.76 651.20v2.5M58.50 656.19h2.5M315.75 656.19h-2.5M313.40 908.45v-2.5M313.40 651.20v2.5M58.50 653.55h2.5M315.75 653.55h-2.5" stroke="#000" stroke-width="1" fill="none"/>
<text x="54.30" y="659.80" font-size="10.4" text-anchor="end" fill="#111" stroke="#111">10<tspan font-size="6.8" dy="-5.4">1</tspan></text>
<text x="54.30" y="707.65" font-size="10.4" text-anchor="end" fill="#111" stroke="#111">10<tspan font-size="6.8" dy="-5.4">0</tspan></text>
<text x="54.30" y="759.10" font-size="10.4" text-anchor="end" fill="#111" stroke="#111">10<tspan font-size="6.8" dy="-5.4">-1</tspan></text>
<text x="54.30" y="810.55" font-size="10.4" text-anchor="end" fill="#111" stroke="#111">10<tspan font-size="6.8" dy="-5.4">-2</tspan></text>
<text x="54.30" y="862.00" font-size="10.4" text-anchor="end" fill="#111" stroke="#111">10<tspan font-size="6.8" dy="-5.4">-3</tspan></text>
<text x="54.30" y="908.55" font-size="10.4" text-anchor="end" fill="#111" stroke="#111">10<tspan font-size="6.8" dy="-5.4">-4</tspan></text>
<text x="58.50" y="927.05" font-size="10.4" text-anchor="middle" fill="#111" stroke="#111">1 m</text>
<text x="109.95" y="927.05" font-size="10.4" text-anchor="middle" fill="#111" stroke="#111">10 m</text>
<text x="161.40" y="927.05" font-size="10.4" text-anchor="middle" fill="#111" stroke="#111">100 m</text>
<text x="212.85" y="927.05" font-size="10.4" text-anchor="middle" fill="#111" stroke="#111">1 km</text>
<text x="264.30" y="927.05" font-size="10.4" text-anchor="middle" fill="#111" stroke="#111">10 km</text>
<text x="315.75" y="927.05" font-size="10.4" text-anchor="middle" fill="#111" stroke="#111">100 km</text>
<text x="187.12" y="942.95" font-size="10.6" text-anchor="middle" fill="#111" stroke="#111">Diameter</text>
<text transform="translate(25.60,779.33) rotate(-90)" font-size="10.55" text-anchor="middle" fill="#111" stroke="#111">Cumulative crater density, km<tspan font-size="7" dy="-4.5">-2</tspan></text>
<text x="16.2" y="662.9" font-size="18" font-weight="bold" text-anchor="end" fill="#000" stroke="#000">e)</text>
<clipPath id="cpf"><rect x="411.60" y="651.20" width="257.25" height="257.25"/></clipPath>
<g clip-path="url(#cpf)">
<path d="M503.93 651.20 L504.96 654.54 L505.99 657.88 L507.01 661.23 L508.04 664.58 L509.07 667.93 L510.10 671.27 L511.13 674.62 L512.16 677.95 L513.19 681.27 L514.22 684.59 L515.25 687.88 L516.28 691.17 L517.30 694.42 L518.33 697.64 L519.36 700.84 L520.39 704.02 L521.42 707.18 L522.45 710.35" fill="none" stroke="#9c9c9c" stroke-width="1.1"/>
<path d="M521.97 693.98 L523.00 697.15 L524.03 700.33 L525.06 703.52 L526.09 706.74 L527.12 710.00 L528.14 713.29 L529.17 716.63 L530.20 720.02 L531.23 723.44 L532.26 726.89 L533.29 730.37 L534.32 733.86 L535.35 737.37 L536.38 740.87 L537.41 744.38 L538.44 747.87 L539.46 751.36 L540.49 754.87 L541.52 758.39 L542.55 761.92 L543.58 765.46 L544.61 769.01 L545.64 772.56 L546.67 776.10 L547.70 779.65 L548.73 783.19 L549.75 786.73 L550.78 790.25 L551.81 793.76 L552.84 797.25 L553.87 800.72 L554.90 804.17 L555.93 807.60 L556.96 811.00 L557.99 814.35 L559.02 817.65 L560.04 820.92 L561.07 824.16 L562.10 827.40 L563.13 830.66 L564.16 833.94 L565.19 837.27 L566.22 840.67 L567.25 844.15 L568.28 847.71 L569.31 851.30 L570.33 854.89 L571.36 858.43 L572.39 861.89 L573.42 865.25 L574.45 868.58 L575.48 871.87 L576.51 875.13 L577.54 878.34 L578.57 881.49 L579.60 884.58 L580.62 887.59 L581.65 890.53 L582.68 893.40 L583.71 896.22 L584.74 898.98 L585.77 901.69 L586.80 904.32 L587.83 906.88 L588.48 908.45" fill="none" stroke="#aaaaaa" stroke-width="0.8"/>
<path d="M521.97 728.20 L523.00 731.37 L524.03 734.55 L525.06 737.74 L526.09 740.96 L527.12 744.22 L528.14 747.51 L529.17 750.85 L530.20 754.24 L531.23 757.66 L532.26 761.11 L533.29 764.59 L534.32 768.08 L535.35 771.59 L536.38 775.09 L537.41 778.60 L538.44 782.09 L539.46 785.58 L540.49 789.09 L541.52 792.61 L542.55 796.14 L543.58 799.68 L544.61 803.23 L545.64 806.78 L546.67 810.32 L547.70 813.87 L548.73 817.41 L549.75 820.95 L550.78 824.47 L551.81 827.98 L552.84 831.47 L553.87 834.94 L554.90 838.39 L555.93 841.82 L556.96 845.22 L557.99 848.57 L559.02 851.87 L560.04 855.14 L561.07 858.38 L562.10 861.62 L563.13 864.88 L564.16 868.16 L565.19 871.49 L566.22 874.89 L567.25 878.37 L568.28 881.93 L569.31 885.52 L570.33 889.11 L571.36 892.65 L572.39 896.11 L573.42 899.47 L574.45 902.80 L575.48 906.09 L576.22 908.45" fill="none" stroke="#aaaaaa" stroke-width="0.8"/>
<path d="M504.69 651.20 L505.72 654.54 L506.75 657.89 L507.78 661.24 L508.81 664.59 L509.84 667.94 L510.87 671.28 L511.89 674.62 L512.92 677.94 L513.95 681.26 L514.98 684.56 L516.01 687.85 L517.04 691.11 L518.07 694.34 L519.10 697.54 L520.13 700.72 L521.16 703.89 L522.18 707.06 L523.21 710.23 L524.24 713.41 L525.27 716.61 L526.30 719.83 L527.33 723.09 L528.36 726.40 L529.39 729.75" fill="none" stroke="#9c9c9c" stroke-width="1.1"/>
<path d="M528.47 720.31 L529.50 723.66 L530.53 727.06 L531.56 730.49 L532.59 733.95 L533.62 737.44 L534.64 740.93 L535.67 744.44 L536.70 747.95 L537.73 751.45 L538.76 754.94 L539.79 758.44 L540.82 761.95 L541.85 765.47 L542.88 769.00 L543.91 772.55 L544.94 776.09 L545.96 779.64 L546.99 783.19 L548.02 786.74 L549.05 790.28 L550.08 793.81 L551.11 797.32 L552.14 800.83 L553.17 804.32 L554.20 807.78 L555.23 811.23 L556.25 814.64 L557.28 818.03 L558.31 821.37 L559.34 824.65 L560.37 827.91 L561.40 831.15 L562.43 834.40 L563.46 837.66 L564.49 840.96 L565.51 844.30 L566.54 847.73 L567.57 851.24 L568.60 854.81 L569.63 858.40 L570.66 861.98 L571.69 865.50 L572.72 868.93 L573.75 872.27 L574.78 875.59 L575.81 878.87 L576.83 882.12 L577.86 885.31 L578.89 888.44 L579.92 891.51 L580.95 894.49 L581.98 897.40 L583.01 900.26 L584.04 903.07 L585.07 905.81 L586.08 908.45" fill="none" stroke="#aaaaaa" stroke-width="0.8"/>
<path d="M528.47 733.90 L529.50 737.26 L530.53 740.66 L531.56 744.09 L532.59 747.55 L533.62 751.03 L534.64 754.53 L535.67 758.04 L536.70 761.54 L537.73 765.05 L538.76 768.54 L539.79 772.03 L540.82 775.54 L541.85 779.07 L542.88 782.60 L543.91 786.14 L544.94 789.69 L545.96 793.24 L546.99 796.79 L548.02 800.33 L549.05 803.87 L550.08 807.40 L551.11 810.92 L552.14 814.42 L553.17 817.91 L554.20 821.38 L555.23 824.82 L556.25 828.24 L557.28 831.63 L558.31 834.96 L559.34 838.25 L560.37 841.51 L561.40 844.75 L562.43 847.99 L563.46 851.26 L564.49 854.55 L565.51 857.90 L566.54 861.32 L567.57 864.83 L568.60 868.41 L569.63 872.00 L570.66 875.57 L571.69 879.10 L572.72 882.53 L573.75 885.87 L574.78 889.18 L575.81 892.47 L576.83 895.71 L577.86 898.90 L578.89 902.04 L579.92 905.10 L580.95 908.09 L581.08 908.45" fill="none" stroke="#aaaaaa" stroke-width="0.8"/>
<path d="M504.11 651.20 L505.14 654.54 L506.17 657.88 L507.20 661.23 L508.23 664.58 L509.26 667.93 L510.29 671.28 L511.31 674.62 L512.34 677.95 L513.37 681.27 L514.40 684.58 L515.43 687.88 L516.46 691.15 L517.49 694.40 L518.52 697.62 L519.55 700.81 L520.58 703.99 L521.60 707.15 L522.63 710.32 L523.66 713.49 L524.69 716.68 L525.72 719.89 L526.75 723.13 L527.78 726.41 L528.81 729.73" fill="none" stroke="#9c9c9c" stroke-width="1.1"/>
<path d="M528.47 721.84 L529.50 725.20 L530.53 728.59 L531.56 732.03 L532.59 735.49 L533.62 738.97 L534.64 742.47 L535.67 745.97 L536.70 749.48 L537.73 752.98 L538.76 756.48 L539.79 759.97 L540.82 763.48 L541.85 767.00 L542.88 770.54 L543.91 774.08 L544.94 777.63 L545.96 781.18 L546.99 784.73 L548.02 788.27 L549.05 791.81 L550.08 795.34 L551.11 798.86 L552.14 802.36 L553.17 805.85 L554.20 809.32 L555.23 812.76 L556.25 816.18 L557.28 819.56 L558.31 822.90 L559.34 826.19 L560.37 829.44 L561.40 832.69 L562.43 835.93 L563.46 839.19 L564.49 842.49 L565.51 845.84 L566.54 849.26 L567.57 852.77 L568.60 856.34 L569.63 859.94 L570.66 863.51 L571.69 867.03 L572.72 870.46 L573.75 873.81 L574.78 877.12 L575.81 880.41 L576.83 883.65 L577.86 886.84 L578.89 889.98 L579.92 893.04 L580.95 896.03 L581.98 898.94 L583.01 901.80 L584.04 904.60 L585.07 907.34 L585.49 908.45" fill="none" stroke="#aaaaaa" stroke-width="0.8"/>
<path d="M528.47 736.25 L529.50 739.61 L530.53 743.00 L531.56 746.44 L532.59 749.90 L533.62 753.38 L534.64 756.88 L535.67 760.38 L536.70 763.89 L537.73 767.39 L538.76 770.89 L539.79 774.38 L540.82 777.89 L541.85 781.41 L542.88 784.95 L543.91 788.49 L544.94 792.04 L545.96 795.59 L546.99 799.14 L548.02 802.68 L549.05 806.22 L550.08 809.75 L551.11 813.27 L552.14 816.77 L553.17 820.26 L554.20 823.73 L555.23 827.17 L556.25 830.59 L557.28 833.97 L558.31 837.31 L559.34 840.60 L560.37 843.85 L561.40 847.10 L562.43 850.34 L563.46 853.60 L564.49 856.90 L565.51 860.25 L566.54 863.67 L567.57 867.18 L568.60 870.75 L569.63 874.35 L570.66 877.92 L571.69 881.44 L572.72 884.87 L573.75 888.22 L574.78 891.53 L575.81 894.82 L576.83 898.06 L577.86 901.25 L578.89 904.39 L579.92 907.45 L580.27 908.45" fill="none" stroke="#aaaaaa" stroke-width="0.8"/>
<path d="M527.50 731.00V827.00" stroke="#bcbcbc" stroke-width="1"/>
<path d="M531.50 726.00V745.00" stroke="#bcbcbc" stroke-width="1"/>
<path d="M534.50 743.00V765.00" stroke="#bcbcbc" stroke-width="1"/>
<path d="M538.50 758.00V796.00" stroke="#bcbcbc" stroke-width="1"/>
<path d="M542.50 772.00V898.00" stroke="#bcbcbc" stroke-width="1"/>
<path d="M523.00 712.04 L524.03 715.22 L525.06 718.42 L526.09 721.64 L527.12 724.89 L528.14 728.18 L529.17 731.52 L530.20 734.91 L531.23 738.33 L532.26 741.78 L533.29 745.26 L534.32 748.75 L535.35 752.26 L536.38 755.77 L537.41 759.27 L538.44 762.77 L539.46 766.26 L540.49 769.76 L541.52 773.28 L542.55 776.81 L543.58 780.35 L544.61 783.90 L545.64 787.45 L546.67 791.00 L547.70 794.54 L548.73 798.08 L549.75 801.62 L550.78 805.14 L551.81 808.65 L552.84 812.14 L553.87 815.61 L554.90 819.07 L555.93 822.49 L556.96 825.89 L557.99 829.24 L559.02 832.54 L560.04 835.81 L561.07 839.05 L562.10 842.30 L563.13 845.55 L564.16 848.84 L565.19 852.17 L566.22 855.56 L567.25 859.05 L568.28 862.60 L569.31 866.19 L570.33 869.78 L571.36 873.32 L572.39 876.78 L573.42 880.14 L574.45 883.47 L575.48 886.77 L576.51 890.02 L577.54 893.23 L578.57 896.38 L579.60 899.47 L580.62 902.49 L581.65 905.42 L582.68 908.29 L582.74 908.45" fill="none" stroke="#1155d4" stroke-width="1.0"/>
<path d="M529.50 730.12 L530.53 733.51 L531.56 736.95 L532.59 740.41 L533.62 743.89 L534.64 747.39 L535.67 750.89 L536.70 754.40 L537.73 757.91 L538.76 761.40 L539.79 764.89 L540.82 768.40 L541.85 771.92 L542.88 775.46 L543.91 779.00 L544.94 782.55 L545.96 786.10 L546.99 789.65 L548.02 793.19 L549.05 796.73 L550.08 800.26 L551.11 803.78 L552.14 807.28 L553.17 810.77 L554.20 814.24 L555.23 817.68 L556.25 821.10 L557.28 824.49 L558.31 827.82 L559.34 831.11 L560.37 834.36 L561.40 837.61 L562.43 840.85 L563.46 844.11 L564.49 847.41 L565.51 850.76 L566.54 854.18 L567.57 857.69 L568.60 861.26 L569.63 864.86 L570.66 868.43 L571.69 871.95 L572.72 875.38 L573.75 878.73 L574.78 882.04 L575.81 885.33 L576.83 888.57 L577.86 891.76 L578.89 894.90 L579.92 897.96 L580.95 900.95 L581.98 903.86 L583.01 906.72 L583.64 908.45" fill="none" stroke="#1c8c1c" stroke-width="1.0"/>
<path d="M529.50 731.99 L530.53 735.39 L531.56 738.83 L532.59 742.29 L533.62 745.77 L534.64 749.27 L535.67 752.77 L536.70 756.28 L537.73 759.78 L538.76 763.27 L539.79 766.77 L540.82 770.28 L541.85 773.80 L542.88 777.34 L543.91 780.88 L544.94 784.43 L545.96 787.98 L546.99 791.52 L548.02 795.07 L549.05 798.61 L550.08 802.14 L551.11 805.66 L552.14 809.16 L553.17 812.65 L554.20 816.11 L555.23 819.56 L556.25 822.98 L557.28 826.36 L558.31 829.70 L559.34 832.99 L560.37 836.24 L561.40 839.49 L562.43 842.73 L563.46 845.99 L564.49 849.29 L565.51 852.64 L566.54 856.06 L567.57 859.57 L568.60 863.14 L569.63 866.74 L570.66 870.31 L571.69 873.83 L572.72 877.26 L573.75 880.60 L574.78 883.92 L575.81 887.21 L576.83 890.45 L577.86 893.64 L578.89 896.77 L579.92 899.84 L580.95 902.83 L581.98 905.74 L582.96 908.45" fill="none" stroke="#000" stroke-width="1.5"/>
<path d="M525.55 722.75 L529.85 722.75 L527.70 726.25Z" fill="none" stroke="#1155d4" stroke-width="1.0" stroke-linejoin="miter"/>
<path d="M527.85 728.45 L532.15 728.45 L530.00 731.95Z" fill="none" stroke="#1c8c1c" stroke-width="1.0" stroke-linejoin="miter"/>
<path d="M532.65 748.45 L536.95 748.45 L534.80 751.95Z" fill="none" stroke="#1c8c1c" stroke-width="1.0" stroke-linejoin="miter"/>
<path d="M536.65 764.45 L540.95 764.45 L538.80 767.95Z" fill="none" stroke="#1c8c1c" stroke-width="1.0" stroke-linejoin="miter"/>
<path d="M531.00 732.10 L531.66 733.69 L533.38 733.83 L532.07 734.95 L532.47 736.62 L531.00 735.72 L529.53 736.62 L529.93 734.95 L528.62 733.83 L530.34 733.69Z" fill="none" stroke="#000" stroke-width="0.95" stroke-linejoin="miter"/>
<path d="M534.60 750.30 L535.26 751.89 L536.98 752.03 L535.67 753.15 L536.07 754.82 L534.60 753.92 L533.13 754.82 L533.53 753.15 L532.22 752.03 L533.94 751.89Z" fill="none" stroke="#000" stroke-width="0.95" stroke-linejoin="miter"/>
<path d="M538.60 766.00 L539.26 767.59 L540.98 767.73 L539.67 768.85 L540.07 770.52 L538.60 769.62 L537.13 770.52 L537.53 768.85 L536.22 767.73 L537.94 767.59Z" fill="none" stroke="#000" stroke-width="0.95" stroke-linejoin="miter"/>
<path d="M542.40 781.30 L543.06 782.89 L544.78 783.03 L543.47 784.15 L543.87 785.82 L542.40 784.92 L540.93 785.82 L541.33 784.15 L540.02 783.03 L541.74 782.89Z" fill="none" stroke="#000" stroke-width="0.95" stroke-linejoin="miter"/>
</g>
<path d="M538.60 670.80h17.4" stroke="#000" stroke-width="1.3"/>
<path d="M547.30 667.80 L548.04 669.78 L550.15 669.87 L548.50 671.19 L549.06 673.23 L547.30 672.06 L545.54 673.23 L546.10 671.19 L544.45 669.87 L546.56 669.78Z" fill="#000" stroke="#000" stroke-width="0.6" stroke-linejoin="miter"/>
<text transform="scale(0.915 1)" x="612.24" y="674.10" font-size="8" fill="#111" stroke="#111">9 craters, N(1)=1.14x10<tspan font-size="4.9" dy="-4.0">-3</tspan><tspan dy="4.0"> km</tspan><tspan font-size="4.9" dy="-4.0">-2</tspan></text>
<path d="M538.60 683.55h17.4" stroke="#1155d4" stroke-width="1.3"/>
<path d="M545.10 681.45 L549.50 681.45 L547.30 685.45Z" fill="#1155d4" stroke="#1155d4" stroke-width="0.6" stroke-linejoin="miter"/>
<text transform="scale(0.915 1)" x="612.24" y="686.85" font-size="8" fill="#111" stroke="#111">1 craters, N(1)=1.11x10<tspan font-size="4.9" dy="-4.0">-3</tspan><tspan dy="4.0"> km</tspan><tspan font-size="4.9" dy="-4.0">-2</tspan></text>
<path d="M538.60 696.30h17.4" stroke="#1c8c1c" stroke-width="1.3"/>
<path d="M545.10 694.20 L549.50 694.20 L547.30 698.20Z" fill="#1c8c1c" stroke="#1c8c1c" stroke-width="0.6" stroke-linejoin="miter"/>
<text transform="scale(0.915 1)" x="612.24" y="699.60" font-size="8" fill="#111" stroke="#111">10 craters, N(1)=1.24x10<tspan font-size="4.9" dy="-4.0">-3</tspan><tspan dy="4.0"> km</tspan><tspan font-size="4.9" dy="-4.0">-2</tspan></text>
<path d="M426.80 866.85 L427.46 868.44 L429.18 868.58 L427.87 869.70 L428.27 871.37 L426.80 870.48 L425.33 871.37 L425.73 869.70 L424.42 868.58 L426.14 868.44Z" fill="none" stroke="#000" stroke-width="0.95" stroke-linejoin="miter"/>
<text x="433.80" y="872.15" font-size="7.3" fill="#111" stroke="#111">Impact Crater, area=3.75x10<tspan font-size="5" dy="-3.6">1</tspan><tspan dy="3.6"> km</tspan><tspan font-size="5" dy="-3.6">2</tspan></text>
<path d="M424.60 880.25 L429.20 880.25 L426.90 883.95Z" fill="none" stroke="#1155d4" stroke-width="1.1" stroke-linejoin="miter"/>
<text x="433.80" y="884.90" font-size="7.3" fill="#111" stroke="#111">Landslide LD7, area=2.64x10<tspan font-size="5" dy="-3.6">0</tspan><tspan dy="3.6"> km</tspan><tspan font-size="5" dy="-3.6">2</tspan></text>
<path d="M424.60 893.00 L429.20 893.00 L426.90 896.70Z" fill="none" stroke="#1c8c1c" stroke-width="1.1" stroke-linejoin="miter"/>
<text x="433.80" y="897.65" font-size="7.3" fill="#111" stroke="#111">Landslide LD8, area=3.61x10<tspan font-size="5" dy="-3.6">1</tspan><tspan dy="3.6"> km</tspan><tspan font-size="5" dy="-3.6">2</tspan></text>
<path d="M435.58 750.45 L435.85 748.58 L436.12 746.91 L436.39 745.45 L436.66 744.18 L436.93 743.08 L437.19 742.14 L437.46 741.34 L437.73 740.68 L438.00 740.13 L438.27 739.68 L438.54 739.33 L438.81 739.07 L439.08 738.89 L439.35 738.77 L439.62 738.71 L439.89 738.70 L440.16 738.75 L440.43 738.83 L440.70 738.95 L440.97 739.10 L441.24 739.28 L441.51 739.48 L441.78 739.70 L442.05 739.94 L442.32 740.19 L442.59 740.46 L442.86 740.73 L443.13 741.01 L443.40 741.29 L443.67 741.57 L443.94 741.86 L444.21 742.15 L444.48 742.44 L444.75 742.72 L445.02 743.01 L445.29 743.29 L445.56 743.56 L445.83 743.83 L446.10 744.10 L446.37 744.36 L446.64 744.61 L446.91 744.86 L447.18 745.11 L447.45 745.34 L447.72 745.57 L447.99 745.79 L448.26 746.01 L448.53 746.22 L448.80 746.42 L449.07 746.61 L449.34 746.80 L449.61 746.99 L449.88 747.16 L450.15 747.33 L450.42 747.49 L450.69 747.65 L450.96 747.80 L451.23 747.95 L451.50 748.09 L451.77 748.22 L452.04 748.35 L452.31 748.47 L452.58 748.59 L452.85 748.70 L453.12 748.81 L453.39 748.92 L453.66 749.01 L453.93 749.11 L454.20 749.20 L454.47 749.29 L454.74 749.37 L455.01 749.45 L455.28 749.53 L455.55 749.60 L455.82 749.67 L456.09 749.73 L456.36 749.79 L456.63 749.85 L456.90 749.91 L457.17 749.97 L457.44 750.02 L457.71 750.07 L457.98 750.11 L458.25 750.16 L458.52 750.20 L458.79 750.24 L459.06 750.28 L459.33 750.32 L459.60 750.35 L459.87 750.39 L460.14 750.42 L460.41 750.45 L460.68 750.48 L460.95 750.50 L461.22 750.53 L461.49 750.55 L461.76 750.58 L462.03 750.60 L462.30 750.62 L462.57 750.64 L462.84 750.66 L463.11 750.68 L463.38 750.69 L463.65 750.71 L463.92 750.73 L464.19 750.74 L464.46 750.75 L464.73 750.77 L465.00 750.78 L465.27 750.79 L465.54 750.80 L465.81 750.81 L466.08 750.82 L466.35 750.83 L466.62 750.84 L466.89 750.85 L467.16 750.86 L467.43 750.87 L467.70 750.87 L467.97 750.88 L468.24 750.89 L468.51 750.89 L468.78 750.90 L469.05 750.90 L469.32 750.91 L469.59 750.91 L469.86 750.92 L470.13 750.92 L470.40 750.93 L470.67 750.93 L470.94 750.93 L471.21 750.94 L471.48 750.94 L471.75 750.95 L472.02 750.95 L472.29 750.95 L472.56 750.95 L472.83 750.96 L473.10 750.96 L473.10 751.00 L435.58 751.00Z" fill="#e4e4e4" stroke="none"/>
<path d="M438.54 751.00 L438.54 739.33 L438.81 739.07 L439.08 738.89 L439.35 738.77 L439.62 738.71 L439.89 738.70 L440.16 738.75 L440.43 738.83 L440.70 738.95 L440.97 739.10 L441.24 739.28 L441.51 739.48 L441.78 739.70 L442.05 739.94 L442.32 740.19 L442.59 740.46 L442.86 740.73 L443.13 741.01 L443.40 741.29 L443.67 741.57 L443.94 741.86 L444.21 742.15 L444.48 742.44 L444.75 742.72 L445.02 743.01 L445.29 743.29 L445.56 743.56 L445.83 743.83 L446.10 744.10 L446.37 744.36 L446.64 744.61 L446.91 744.86 L447.18 745.11 L447.45 745.34 L447.72 745.57 L447.99 745.79 L448.26 746.01 L448.53 746.22 L448.80 746.42 L449.07 746.61 L449.34 746.80 L449.34 751.00Z" fill="#b4b4b4" stroke="none"/>
<path d="M438.51 751.00V739.38" stroke="#1155d4" stroke-width="1.0"/>
<path d="M449.41 751.00V746.85" stroke="#1155d4" stroke-width="1.0"/>
<path d="M442.64 751.00V740.51" stroke="#1155d4" stroke-width="1.5"/>
<path d="M435.58 750.45 L435.85 748.58 L436.12 746.91 L436.39 745.45 L436.66 744.18 L436.93 743.08 L437.19 742.14 L437.46 741.34 L437.73 740.68 L438.00 740.13 L438.27 739.68 L438.54 739.33 L438.81 739.07 L439.08 738.89 L439.35 738.77 L439.62 738.71 L439.89 738.70 L440.16 738.75 L440.43 738.83 L440.70 738.95 L440.97 739.10 L441.24 739.28 L441.51 739.48 L441.78 739.70 L442.05 739.94 L442.32 740.19 L442.59 740.46 L442.86 740.73 L443.13 741.01 L443.40 741.29 L443.67 741.57 L443.94 741.86 L444.21 742.15 L444.48 742.44 L444.75 742.72 L445.02 743.01 L445.29 743.29 L445.56 743.56 L445.83 743.83 L446.10 744.10 L446.37 744.36 L446.64 744.61 L446.91 744.86 L447.18 745.11 L447.45 745.34 L447.72 745.57 L447.99 745.79 L448.26 746.01 L448.53 746.22 L448.80 746.42 L449.07 746.61 L449.34 746.80 L449.61 746.99 L449.88 747.16 L450.15 747.33 L450.42 747.49 L450.69 747.65 L450.96 747.80 L451.23 747.95 L451.50 748.09 L451.77 748.22 L452.04 748.35 L452.31 748.47 L452.58 748.59 L452.85 748.70 L453.12 748.81 L453.39 748.92 L453.66 749.01 L453.93 749.11 L454.20 749.20 L454.47 749.29 L454.74 749.37 L455.01 749.45 L455.28 749.53 L455.55 749.60 L455.82 749.67 L456.09 749.73 L456.36 749.79 L456.63 749.85 L456.90 749.91 L457.17 749.97 L457.44 750.02 L457.71 750.07 L457.98 750.11 L458.25 750.16 L458.52 750.20 L458.79 750.24 L459.06 750.28 L459.33 750.32 L459.60 750.35 L459.87 750.39 L460.14 750.42 L460.41 750.45 L460.68 750.48 L460.95 750.50 L461.22 750.53 L461.49 750.55 L461.76 750.58 L462.03 750.60 L462.30 750.62 L462.57 750.64 L462.84 750.66 L463.11 750.68 L463.38 750.69 L463.65 750.71 L463.92 750.73 L464.19 750.74 L464.46 750.75 L464.73 750.77 L465.00 750.78 L465.27 750.79 L465.54 750.80 L465.81 750.81 L466.08 750.82 L466.35 750.83 L466.62 750.84 L466.89 750.85 L467.16 750.86 L467.43 750.87 L467.70 750.87 L467.97 750.88 L468.24 750.89 L468.51 750.89 L468.78 750.90 L469.05 750.90 L469.32 750.91 L469.59 750.91 L469.86 750.92 L470.13 750.92 L470.40 750.93 L470.67 750.93 L470.94 750.93 L471.21 750.94 L471.48 750.94 L471.75 750.95 L472.02 750.95 L472.29 750.95 L472.56 750.95 L472.83 750.96 L473.10 750.96" fill="none" stroke="#1155d4" stroke-width="1.1"/>
<path d="M435.50 751.00H474.30" stroke="#1155d4" stroke-width="1.2"/>
<text x="435.90" y="761.40" font-size="6.8" text-anchor="middle" fill="#1155d4" stroke="#1155d4">0</text>
<text x="454.70" y="761.40" font-size="6.8" text-anchor="middle" fill="#1155d4" stroke="#1155d4">50</text>
<text x="467.83" y="761.40" font-size="6.8" fill="#1155d4" stroke="#1155d4">100 Ma</text>
<text x="454.07" y="741.30" font-size="13.5" fill="#1155d4" stroke="#1155d4">19.0</text>
<text x="480.18" y="733.55" font-size="8.6" fill="#1155d4" stroke="#1155d4">+18</text>
<text x="482.42" y="745.50" font-size="8.6" fill="#1155d4" stroke="#1155d4">-11</text>
<text x="496.19" y="741.30" font-size="13.5" fill="#1155d4" stroke="#1155d4">Ma</text>
<path d="M434.18 792.00 L434.45 792.00 L434.72 792.00 L434.99 792.00 L435.26 792.00 L435.53 792.00 L435.79 792.00 L436.06 792.00 L436.33 792.00 L436.60 792.00 L436.87 792.00 L437.14 792.00 L437.41 791.99 L437.68 791.99 L437.95 791.98 L438.22 791.96 L438.49 791.94 L438.76 791.90 L439.03 791.85 L439.30 791.79 L439.57 791.71 L439.84 791.61 L440.11 791.48 L440.38 791.32 L440.65 791.14 L440.92 790.92 L441.19 790.67 L441.46 790.38 L441.73 790.06 L442.00 789.70 L442.27 789.30 L442.54 788.88 L442.81 788.43 L443.08 787.94 L443.35 787.44 L443.62 786.92 L443.89 786.38 L444.16 785.84 L444.43 785.29 L444.70 784.74 L444.97 784.20 L445.24 783.67 L445.51 783.16 L445.78 782.67 L446.05 782.21 L446.32 781.78 L446.59 781.37 L446.86 781.01 L447.13 780.69 L447.40 780.40 L447.67 780.16 L447.94 779.96 L448.21 779.81 L448.48 779.69 L448.75 779.63 L449.02 779.60 L449.29 779.62 L449.56 779.67 L449.83 779.76 L450.10 779.89 L450.37 780.05 L450.64 780.24 L450.91 780.46 L451.18 780.71 L451.45 780.98 L451.72 781.27 L451.99 781.57 L452.26 781.89 L452.53 782.22 L452.80 782.56 L453.07 782.91 L453.34 783.27 L453.61 783.62 L453.88 783.98 L454.15 784.34 L454.42 784.69 L454.69 785.04 L454.96 785.39 L455.23 785.73 L455.50 786.06 L455.77 786.38 L456.04 786.70 L456.31 787.00 L456.58 787.29 L456.85 787.58 L457.12 787.85 L457.39 788.11 L457.66 788.36 L457.93 788.59 L458.20 788.82 L458.47 789.04 L458.74 789.24 L459.01 789.43 L459.28 789.61 L459.55 789.79 L459.82 789.95 L460.09 790.10 L460.36 790.24 L460.63 790.38 L460.90 790.50 L461.17 790.62 L461.44 790.73 L461.71 790.83 L461.98 790.92 L462.25 791.01 L462.52 791.09 L462.79 791.17 L463.06 791.24 L463.33 791.30 L463.60 791.36 L463.87 791.42 L464.14 791.47 L464.41 791.52 L464.68 791.56 L464.95 791.60 L465.22 791.64 L465.49 791.67 L465.76 791.70 L466.03 791.73 L466.30 791.75 L466.57 791.78 L466.84 791.80 L467.11 791.82 L467.38 791.83 L467.65 791.85 L467.92 791.86 L468.19 791.88 L468.46 791.89 L468.73 791.90 L469.00 791.91 L469.27 791.92 L469.54 791.93 L469.81 791.93 L470.08 791.94 L470.35 791.95 L470.62 791.95 L470.89 791.96 L471.16 791.96 L471.43 791.97 L471.70 791.97 L471.70 792.00 L434.18 792.00Z" fill="#e4e4e4" stroke="none"/>
<path d="M445.78 792.00 L445.78 782.67 L446.05 782.21 L446.32 781.78 L446.59 781.37 L446.86 781.01 L447.13 780.69 L447.40 780.40 L447.67 780.16 L447.94 779.96 L448.21 779.81 L448.48 779.69 L448.75 779.63 L449.02 779.60 L449.29 779.62 L449.56 779.67 L449.83 779.76 L450.10 779.89 L450.37 780.05 L450.64 780.24 L450.91 780.46 L451.18 780.71 L451.45 780.98 L451.72 781.27 L451.99 781.57 L452.26 781.89 L452.53 782.22 L452.80 782.56 L453.07 782.91 L453.34 783.27 L453.61 783.62 L453.88 783.98 L454.15 784.34 L454.42 784.69 L454.69 785.04 L454.96 785.39 L455.23 785.73 L455.23 792.00Z" fill="#b4b4b4" stroke="none"/>
<path d="M445.68 792.00V782.86" stroke="#1c8c1c" stroke-width="1.0"/>
<path d="M455.38 792.00V785.91" stroke="#1c8c1c" stroke-width="1.0"/>
<path d="M450.04 792.00V779.86" stroke="#1c8c1c" stroke-width="1.5"/>
<path d="M434.18 792.00 L434.45 792.00 L434.72 792.00 L434.99 792.00 L435.26 792.00 L435.53 792.00 L435.79 792.00 L436.06 792.00 L436.33 792.00 L436.60 792.00 L436.87 792.00 L437.14 792.00 L437.41 791.99 L437.68 791.99 L437.95 791.98 L438.22 791.96 L438.49 791.94 L438.76 791.90 L439.03 791.85 L439.30 791.79 L439.57 791.71 L439.84 791.61 L440.11 791.48 L440.38 791.32 L440.65 791.14 L440.92 790.92 L441.19 790.67 L441.46 790.38 L441.73 790.06 L442.00 789.70 L442.27 789.30 L442.54 788.88 L442.81 788.43 L443.08 787.94 L443.35 787.44 L443.62 786.92 L443.89 786.38 L444.16 785.84 L444.43 785.29 L444.70 784.74 L444.97 784.20 L445.24 783.67 L445.51 783.16 L445.78 782.67 L446.05 782.21 L446.32 781.78 L446.59 781.37 L446.86 781.01 L447.13 780.69 L447.40 780.40 L447.67 780.16 L447.94 779.96 L448.21 779.81 L448.48 779.69 L448.75 779.63 L449.02 779.60 L449.29 779.62 L449.56 779.67 L449.83 779.76 L450.10 779.89 L450.37 780.05 L450.64 780.24 L450.91 780.46 L451.18 780.71 L451.45 780.98 L451.72 781.27 L451.99 781.57 L452.26 781.89 L452.53 782.22 L452.80 782.56 L453.07 782.91 L453.34 783.27 L453.61 783.62 L453.88 783.98 L454.15 784.34 L454.42 784.69 L454.69 785.04 L454.96 785.39 L455.23 785.73 L455.50 786.06 L455.77 786.38 L456.04 786.70 L456.31 787.00 L456.58 787.29 L456.85 787.58 L457.12 787.85 L457.39 788.11 L457.66 788.36 L457.93 788.59 L458.20 788.82 L458.47 789.04 L458.74 789.24 L459.01 789.43 L459.28 789.61 L459.55 789.79 L459.82 789.95 L460.09 790.10 L460.36 790.24 L460.63 790.38 L460.90 790.50 L461.17 790.62 L461.44 790.73 L461.71 790.83 L461.98 790.92 L462.25 791.01 L462.52 791.09 L462.79 791.17 L463.06 791.24 L463.33 791.30 L463.60 791.36 L463.87 791.42 L464.14 791.47 L464.41 791.52 L464.68 791.56 L464.95 791.60 L465.22 791.64 L465.49 791.67 L465.76 791.70 L466.03 791.73 L466.30 791.75 L466.57 791.78 L466.84 791.80 L467.11 791.82 L467.38 791.83 L467.65 791.85 L467.92 791.86 L468.19 791.88 L468.46 791.89 L468.73 791.90 L469.00 791.91 L469.27 791.92 L469.54 791.93 L469.81 791.93 L470.08 791.94 L470.35 791.95 L470.62 791.95 L470.89 791.96 L471.16 791.96 L471.43 791.97 L471.70 791.97" fill="none" stroke="#1c8c1c" stroke-width="1.1"/>
<path d="M434.10 792.00H472.90" stroke="#1c8c1c" stroke-width="1.2"/>
<text x="434.50" y="802.40" font-size="6.8" text-anchor="middle" fill="#1c8c1c" stroke="#1c8c1c">0</text>
<text x="468.32" y="802.40" font-size="6.8" fill="#1c8c1c" stroke="#1c8c1c">50 Ma</text>
<text x="462.52" y="781.90" font-size="13.5" fill="#1c8c1c" stroke="#1c8c1c">21.2</text>
<text x="488.48" y="774.15" font-size="8.6" fill="#1c8c1c" stroke="#1c8c1c">+7.1</text>
<text x="490.72" y="786.10" font-size="8.6" fill="#1c8c1c" stroke="#1c8c1c">-5.8</text>
<text x="506.89" y="781.90" font-size="13.5" fill="#1c8c1c" stroke="#1c8c1c">Ma</text>
<path d="M559.78 750.80 L560.05 750.80 L560.32 750.80 L560.59 750.80 L560.86 750.80 L561.13 750.80 L561.39 750.80 L561.66 750.80 L561.93 750.80 L562.20 750.79 L562.47 750.79 L562.74 750.78 L563.01 750.76 L563.28 750.74 L563.55 750.70 L563.82 750.65 L564.09 750.58 L564.36 750.48 L564.63 750.36 L564.90 750.20 L565.17 750.02 L565.44 749.79 L565.71 749.53 L565.98 749.22 L566.25 748.87 L566.52 748.49 L566.79 748.06 L567.06 747.60 L567.33 747.10 L567.60 746.58 L567.87 746.02 L568.14 745.45 L568.41 744.87 L568.68 744.28 L568.95 743.69 L569.22 743.10 L569.49 742.53 L569.76 741.97 L570.03 741.43 L570.30 740.92 L570.57 740.45 L570.84 740.01 L571.11 739.61 L571.38 739.26 L571.65 738.95 L571.92 738.69 L572.19 738.47 L572.46 738.31 L572.73 738.19 L573.00 738.12 L573.27 738.10 L573.54 738.12 L573.81 738.19 L574.08 738.29 L574.35 738.44 L574.62 738.62 L574.89 738.83 L575.16 739.07 L575.43 739.34 L575.70 739.63 L575.97 739.94 L576.24 740.27 L576.51 740.61 L576.78 740.96 L577.05 741.33 L577.32 741.70 L577.59 742.07 L577.86 742.45 L578.13 742.82 L578.40 743.19 L578.67 743.56 L578.94 743.93 L579.21 744.28 L579.48 744.63 L579.75 744.97 L580.02 745.30 L580.29 745.62 L580.56 745.93 L580.83 746.23 L581.10 746.51 L581.37 746.78 L581.64 747.04 L581.91 747.29 L582.18 747.53 L582.45 747.75 L582.72 747.97 L582.99 748.17 L583.26 748.36 L583.53 748.54 L583.80 748.70 L584.07 748.86 L584.34 749.01 L584.61 749.15 L584.88 749.28 L585.15 749.40 L585.42 749.51 L585.69 749.61 L585.96 749.71 L586.23 749.80 L586.50 749.89 L586.77 749.96 L587.04 750.03 L587.31 750.10 L587.58 750.16 L587.85 750.22 L588.12 750.27 L588.39 750.32 L588.66 750.36 L588.93 750.40 L589.20 750.44 L589.47 750.47 L589.74 750.50 L590.01 750.53 L590.28 750.55 L590.55 750.58 L590.82 750.60 L591.09 750.62 L591.36 750.63 L591.63 750.65 L591.90 750.67 L592.17 750.68 L592.44 750.69 L592.71 750.70 L592.98 750.71 L593.25 750.72 L593.52 750.73 L593.79 750.74 L594.06 750.74 L594.33 750.75 L594.60 750.75 L594.87 750.76 L595.14 750.76 L595.41 750.77 L595.68 750.77 L595.95 750.77 L596.22 750.78 L596.49 750.78 L596.76 750.78 L597.03 750.78 L597.30 750.78 L597.30 750.80 L559.78 750.80Z" fill="#e4e4e4" stroke="none"/>
<path d="M570.30 750.80 L570.30 740.92 L570.57 740.45 L570.84 740.01 L571.11 739.61 L571.38 739.26 L571.65 738.95 L571.92 738.69 L572.19 738.47 L572.46 738.31 L572.73 738.19 L573.00 738.12 L573.27 738.10 L573.54 738.12 L573.81 738.19 L574.08 738.29 L574.35 738.44 L574.62 738.62 L574.89 738.83 L575.16 739.07 L575.43 739.34 L575.70 739.63 L575.97 739.94 L576.24 740.27 L576.51 740.61 L576.78 740.96 L577.05 741.33 L577.32 741.70 L577.59 742.07 L577.86 742.45 L578.13 742.82 L578.40 743.19 L578.67 743.56 L578.94 743.93 L579.21 744.28 L579.21 750.80Z" fill="#b4b4b4" stroke="none"/>
<path d="M570.08 750.80V741.35" stroke="#000" stroke-width="1.0"/>
<path d="M579.48 750.80V744.63" stroke="#000" stroke-width="1.0"/>
<path d="M574.29 750.80V738.40" stroke="#000" stroke-width="1.5"/>
<path d="M559.78 750.80 L560.05 750.80 L560.32 750.80 L560.59 750.80 L560.86 750.80 L561.13 750.80 L561.39 750.80 L561.66 750.80 L561.93 750.80 L562.20 750.79 L562.47 750.79 L562.74 750.78 L563.01 750.76 L563.28 750.74 L563.55 750.70 L563.82 750.65 L564.09 750.58 L564.36 750.48 L564.63 750.36 L564.90 750.20 L565.17 750.02 L565.44 749.79 L565.71 749.53 L565.98 749.22 L566.25 748.87 L566.52 748.49 L566.79 748.06 L567.06 747.60 L567.33 747.10 L567.60 746.58 L567.87 746.02 L568.14 745.45 L568.41 744.87 L568.68 744.28 L568.95 743.69 L569.22 743.10 L569.49 742.53 L569.76 741.97 L570.03 741.43 L570.30 740.92 L570.57 740.45 L570.84 740.01 L571.11 739.61 L571.38 739.26 L571.65 738.95 L571.92 738.69 L572.19 738.47 L572.46 738.31 L572.73 738.19 L573.00 738.12 L573.27 738.10 L573.54 738.12 L573.81 738.19 L574.08 738.29 L574.35 738.44 L574.62 738.62 L574.89 738.83 L575.16 739.07 L575.43 739.34 L575.70 739.63 L575.97 739.94 L576.24 740.27 L576.51 740.61 L576.78 740.96 L577.05 741.33 L577.32 741.70 L577.59 742.07 L577.86 742.45 L578.13 742.82 L578.40 743.19 L578.67 743.56 L578.94 743.93 L579.21 744.28 L579.48 744.63 L579.75 744.97 L580.02 745.30 L580.29 745.62 L580.56 745.93 L580.83 746.23 L581.10 746.51 L581.37 746.78 L581.64 747.04 L581.91 747.29 L582.18 747.53 L582.45 747.75 L582.72 747.97 L582.99 748.17 L583.26 748.36 L583.53 748.54 L583.80 748.70 L584.07 748.86 L584.34 749.01 L584.61 749.15 L584.88 749.28 L585.15 749.40 L585.42 749.51 L585.69 749.61 L585.96 749.71 L586.23 749.80 L586.50 749.89 L586.77 749.96 L587.04 750.03 L587.31 750.10 L587.58 750.16 L587.85 750.22 L588.12 750.27 L588.39 750.32 L588.66 750.36 L588.93 750.40 L589.20 750.44 L589.47 750.47 L589.74 750.50 L590.01 750.53 L590.28 750.55 L590.55 750.58 L590.82 750.60 L591.09 750.62 L591.36 750.63 L591.63 750.65 L591.90 750.67 L592.17 750.68 L592.44 750.69 L592.71 750.70 L592.98 750.71 L593.25 750.72 L593.52 750.73 L593.79 750.74 L594.06 750.74 L594.33 750.75 L594.60 750.75 L594.87 750.76 L595.14 750.76 L595.41 750.77 L595.68 750.77 L595.95 750.77 L596.22 750.78 L596.49 750.78 L596.76 750.78 L597.03 750.78 L597.30 750.78" fill="none" stroke="#000" stroke-width="1.1"/>
<path d="M559.70 750.80H598.50" stroke="#000" stroke-width="1.2"/>
<text x="560.10" y="761.20" font-size="6.8" text-anchor="middle" fill="#000" stroke="#000">0</text>
<text x="593.92" y="761.20" font-size="6.8" fill="#000" stroke="#000">50 Ma</text>
<text x="586.27" y="741.00" font-size="13.5" fill="#000" stroke="#000">19.4</text>
<text x="613.08" y="733.25" font-size="8.6" fill="#000" stroke="#000">+6.9</text>
<text x="615.12" y="745.20" font-size="8.6" fill="#000" stroke="#000">-5.6</text>
<text x="631.49" y="741.00" font-size="13.5" fill="#000" stroke="#000">Ma</text>
<rect x="411.60" y="651.20" width="257.25" height="257.25" fill="none" stroke="#000" stroke-width="1.1"/>
<path d="M427.09 908.45v-2.5M427.09 651.20v2.5M411.60 892.96h2.5M668.85 892.96h-2.5M436.15 908.45v-2.5M436.15 651.20v2.5M411.60 883.90h2.5M668.85 883.90h-2.5M442.58 908.45v-2.5M442.58 651.20v2.5M411.60 877.47h2.5M668.85 877.47h-2.5M447.56 908.45v-2.5M447.56 651.20v2.5M411.60 872.49h2.5M668.85 872.49h-2.5M451.64 908.45v-2.5M451.64 651.20v2.5M411.60 868.41h2.5M668.85 868.41h-2.5M455.08 908.45v-2.5M455.08 651.20v2.5M411.60 864.97h2.5M668.85 864.97h-2.5M458.06 908.45v-2.5M458.06 651.20v2.5M411.60 861.99h2.5M668.85 861.99h-2.5M460.70 908.45v-2.5M460.70 651.20v2.5M411.60 859.35h2.5M668.85 859.35h-2.5M463.05 908.45v-5M463.05 651.20v5M411.60 857.00h5M668.85 857.00h-5M478.54 908.45v-2.5M478.54 651.20v2.5M411.60 841.51h2.5M668.85 841.51h-2.5M487.60 908.45v-2.5M487.60 651.20v2.5M411.60 832.45h2.5M668.85 832.45h-2.5M494.03 908.45v-2.5M494.03 651.20v2.5M411.60 826.02h2.5M668.85 826.02h-2.5M499.01 908.45v-2.5M499.01 651.20v2.5M411.60 821.04h2.5M668.85 821.04h-2.5M503.09 908.45v-2.5M503.09 651.20v2.5M411.60 816.96h2.5M668.85 816.96h-2.5M506.53 908.45v-2.5M506.53 651.20v2.5M411.60 813.52h2.5M668.85 813.52h-2.5M509.51 908.45v-2.5M509.51 651.20v2.5M411.60 810.54h2.5M668.85 810.54h-2.5M512.15 908.45v-2.5M512.15 651.20v2.5M411.60 807.90h2.5M668.85 807.90h-2.5M514.50 908.45v-5M514.50 651.20v5M411.60 805.55h5M668.85 805.55h-5M529.99 908.45v-2.5M529.99 651.20v2.5M411.60 790.06h2.5M668.85 790.06h-2.5M539.05 908.45v-2.5M539.05 651.20v2.5M411.60 781.00h2.5M668.85 781.00h-2.5M545.48 908.45v-2.5M545.48 651.20v2.5M411.60 774.57h2.5M668.85 774.57h-2.5M550.46 908.45v-2.5M550.46 651.20v2.5M411.60 769.59h2.5M668.85 769.59h-2.5M554.54 908.45v-2.5M554.54 651.20v2.5M411.60 765.51h2.5M668.85 765.51h-2.5M557.98 908.45v-2.5M557.98 651.20v2.5M411.60 762.07h2.5M668.85 762.07h-2.5M560.96 908.45v-2.5M560.96 651.20v2.5M411.60 759.09h2.5M668.85 759.09h-2.5M563.60 908.45v-2.5M563.60 651.20v2.5M411.60 756.45h2.5M668.85 756.45h-2.5M565.95 908.45v-5M565.95 651.20v5M411.60 754.10h5M668.85 754.10h-5M581.44 908.45v-2.5M581.44 651.20v2.5M411.60 738.61h2.5M668.85 738.61h-2.5M590.50 908.45v-2.5M590.50 651.20v2.5M411.60 729.55h2.5M668.85 729.55h-2.5M596.93 908.45v-2.5M596.93 651.20v2.5M411.60 723.12h2.5M668.85 723.12h-2.5M601.91 908.45v-2.5M601.91 651.20v2.5M411.60 718.14h2.5M668.85 718.14h-2.5M605.99 908.45v-2.5M605.99 651.20v2.5M411.60 714.06h2.5M668.85 714.06h-2.5M609.43 908.45v-2.5M609.43 651.20v2.5M411.60 710.62h2.5M668.85 710.62h-2.5M612.41 908.45v-2.5M612.41 651.20v2.5M411.60 707.64h2.5M668.85 707.64h-2.5M615.05 908.45v-2.5M615.05 651.20v2.5M411.60 705.00h2.5M668.85 705.00h-2.5M617.40 908.45v-5M617.40 651.20v5M411.60 702.65h5M668.85 702.65h-5M632.89 908.45v-2.5M632.89 651.20v2.5M411.60 687.16h2.5M668.85 687.16h-2.5M641.95 908.45v-2.5M641.95 651.20v2.5M411.60 678.10h2.5M668.85 678.10h-2.5M648.38 908.45v-2.5M648.38 651.20v2.5M411.60 671.67h2.5M668.85 671.67h-2.5M653.36 908.45v-2.5M653.36 651.20v2.5M411.60 666.69h2.5M668.85 666.69h-2.5M657.44 908.45v-2.5M657.44 651.20v2.5M411.60 662.61h2.5M668.85 662.61h-2.5M660.88 908.45v-2.5M660.88 651.20v2.5M411.60 659.17h2.5M668.85 659.17h-2.5M663.86 908.45v-2.5M663.86 651.20v2.5M411.60 656.19h2.5M668.85 656.19h-2.5M666.50 908.45v-2.5M666.50 651.20v2.5M411.60 653.55h2.5M668.85 653.55h-2.5" stroke="#000" stroke-width="1" fill="none"/>
<text x="407.40" y="659.80" font-size="10.4" text-anchor="end" fill="#111" stroke="#111">10<tspan font-size="6.8" dy="-5.4">1</tspan></text>
<text x="407.40" y="707.65" font-size="10.4" text-anchor="end" fill="#111" stroke="#111">10<tspan font-size="6.8" dy="-5.4">0</tspan></text>
<text x="407.40" y="759.10" font-size="10.4" text-anchor="end" fill="#111" stroke="#111">10<tspan font-size="6.8" dy="-5.4">-1</tspan></text>
<text x="407.40" y="810.55" font-size="10.4" text-anchor="end" fill="#111" stroke="#111">10<tspan font-size="6.8" dy="-5.4">-2</tspan></text>
<text x="407.40" y="862.00" font-size="10.4" text-anchor="end" fill="#111" stroke="#111">10<tspan font-size="6.8" dy="-5.4">-3</tspan></text>
<text x="407.40" y="908.55" font-size="10.4" text-anchor="end" fill="#111" stroke="#111">10<tspan font-size="6.8" dy="-5.4">-4</tspan></text>
<text x="411.60" y="927.05" font-size="10.4" text-anchor="middle" fill="#111" stroke="#111">1 m</text>
<text x="463.05" y="927.05" font-size="10.4" text-anchor="middle" fill="#111" stroke="#111">10 m</text>
<text x="514.50" y="927.05" font-size="10.4" text-anchor="middle" fill="#111" stroke="#111">100 m</text>
<text x="565.95" y="927.05" font-size="10.4" text-anchor="middle" fill="#111" stroke="#111">1 km</text>
<text x="617.40" y="927.05" font-size="10.4" text-anchor="middle" fill="#111" stroke="#111">10 km</text>
<text x="668.85" y="927.05" font-size="10.4" text-anchor="middle" fill="#111" stroke="#111">100 km</text>
<text x="540.23" y="942.95" font-size="10.6" text-anchor="middle" fill="#111" stroke="#111">Diameter</text>
<text transform="translate(378.70,779.33) rotate(-90)" font-size="10.55" text-anchor="middle" fill="#111" stroke="#111">Cumulative crater density, km<tspan font-size="7" dy="-4.5">-2</tspan></text>
<text x="377.2" y="662.9" font-size="18" font-weight="bold" text-anchor="end" fill="#000" stroke="#000">f)</text>
</svg>
</body></html>
